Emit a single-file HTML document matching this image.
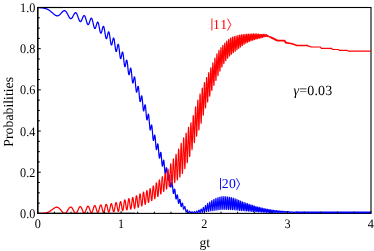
<!DOCTYPE html>
<html><head><meta charset="utf-8"><title>plot</title>
<style>
html,body{margin:0;padding:0;background:#fff;}
body{width:374px;height:251px;overflow:hidden;font-family:"Liberation Serif",serif;}
svg{display:block;will-change:transform;}
text{font-family:"Liberation Serif",serif;font-size:13px;fill:#000;text-rendering:geometricPrecision;}
</style></head><body>
<svg width="374" height="251" viewBox="0 0 374 251">
<rect x="0" y="0" width="374" height="251" fill="#fff"/>
<g stroke="#000" stroke-width="1.1" fill="none">
<rect x="37.75" y="7.5" width="333.25" height="205.90"/>
<line x1="37.75" y1="213.95000000000002" x2="37.75" y2="6.95" stroke-width="1.3"/>
</g>
<g fill="none" stroke-linejoin="round" stroke-linecap="butt">
<polyline stroke="#0000ff" stroke-width="1.22" points="37.8,7.5 37.8,7.5 37.8,7.5 37.9,7.5 37.9,7.5 37.9,7.5 38.0,7.5 38.0,7.5 38.0,7.5 38.1,7.5 38.1,7.5 38.2,7.5 38.2,7.5 38.2,7.5 38.3,7.5 38.3,7.5 38.3,7.5 38.4,7.5 38.4,7.5 38.5,7.6 38.5,7.6 38.5,7.6 38.6,7.6 38.6,7.6 38.6,7.6 38.7,7.6 38.7,7.6 38.7,7.6 38.8,7.6 38.8,7.6 38.9,7.6 38.9,7.6 38.9,7.6 39.0,7.6 39.0,7.6 39.0,7.6 39.1,7.6 39.1,7.6 39.2,7.6 39.2,7.6 39.2,7.6 39.3,7.6 39.3,7.6 39.3,7.6 39.4,7.6 39.4,7.6 39.5,7.6 39.5,7.6 39.5,7.6 39.6,7.6 39.6,7.6 39.6,7.6 39.7,7.6 39.7,7.6 39.7,7.7 39.8,7.7 39.8,7.7 39.9,7.7 39.9,7.7 39.9,7.7 40.0,7.7 40.0,7.7 40.0,7.7 40.1,7.7 40.1,7.7 40.2,7.7 40.2,7.7 40.2,7.7 40.3,7.7 40.3,7.7 40.3,7.7 40.4,7.7 40.4,7.7 40.5,7.7 40.5,7.7 40.5,7.7 40.6,7.7 40.6,7.7 40.6,7.7 40.7,7.7 40.7,7.7 40.7,7.7 40.8,7.7 40.8,7.7 40.9,7.8 40.9,7.8 40.9,7.8 41.0,7.8 41.0,7.8 41.0,7.8 41.1,7.8 41.1,7.8 41.2,7.8 41.2,7.8 41.2,7.8 41.3,7.8 41.3,7.8 41.3,7.8 41.4,7.8 41.4,7.8 41.5,7.8 41.5,7.8 41.5,7.8 41.6,7.8 41.6,7.8 41.6,7.8 41.7,7.8 41.7,7.8 41.7,7.8 41.8,7.8 41.8,7.9 41.9,7.9 41.9,7.9 41.9,7.9 42.0,7.9 42.0,7.9 42.0,7.9 42.1,7.9 42.1,7.9 42.2,7.9 42.2,7.9 42.2,7.9 42.3,7.9 42.3,7.9 42.3,7.9 42.4,7.9 42.4,7.9 42.5,7.9 42.5,7.9 42.5,7.9 42.6,7.9 42.6,8.0 42.6,8.0 42.7,8.0 42.7,8.0 42.7,8.0 42.8,8.0 42.8,8.0 42.9,8.0 42.9,8.0 42.9,8.0 43.0,8.0 43.0,8.0 43.0,8.0 43.1,8.0 43.1,8.0 43.2,8.0 43.2,8.0 43.2,8.0 43.3,8.1 43.3,8.1 43.3,8.1 43.4,8.1 43.4,8.1 43.5,8.1 43.5,8.1 43.5,8.1 43.6,8.1 43.6,8.1 43.6,8.1 43.7,8.1 43.7,8.1 43.7,8.1 43.8,8.1 43.8,8.1 43.9,8.2 43.9,8.2 43.9,8.2 44.0,8.2 44.0,8.2 44.0,8.2 44.1,8.2 44.1,8.2 44.2,8.2 44.2,8.2 44.2,8.2 44.3,8.2 44.3,8.2 44.3,8.3 44.4,8.3 44.4,8.3 44.5,8.3 44.5,8.3 44.5,8.3 44.6,8.3 44.6,8.3 44.6,8.3 44.7,8.3 44.7,8.3 44.7,8.3 44.8,8.4 44.8,8.4 44.9,8.4 44.9,8.4 44.9,8.4 45.0,8.4 45.0,8.4 45.0,8.4 45.1,8.4 45.1,8.4 45.2,8.4 45.2,8.5 45.2,8.5 45.3,8.5 45.3,8.5 45.3,8.5 45.4,8.5 45.4,8.5 45.4,8.5 45.5,8.5 45.5,8.6 45.6,8.6 45.6,8.6 45.6,8.6 45.7,8.6 45.7,8.6 45.7,8.6 45.8,8.6 45.8,8.6 45.9,8.7 45.9,8.7 45.9,8.7 46.0,8.7 46.0,8.7 46.0,8.7 46.1,8.7 46.1,8.7 46.2,8.8 46.2,8.8 46.2,8.8 46.3,8.8 46.3,8.8 46.3,8.8 46.4,8.8 46.4,8.8 46.4,8.9 46.5,8.9 46.5,8.9 46.6,8.9 46.6,8.9 46.6,8.9 46.7,8.9 46.7,9.0 46.7,9.0 46.8,9.0 46.8,9.0 46.9,9.0 46.9,9.0 46.9,9.1 47.0,9.1 47.0,9.1 47.0,9.1 47.1,9.1 47.1,9.1 47.2,9.1 47.2,9.2 47.2,9.2 47.3,9.2 47.3,9.2 47.3,9.2 47.4,9.2 47.4,9.3 47.4,9.3 47.5,9.3 47.5,9.3 47.6,9.3 47.6,9.3 47.6,9.4 47.7,9.4 47.7,9.4 47.7,9.4 47.8,9.4 47.8,9.5 47.9,9.5 47.9,9.5 47.9,9.5 48.0,9.5 48.0,9.6 48.0,9.6 48.1,9.6 48.1,9.6 48.2,9.6 48.2,9.7 48.2,9.7 48.3,9.7 48.3,9.7 48.3,9.7 48.4,9.8 48.4,9.8 48.4,9.8 48.5,9.8 48.5,9.8 48.6,9.9 48.6,9.9 48.6,9.9 48.7,9.9 48.7,10.0 48.7,10.0 48.8,10.0 48.8,10.0 48.9,10.0 48.9,10.1 48.9,10.1 49.0,10.1 49.0,10.1 49.0,10.2 49.1,10.2 49.1,10.2 49.2,10.2 49.2,10.3 49.2,10.3 49.3,10.3 49.3,10.3 49.3,10.4 49.4,10.4 49.4,10.4 49.4,10.4 49.5,10.5 49.5,10.5 49.6,10.5 49.6,10.5 49.6,10.6 49.7,10.6 49.7,10.6 49.7,10.6 49.8,10.7 49.8,10.7 49.9,10.7 49.9,10.7 49.9,10.8 50.0,10.8 50.0,10.8 50.0,10.9 50.1,10.9 50.1,10.9 50.2,10.9 50.2,11.0 50.2,11.0 50.3,11.0 50.3,11.0 50.3,11.1 50.4,11.1 50.4,11.1 50.4,11.2 50.5,11.2 50.5,11.2 50.6,11.2 50.6,11.3 50.6,11.3 50.7,11.3 50.7,11.4 50.7,11.4 50.8,11.4 50.8,11.5 50.9,11.5 50.9,11.5 50.9,11.5 51.0,11.6 51.0,11.6 51.0,11.6 51.1,11.7 51.1,11.7 51.2,11.7 51.2,11.8 51.2,11.8 51.3,11.8 51.3,11.9 51.3,11.9 51.4,11.9 51.4,12.0 51.4,12.0 51.5,12.0 51.5,12.0 51.6,12.1 51.6,12.1 51.6,12.1 51.7,12.2 51.7,12.2 51.7,12.2 51.8,12.3 51.8,12.3 51.9,12.3 51.9,12.4 51.9,12.4 52.0,12.4 52.0,12.5 52.0,12.5 52.1,12.5 52.1,12.6 52.1,12.6 52.2,12.6 52.2,12.7 52.3,12.7 52.3,12.7 52.3,12.8 52.4,12.8 52.4,12.8 52.4,12.9 52.5,12.9 52.5,12.9 52.6,13.0 52.6,13.0 52.6,13.0 52.7,13.1 52.7,13.1 52.7,13.1 52.8,13.2 52.8,13.2 52.9,13.2 52.9,13.3 52.9,13.3 53.0,13.3 53.0,13.4 53.0,13.4 53.1,13.4 53.1,13.5 53.1,13.5 53.2,13.5 53.2,13.6 53.3,13.6 53.3,13.6 53.3,13.7 53.4,13.7 53.4,13.7 53.4,13.7 53.5,13.8 53.5,13.8 53.6,13.8 53.6,13.9 53.6,13.9 53.7,13.9 53.7,14.0 53.7,14.0 53.8,14.0 53.8,14.1 53.9,14.1 53.9,14.1 53.9,14.2 54.0,14.2 54.0,14.2 54.0,14.3 54.1,14.3 54.1,14.3 54.1,14.3 54.2,14.4 54.2,14.4 54.3,14.4 54.3,14.5 54.3,14.5 54.4,14.5 54.4,14.5 54.4,14.6 54.5,14.6 54.5,14.6 54.6,14.7 54.6,14.7 54.6,14.7 54.7,14.7 54.7,14.8 54.7,14.8 54.8,14.8 54.8,14.8 54.9,14.9 54.9,14.9 54.9,14.9 55.0,14.9 55.0,15.0 55.0,15.0 55.1,15.0 55.1,15.0 55.1,15.1 55.2,15.1 55.2,15.1 55.3,15.1 55.3,15.2 55.3,15.2 55.4,15.2 55.4,15.2 55.4,15.3 55.5,15.3 55.5,15.3 55.6,15.3 55.6,15.3 55.6,15.4 55.7,15.4 55.7,15.4 55.7,15.4 55.8,15.4 55.8,15.4 55.9,15.5 55.9,15.5 55.9,15.5 56.0,15.5 56.0,15.5 56.0,15.5 56.1,15.6 56.1,15.6 56.1,15.6 56.2,15.6 56.2,15.6 56.3,15.6 56.3,15.6 56.3,15.7 56.4,15.7 56.4,15.7 56.4,15.7 56.5,15.7 56.5,15.7 56.6,15.7 56.6,15.7 56.6,15.7 56.7,15.7 56.7,15.8 56.7,15.8 56.8,15.8 56.8,15.8 56.9,15.8 56.9,15.8 56.9,15.8 57.0,15.8 57.0,15.8 57.0,15.8 57.1,15.8 57.1,15.8 57.1,15.8 57.2,15.8 57.2,15.8 57.3,15.8 57.3,15.8 57.3,15.8 57.4,15.8 57.4,15.8 57.4,15.8 57.5,15.8 57.5,15.8 57.6,15.8 57.6,15.8 57.6,15.8 57.7,15.8 57.7,15.8 57.7,15.8 57.8,15.8 57.8,15.8 57.9,15.8 57.9,15.8 57.9,15.7 58.0,15.7 58.0,15.7 58.0,15.7 58.1,15.7 58.1,15.7 58.1,15.7 58.2,15.7 58.2,15.7 58.3,15.6 58.3,15.6 58.3,15.6 58.4,15.6 58.4,15.6 58.4,15.6 58.5,15.6 58.5,15.5 58.6,15.5 58.6,15.5 58.6,15.5 58.7,15.5 58.7,15.4 58.7,15.4 58.8,15.4 58.8,15.4 58.8,15.4 58.9,15.3 58.9,15.3 59.0,15.3 59.0,15.3 59.0,15.2 59.1,15.2 59.1,15.2 59.1,15.2 59.2,15.1 59.2,15.1 59.3,15.1 59.3,15.1 59.3,15.0 59.4,15.0 59.4,15.0 59.4,14.9 59.5,14.9 59.5,14.9 59.6,14.9 59.6,14.8 59.6,14.8 59.7,14.8 59.7,14.7 59.7,14.7 59.8,14.7 59.8,14.6 59.8,14.6 59.9,14.6 59.9,14.5 60.0,14.5 60.0,14.5 60.0,14.4 60.1,14.4 60.1,14.3 60.1,14.3 60.2,14.3 60.2,14.2 60.3,14.2 60.3,14.2 60.3,14.1 60.4,14.1 60.4,14.0 60.4,14.0 60.5,14.0 60.5,13.9 60.6,13.9 60.6,13.8 60.6,13.8 60.7,13.8 60.7,13.7 60.7,13.7 60.8,13.6 60.8,13.6 60.8,13.6 60.9,13.5 60.9,13.5 61.0,13.4 61.0,13.4 61.0,13.3 61.1,13.3 61.1,13.3 61.1,13.2 61.2,13.2 61.2,13.1 61.3,13.1 61.3,13.0 61.3,13.0 61.4,13.0 61.4,12.9 61.4,12.9 61.5,12.8 61.5,12.8 61.6,12.7 61.6,12.7 61.6,12.7 61.7,12.6 61.7,12.6 61.7,12.5 61.8,12.5 61.8,12.5 61.8,12.4 61.9,12.4 61.9,12.3 62.0,12.3 62.0,12.2 62.0,12.2 62.1,12.2 62.1,12.1 62.1,12.1 62.2,12.0 62.2,12.0 62.3,12.0 62.3,11.9 62.3,11.9 62.4,11.8 62.4,11.8 62.4,11.8 62.5,11.7 62.5,11.7 62.6,11.7 62.6,11.6 62.6,11.6 62.7,11.6 62.7,11.5 62.7,11.5 62.8,11.4 62.8,11.4 62.8,11.4 62.9,11.4 62.9,11.3 63.0,11.3 63.0,11.3 63.0,11.2 63.1,11.2 63.1,11.2 63.1,11.1 63.2,11.1 63.2,11.1 63.3,11.1 63.3,11.0 63.3,11.0 63.4,11.0 63.4,11.0 63.4,10.9 63.5,10.9 63.5,10.9 63.6,10.9 63.6,10.9 63.6,10.8 63.7,10.8 63.7,10.8 63.7,10.8 63.8,10.8 63.8,10.8 63.8,10.7 63.9,10.7 63.9,10.7 64.0,10.7 64.0,10.7 64.0,10.7 64.1,10.7 64.1,10.7 64.1,10.7 64.2,10.6 64.2,10.6 64.3,10.6 64.3,10.6 64.3,10.6 64.4,10.6 64.4,10.6 64.4,10.6 64.5,10.6 64.5,10.6 64.6,10.6 64.6,10.6 64.6,10.6 64.7,10.7 64.7,10.7 64.7,10.7 64.8,10.7 64.8,10.7 64.8,10.7 64.9,10.7 64.9,10.7 65.0,10.7 65.0,10.8 65.0,10.8 65.1,10.8 65.1,10.8 65.1,10.8 65.2,10.8 65.2,10.9 65.3,10.9 65.3,10.9 65.3,10.9 65.4,11.0 65.4,11.0 65.4,11.0 65.5,11.1 65.5,11.1 65.5,11.1 65.6,11.1 65.6,11.2 65.7,11.2 65.7,11.2 65.7,11.3 65.8,11.3 65.8,11.4 65.8,11.4 65.9,11.4 65.9,11.5 66.0,11.5 66.0,11.6 66.0,11.6 66.1,11.7 66.1,11.7 66.1,11.7 66.2,11.8 66.2,11.8 66.3,11.9 66.3,11.9 66.3,12.0 66.4,12.0 66.4,12.1 66.4,12.2 66.5,12.2 66.5,12.3 66.5,12.3 66.6,12.4 66.6,12.4 66.7,12.5 66.7,12.6 66.7,12.6 66.8,12.7 66.8,12.7 66.8,12.8 66.9,12.9 66.9,12.9 67.0,13.0 67.0,13.1 67.0,13.1 67.1,13.2 67.1,13.3 67.1,13.3 67.2,13.4 67.2,13.5 67.3,13.5 67.3,13.6 67.3,13.7 67.4,13.7 67.4,13.8 67.4,13.9 67.5,14.0 67.5,14.0 67.5,14.1 67.6,14.2 67.6,14.2 67.7,14.3 67.7,14.4 67.7,14.5 67.8,14.5 67.8,14.6 67.8,14.7 67.9,14.8 67.9,14.8 68.0,14.9 68.0,15.0 68.0,15.0 68.1,15.1 68.1,15.2 68.1,15.3 68.2,15.3 68.2,15.4 68.3,15.5 68.3,15.6 68.3,15.6 68.4,15.7 68.4,15.8 68.4,15.8 68.5,15.9 68.5,16.0 68.5,16.1 68.6,16.1 68.6,16.2 68.7,16.3 68.7,16.3 68.7,16.4 68.8,16.5 68.8,16.5 68.8,16.6 68.9,16.7 68.9,16.7 69.0,16.8 69.0,16.9 69.0,16.9 69.1,17.0 69.1,17.0 69.1,17.1 69.2,17.2 69.2,17.2 69.3,17.3 69.3,17.3 69.3,17.4 69.4,17.5 69.4,17.5 69.4,17.6 69.5,17.6 69.5,17.7 69.5,17.7 69.6,17.8 69.6,17.8 69.7,17.9 69.7,17.9 69.7,17.9 69.8,18.0 69.8,18.0 69.8,18.1 69.9,18.1 69.9,18.1 70.0,18.2 70.0,18.2 70.0,18.3 70.1,18.3 70.1,18.3 70.1,18.3 70.2,18.4 70.2,18.4 70.3,18.4 70.3,18.5 70.3,18.5 70.4,18.5 70.4,18.5 70.4,18.5 70.5,18.6 70.5,18.6 70.5,18.6 70.6,18.6 70.6,18.6 70.7,18.6 70.7,18.6 70.7,18.6 70.8,18.6 70.8,18.6 70.8,18.6 70.9,18.6 70.9,18.6 71.0,18.6 71.0,18.6 71.0,18.6 71.1,18.6 71.1,18.6 71.1,18.6 71.2,18.6 71.2,18.6 71.3,18.5 71.3,18.5 71.3,18.5 71.4,18.5 71.4,18.5 71.4,18.4 71.5,18.4 71.5,18.4 71.5,18.4 71.6,18.3 71.6,18.3 71.7,18.3 71.7,18.2 71.7,18.2 71.8,18.2 71.8,18.1 71.8,18.1 71.9,18.0 71.9,18.0 72.0,17.9 72.0,17.9 72.0,17.9 72.1,17.8 72.1,17.8 72.1,17.7 72.2,17.7 72.2,17.6 72.2,17.5 72.3,17.5 72.3,17.4 72.4,17.4 72.4,17.3 72.4,17.3 72.5,17.2 72.5,17.1 72.5,17.1 72.6,17.0 72.6,16.9 72.7,16.9 72.7,16.8 72.7,16.7 72.8,16.7 72.8,16.6 72.8,16.5 72.9,16.5 72.9,16.4 73.0,16.3 73.0,16.3 73.0,16.2 73.1,16.1 73.1,16.1 73.1,16.0 73.2,15.9 73.2,15.8 73.2,15.8 73.3,15.7 73.3,15.6 73.4,15.5 73.4,15.5 73.4,15.4 73.5,15.3 73.5,15.3 73.5,15.2 73.6,15.1 73.6,15.0 73.7,15.0 73.7,14.9 73.7,14.8 73.8,14.8 73.8,14.7 73.8,14.6 73.9,14.5 73.9,14.5 74.0,14.4 74.0,14.3 74.0,14.3 74.1,14.2 74.1,14.1 74.1,14.1 74.2,14.0 74.2,14.0 74.2,13.9 74.3,13.8 74.3,13.8 74.4,13.7 74.4,13.7 74.4,13.6 74.5,13.5 74.5,13.5 74.5,13.4 74.6,13.4 74.6,13.3 74.7,13.3 74.7,13.2 74.7,13.2 74.8,13.2 74.8,13.1 74.8,13.1 74.9,13.0 74.9,13.0 75.0,13.0 75.0,12.9 75.0,12.9 75.1,12.9 75.1,12.9 75.1,12.8 75.2,12.8 75.2,12.8 75.2,12.8 75.3,12.7 75.3,12.7 75.4,12.7 75.4,12.7 75.4,12.7 75.5,12.7 75.5,12.7 75.5,12.7 75.6,12.7 75.6,12.7 75.7,12.7 75.7,12.7 75.7,12.7 75.8,12.7 75.8,12.7 75.8,12.7 75.9,12.7 75.9,12.8 76.0,12.8 76.0,12.8 76.0,12.8 76.1,12.9 76.1,12.9 76.1,12.9 76.2,13.0 76.2,13.0 76.2,13.0 76.3,13.1 76.3,13.1 76.4,13.2 76.4,13.2 76.4,13.3 76.5,13.3 76.5,13.4 76.5,13.4 76.6,13.5 76.6,13.5 76.7,13.6 76.7,13.7 76.7,13.7 76.8,13.8 76.8,13.9 76.8,13.9 76.9,14.0 76.9,14.1 77.0,14.2 77.0,14.2 77.0,14.3 77.1,14.4 77.1,14.5 77.1,14.6 77.2,14.7 77.2,14.7 77.2,14.8 77.3,14.9 77.3,15.0 77.4,15.1 77.4,15.2 77.4,15.3 77.5,15.4 77.5,15.5 77.5,15.6 77.6,15.7 77.6,15.8 77.7,15.9 77.7,16.0 77.7,16.1 77.8,16.2 77.8,16.3 77.8,16.4 77.9,16.5 77.9,16.6 78.0,16.8 78.0,16.9 78.0,17.0 78.1,17.1 78.1,17.2 78.1,17.3 78.2,17.4 78.2,17.5 78.2,17.6 78.3,17.7 78.3,17.8 78.4,17.9 78.4,18.0 78.4,18.2 78.5,18.3 78.5,18.4 78.5,18.5 78.6,18.6 78.6,18.7 78.7,18.8 78.7,18.9 78.7,19.0 78.8,19.1 78.8,19.2 78.8,19.3 78.9,19.4 78.9,19.5 78.9,19.6 79.0,19.7 79.0,19.7 79.1,19.8 79.1,19.9 79.1,20.0 79.2,20.1 79.2,20.2 79.2,20.2 79.3,20.3 79.3,20.4 79.4,20.5 79.4,20.5 79.4,20.6 79.5,20.7 79.5,20.8 79.5,20.8 79.6,20.9 79.6,20.9 79.7,21.0 79.7,21.0 79.7,21.1 79.8,21.2 79.8,21.2 79.8,21.2 79.9,21.3 79.9,21.3 79.9,21.4 80.0,21.4 80.0,21.4 80.1,21.5 80.1,21.5 80.1,21.5 80.2,21.5 80.2,21.5 80.2,21.6 80.3,21.6 80.3,21.6 80.4,21.6 80.4,21.6 80.4,21.6 80.5,21.6 80.5,21.6 80.5,21.6 80.6,21.6 80.6,21.6 80.7,21.5 80.7,21.5 80.7,21.5 80.8,21.5 80.8,21.4 80.8,21.4 80.9,21.4 80.9,21.4 80.9,21.3 81.0,21.3 81.0,21.2 81.1,21.2 81.1,21.1 81.1,21.1 81.2,21.0 81.2,21.0 81.2,20.9 81.3,20.9 81.3,20.8 81.4,20.7 81.4,20.7 81.4,20.6 81.5,20.5 81.5,20.5 81.5,20.4 81.6,20.3 81.6,20.3 81.7,20.2 81.7,20.1 81.7,20.0 81.8,19.9 81.8,19.9 81.8,19.8 81.9,19.7 81.9,19.6 81.9,19.5 82.0,19.4 82.0,19.3 82.1,19.2 82.1,19.1 82.1,19.1 82.2,19.0 82.2,18.9 82.2,18.8 82.3,18.7 82.3,18.6 82.4,18.5 82.4,18.4 82.4,18.3 82.5,18.2 82.5,18.1 82.5,18.0 82.6,17.9 82.6,17.8 82.7,17.8 82.7,17.7 82.7,17.6 82.8,17.5 82.8,17.4 82.8,17.3 82.9,17.2 82.9,17.1 82.9,17.1 83.0,17.0 83.0,16.9 83.1,16.8 83.1,16.7 83.1,16.7 83.2,16.6 83.2,16.5 83.2,16.4 83.3,16.4 83.3,16.3 83.4,16.2 83.4,16.2 83.4,16.1 83.5,16.1 83.5,16.0 83.5,16.0 83.6,15.9 83.6,15.9 83.7,15.8 83.7,15.8 83.7,15.8 83.8,15.7 83.8,15.7 83.8,15.7 83.9,15.6 83.9,15.6 83.9,15.6 84.0,15.6 84.0,15.6 84.1,15.6 84.1,15.5 84.1,15.5 84.2,15.5 84.2,15.6 84.2,15.6 84.3,15.6 84.3,15.6 84.4,15.6 84.4,15.6 84.4,15.6 84.5,15.7 84.5,15.7 84.5,15.7 84.6,15.8 84.6,15.8 84.7,15.9 84.7,15.9 84.7,16.0 84.8,16.0 84.8,16.1 84.8,16.1 84.9,16.2 84.9,16.3 84.9,16.3 85.0,16.4 85.0,16.5 85.1,16.6 85.1,16.7 85.1,16.7 85.2,16.8 85.2,16.9 85.2,17.0 85.3,17.1 85.3,17.2 85.4,17.3 85.4,17.4 85.4,17.5 85.5,17.6 85.5,17.8 85.5,17.9 85.6,18.0 85.6,18.1 85.6,18.2 85.7,18.3 85.7,18.5 85.8,18.6 85.8,18.7 85.8,18.8 85.9,19.0 85.9,19.1 85.9,19.2 86.0,19.4 86.0,19.5 86.1,19.6 86.1,19.8 86.1,19.9 86.2,20.0 86.2,20.2 86.2,20.3 86.3,20.4 86.3,20.6 86.4,20.7 86.4,20.8 86.4,21.0 86.5,21.1 86.5,21.2 86.5,21.3 86.6,21.5 86.6,21.6 86.6,21.7 86.7,21.9 86.7,22.0 86.8,22.1 86.8,22.2 86.8,22.3 86.9,22.5 86.9,22.6 86.9,22.7 87.0,22.8 87.0,22.9 87.1,23.0 87.1,23.1 87.1,23.2 87.2,23.3 87.2,23.4 87.2,23.5 87.3,23.6 87.3,23.7 87.4,23.8 87.4,23.8 87.4,23.9 87.5,24.0 87.5,24.1 87.5,24.1 87.6,24.2 87.6,24.3 87.6,24.3 87.7,24.4 87.7,24.4 87.8,24.5 87.8,24.5 87.8,24.5 87.9,24.6 87.9,24.6 87.9,24.6 88.0,24.6 88.0,24.6 88.1,24.7 88.1,24.7 88.1,24.7 88.2,24.7 88.2,24.7 88.2,24.7 88.3,24.6 88.3,24.6 88.4,24.6 88.4,24.6 88.4,24.5 88.5,24.5 88.5,24.5 88.5,24.4 88.6,24.4 88.6,24.3 88.6,24.3 88.7,24.2 88.7,24.2 88.8,24.1 88.8,24.1 88.8,24.0 88.9,23.9 88.9,23.8 88.9,23.8 89.0,23.7 89.0,23.6 89.1,23.5 89.1,23.4 89.1,23.3 89.2,23.2 89.2,23.1 89.2,23.0 89.3,22.9 89.3,22.8 89.4,22.7 89.4,22.6 89.4,22.5 89.5,22.4 89.5,22.3 89.5,22.2 89.6,22.0 89.6,21.9 89.6,21.8 89.7,21.7 89.7,21.6 89.8,21.5 89.8,21.4 89.8,21.2 89.9,21.1 89.9,21.0 89.9,20.9 90.0,20.8 90.0,20.7 90.1,20.5 90.1,20.4 90.1,20.3 90.2,20.2 90.2,20.1 90.2,20.0 90.3,19.9 90.3,19.8 90.4,19.7 90.4,19.6 90.4,19.5 90.5,19.4 90.5,19.3 90.5,19.2 90.6,19.1 90.6,19.0 90.6,18.9 90.7,18.9 90.7,18.8 90.8,18.7 90.8,18.7 90.8,18.6 90.9,18.5 90.9,18.5 90.9,18.4 91.0,18.4 91.0,18.3 91.1,18.3 91.1,18.3 91.1,18.2 91.2,18.2 91.2,18.2 91.2,18.2 91.3,18.2 91.3,18.2 91.4,18.2 91.4,18.2 91.4,18.2 91.5,18.2 91.5,18.2 91.5,18.2 91.6,18.3 91.6,18.3 91.6,18.3 91.7,18.4 91.7,18.4 91.8,18.5 91.8,18.5 91.8,18.6 91.9,18.7 91.9,18.7 91.9,18.8 92.0,18.9 92.0,19.0 92.1,19.1 92.1,19.2 92.1,19.3 92.2,19.4 92.2,19.5 92.2,19.6 92.3,19.7 92.3,19.8 92.3,20.0 92.4,20.1 92.4,20.2 92.5,20.4 92.5,20.5 92.5,20.6 92.6,20.8 92.6,20.9 92.6,21.1 92.7,21.2 92.7,21.4 92.8,21.5 92.8,21.7 92.8,21.9 92.9,22.0 92.9,22.2 92.9,22.4 93.0,22.5 93.0,22.7 93.1,22.9 93.1,23.0 93.1,23.2 93.2,23.4 93.2,23.5 93.2,23.7 93.3,23.9 93.3,24.0 93.3,24.2 93.4,24.4 93.4,24.6 93.5,24.7 93.5,24.9 93.5,25.0 93.6,25.2 93.6,25.4 93.6,25.5 93.7,25.7 93.7,25.8 93.8,26.0 93.8,26.1 93.8,26.3 93.9,26.4 93.9,26.5 93.9,26.7 94.0,26.8 94.0,26.9 94.1,27.1 94.1,27.2 94.1,27.3 94.2,27.4 94.2,27.5 94.2,27.6 94.3,27.7 94.3,27.8 94.3,27.9 94.4,28.0 94.4,28.0 94.5,28.1 94.5,28.2 94.5,28.2 94.6,28.3 94.6,28.3 94.6,28.4 94.7,28.4 94.7,28.5 94.8,28.5 94.8,28.5 94.8,28.5 94.9,28.5 94.9,28.5 94.9,28.5 95.0,28.5 95.0,28.5 95.1,28.5 95.1,28.5 95.1,28.4 95.2,28.4 95.2,28.4 95.2,28.3 95.3,28.3 95.3,28.2 95.3,28.2 95.4,28.1 95.4,28.0 95.5,28.0 95.5,27.9 95.5,27.8 95.6,27.7 95.6,27.6 95.6,27.5 95.7,27.4 95.7,27.3 95.8,27.2 95.8,27.1 95.8,27.0 95.9,26.9 95.9,26.8 95.9,26.6 96.0,26.5 96.0,26.4 96.1,26.3 96.1,26.1 96.1,26.0 96.2,25.9 96.2,25.8 96.2,25.6 96.3,25.5 96.3,25.4 96.3,25.2 96.4,25.1 96.4,25.0 96.5,24.8 96.5,24.7 96.5,24.6 96.6,24.4 96.6,24.3 96.6,24.2 96.7,24.0 96.7,23.9 96.8,23.8 96.8,23.7 96.8,23.6 96.9,23.5 96.9,23.4 96.9,23.2 97.0,23.1 97.0,23.1 97.1,23.0 97.1,22.9 97.1,22.8 97.2,22.7 97.2,22.6 97.2,22.6 97.3,22.5 97.3,22.4 97.3,22.4 97.4,22.3 97.4,22.3 97.5,22.2 97.5,22.2 97.5,22.2 97.6,22.2 97.6,22.1 97.6,22.1 97.7,22.1 97.7,22.1 97.8,22.2 97.8,22.2 97.8,22.2 97.9,22.2 97.9,22.3 97.9,22.3 98.0,22.4 98.0,22.4 98.1,22.5 98.1,22.5 98.1,22.6 98.2,22.7 98.2,22.8 98.2,22.9 98.3,23.0 98.3,23.1 98.3,23.2 98.4,23.3 98.4,23.4 98.5,23.6 98.5,23.7 98.5,23.8 98.6,24.0 98.6,24.1 98.6,24.3 98.7,24.5 98.7,24.6 98.8,24.8 98.8,25.0 98.8,25.1 98.9,25.3 98.9,25.5 98.9,25.7 99.0,25.9 99.0,26.1 99.0,26.2 99.1,26.4 99.1,26.6 99.2,26.8 99.2,27.0 99.2,27.2 99.3,27.4 99.3,27.6 99.3,27.8 99.4,28.0 99.4,28.2 99.5,28.5 99.5,28.7 99.5,28.9 99.6,29.0 99.6,29.2 99.6,29.4 99.7,29.6 99.7,29.8 99.8,30.0 99.8,30.2 99.8,30.4 99.9,30.5 99.9,30.7 99.9,30.9 100.0,31.1 100.0,31.2 100.0,31.4 100.1,31.5 100.1,31.7 100.2,31.8 100.2,31.9 100.2,32.1 100.3,32.2 100.3,32.3 100.3,32.4 100.4,32.5 100.4,32.6 100.5,32.7 100.5,32.8 100.5,32.9 100.6,32.9 100.6,33.0 100.6,33.0 100.7,33.1 100.7,33.1 100.8,33.2 100.8,33.2 100.8,33.2 100.9,33.2 100.9,33.2 100.9,33.2 101.0,33.2 101.0,33.2 101.0,33.2 101.1,33.1 101.1,33.1 101.2,33.1 101.2,33.0 101.2,33.0 101.3,32.9 101.3,32.8 101.3,32.7 101.4,32.6 101.4,32.6 101.5,32.5 101.5,32.4 101.5,32.3 101.6,32.1 101.6,32.0 101.6,31.9 101.7,31.8 101.7,31.6 101.8,31.5 101.8,31.4 101.8,31.2 101.9,31.1 101.9,30.9 101.9,30.8 102.0,30.6 102.0,30.5 102.0,30.3 102.1,30.2 102.1,30.0 102.2,29.9 102.2,29.7 102.2,29.6 102.3,29.4 102.3,29.2 102.3,29.1 102.4,28.9 102.4,28.8 102.5,28.6 102.5,28.5 102.5,28.3 102.6,28.2 102.6,28.1 102.6,27.9 102.7,27.8 102.7,27.7 102.8,27.5 102.8,27.4 102.8,27.3 102.9,27.2 102.9,27.1 102.9,27.0 103.0,26.9 103.0,26.8 103.0,26.8 103.1,26.7 103.1,26.6 103.2,26.6 103.2,26.5 103.2,26.5 103.3,26.4 103.3,26.4 103.3,26.4 103.4,26.4 103.4,26.4 103.5,26.4 103.5,26.4 103.5,26.4 103.6,26.5 103.6,26.5 103.6,26.5 103.7,26.6 103.7,26.7 103.8,26.7 103.8,26.8 103.8,26.9 103.9,27.0 103.9,27.1 103.9,27.2 104.0,27.4 104.0,27.5 104.0,27.6 104.1,27.8 104.1,27.9 104.2,28.1 104.2,28.2 104.2,28.4 104.3,28.6 104.3,28.8 104.3,29.0 104.4,29.2 104.4,29.4 104.5,29.6 104.5,29.8 104.5,30.0 104.6,30.2 104.6,30.4 104.6,30.7 104.7,30.9 104.7,31.1 104.8,31.4 104.8,31.6 104.8,31.8 104.9,32.1 104.9,32.3 104.9,32.6 105.0,32.8 105.0,33.0 105.0,33.3 105.1,33.5 105.1,33.8 105.2,34.0 105.2,34.2 105.2,34.5 105.3,34.7 105.3,34.9 105.3,35.1 105.4,35.4 105.4,35.6 105.5,35.8 105.5,36.0 105.5,36.2 105.6,36.4 105.6,36.5 105.6,36.7 105.7,36.9 105.7,37.1 105.7,37.2 105.8,37.4 105.8,37.5 105.9,37.7 105.9,37.8 105.9,37.9 106.0,38.0 106.0,38.1 106.0,38.2 106.1,38.3 106.1,38.4 106.2,38.4 106.2,38.5 106.2,38.5 106.3,38.6 106.3,38.6 106.3,38.6 106.4,38.7 106.4,38.7 106.5,38.6 106.5,38.6 106.5,38.6 106.6,38.6 106.6,38.5 106.6,38.5 106.7,38.4 106.7,38.4 106.7,38.3 106.8,38.2 106.8,38.1 106.9,38.0 106.9,37.9 106.9,37.8 107.0,37.7 107.0,37.6 107.0,37.4 107.1,37.3 107.1,37.2 107.2,37.0 107.2,36.9 107.2,36.7 107.3,36.5 107.3,36.4 107.3,36.2 107.4,36.1 107.4,35.9 107.5,35.7 107.5,35.5 107.5,35.4 107.6,35.2 107.6,35.0 107.6,34.9 107.7,34.7 107.7,34.5 107.7,34.3 107.8,34.2 107.8,34.0 107.9,33.9 107.9,33.7 107.9,33.5 108.0,33.4 108.0,33.3 108.0,33.1 108.1,33.0 108.1,32.9 108.2,32.7 108.2,32.6 108.2,32.5 108.3,32.4 108.3,32.3 108.3,32.2 108.4,32.2 108.4,32.1 108.5,32.0 108.5,32.0 108.5,31.9 108.6,31.9 108.6,31.9 108.6,31.9 108.7,31.9 108.7,31.9 108.7,31.9 108.8,31.9 108.8,32.0 108.9,32.0 108.9,32.1 108.9,32.1 109.0,32.2 109.0,32.3 109.0,32.4 109.1,32.5 109.1,32.6 109.2,32.7 109.2,32.9 109.2,33.0 109.3,33.2 109.3,33.4 109.3,33.5 109.4,33.7 109.4,33.9 109.5,34.1 109.5,34.3 109.5,34.5 109.6,34.7 109.6,35.0 109.6,35.2 109.7,35.4 109.7,35.7 109.7,35.9 109.8,36.2 109.8,36.4 109.9,36.7 109.9,37.0 109.9,37.2 110.0,37.5 110.0,37.8 110.0,38.1 110.1,38.3 110.1,38.6 110.2,38.9 110.2,39.2 110.2,39.4 110.3,39.7 110.3,40.0 110.3,40.2 110.4,40.5 110.4,40.8 110.5,41.0 110.5,41.3 110.5,41.5 110.6,41.8 110.6,42.0 110.6,42.2 110.7,42.4 110.7,42.7 110.7,42.9 110.8,43.1 110.8,43.3 110.9,43.4 110.9,43.6 110.9,43.8 111.0,43.9 111.0,44.1 111.0,44.2 111.1,44.3 111.1,44.4 111.2,44.5 111.2,44.6 111.2,44.7 111.3,44.8 111.3,44.8 111.3,44.9 111.4,44.9 111.4,45.0 111.5,45.0 111.5,45.0 111.5,45.0 111.6,45.0 111.6,44.9 111.6,44.9 111.7,44.8 111.7,44.8 111.7,44.7 111.8,44.6 111.8,44.5 111.9,44.4 111.9,44.3 111.9,44.2 112.0,44.1 112.0,44.0 112.0,43.8 112.1,43.7 112.1,43.5 112.2,43.4 112.2,43.2 112.2,43.0 112.3,42.9 112.3,42.7 112.3,42.5 112.4,42.3 112.4,42.1 112.4,41.9 112.5,41.8 112.5,41.6 112.6,41.4 112.6,41.2 112.6,41.0 112.7,40.8 112.7,40.6 112.7,40.4 112.8,40.3 112.8,40.1 112.9,39.9 112.9,39.7 112.9,39.6 113.0,39.4 113.0,39.3 113.0,39.1 113.1,39.0 113.1,38.8 113.2,38.7 113.2,38.6 113.2,38.5 113.3,38.4 113.3,38.3 113.3,38.2 113.4,38.2 113.4,38.1 113.4,38.1 113.5,38.0 113.5,38.0 113.6,38.0 113.6,38.0 113.6,38.0 113.7,38.0 113.7,38.1 113.7,38.1 113.8,38.2 113.8,38.3 113.9,38.3 113.9,38.4 113.9,38.5 114.0,38.7 114.0,38.8 114.0,38.9 114.1,39.1 114.1,39.3 114.2,39.4 114.2,39.6 114.2,39.8 114.3,40.0 114.3,40.2 114.3,40.5 114.4,40.7 114.4,40.9 114.4,41.2 114.5,41.4 114.5,41.7 114.6,42.0 114.6,42.2 114.6,42.5 114.7,42.8 114.7,43.1 114.7,43.4 114.8,43.7 114.8,44.0 114.9,44.3 114.9,44.6 114.9,44.9 115.0,45.2 115.0,45.5 115.0,45.8 115.1,46.1 115.1,46.4 115.2,46.7 115.2,47.0 115.2,47.2 115.3,47.5 115.3,47.8 115.3,48.1 115.4,48.3 115.4,48.6 115.4,48.8 115.5,49.1 115.5,49.3 115.6,49.5 115.6,49.7 115.6,49.9 115.7,50.1 115.7,50.3 115.7,50.4 115.8,50.6 115.8,50.7 115.9,50.9 115.9,51.0 115.9,51.1 116.0,51.2 116.0,51.3 116.0,51.3 116.1,51.4 116.1,51.4 116.2,51.5 116.2,51.5 116.2,51.5 116.3,51.5 116.3,51.5 116.3,51.4 116.4,51.4 116.4,51.3 116.4,51.2 116.5,51.2 116.5,51.1 116.6,51.0 116.6,50.9 116.6,50.7 116.7,50.6 116.7,50.5 116.7,50.3 116.8,50.1 116.8,50.0 116.9,49.8 116.9,49.6 116.9,49.4 117.0,49.2 117.0,49.1 117.0,48.9 117.1,48.7 117.1,48.4 117.2,48.2 117.2,48.0 117.2,47.8 117.3,47.6 117.3,47.4 117.3,47.2 117.4,47.0 117.4,46.8 117.4,46.6 117.5,46.4 117.5,46.2 117.6,46.0 117.6,45.9 117.6,45.7 117.7,45.5 117.7,45.4 117.7,45.2 117.8,45.1 117.8,45.0 117.9,44.9 117.9,44.8 117.9,44.7 118.0,44.6 118.0,44.5 118.0,44.4 118.1,44.4 118.1,44.4 118.2,44.3 118.2,44.3 118.2,44.3 118.3,44.4 118.3,44.4 118.3,44.5 118.4,44.5 118.4,44.6 118.4,44.7 118.5,44.8 118.5,44.9 118.6,45.0 118.6,45.2 118.6,45.3 118.7,45.5 118.7,45.7 118.7,45.9 118.8,46.1 118.8,46.3 118.9,46.6 118.9,46.8 118.9,47.1 119.0,47.3 119.0,47.6 119.0,47.9 119.1,48.2 119.1,48.5 119.1,48.8 119.2,49.1 119.2,49.4 119.3,49.7 119.3,50.0 119.3,50.4 119.4,50.7 119.4,51.0 119.4,51.4 119.5,51.7 119.5,52.0 119.6,52.4 119.6,52.7 119.6,53.0 119.7,53.3 119.7,53.7 119.7,54.0 119.8,54.3 119.8,54.6 119.9,54.9 119.9,55.2 119.9,55.5 120.0,55.7 120.0,56.0 120.0,56.3 120.1,56.5 120.1,56.7 120.1,57.0 120.2,57.2 120.2,57.4 120.3,57.5 120.3,57.7 120.3,57.9 120.4,58.0 120.4,58.1 120.4,58.2 120.5,58.3 120.5,58.4 120.6,58.5 120.6,58.6 120.6,58.6 120.7,58.6 120.7,58.6 120.7,58.6 120.8,58.6 120.8,58.6 120.9,58.6 120.9,58.5 120.9,58.4 121.0,58.3 121.0,58.2 121.0,58.1 121.1,58.0 121.1,57.9 121.1,57.8 121.2,57.6 121.2,57.5 121.3,57.3 121.3,57.1 121.3,56.9 121.4,56.7 121.4,56.6 121.4,56.4 121.5,56.2 121.5,56.0 121.6,55.7 121.6,55.5 121.6,55.3 121.7,55.1 121.7,54.9 121.7,54.7 121.8,54.5 121.8,54.3 121.9,54.1 121.9,53.9 121.9,53.7 122.0,53.5 122.0,53.4 122.0,53.2 122.1,53.0 122.1,52.9 122.1,52.7 122.2,52.6 122.2,52.5 122.3,52.4 122.3,52.3 122.3,52.2 122.4,52.2 122.4,52.1 122.4,52.1 122.5,52.0 122.5,52.0 122.6,52.0 122.6,52.0 122.6,52.1 122.7,52.1 122.7,52.2 122.7,52.3 122.8,52.4 122.8,52.5 122.9,52.6 122.9,52.7 122.9,52.9 123.0,53.1 123.0,53.2 123.0,53.4 123.1,53.7 123.1,53.9 123.1,54.1 123.2,54.4 123.2,54.6 123.3,54.9 123.3,55.2 123.3,55.5 123.4,55.8 123.4,56.1 123.4,56.4 123.5,56.8 123.5,57.1 123.6,57.4 123.6,57.8 123.6,58.1 123.7,58.5 123.7,58.8 123.7,59.2 123.8,59.6 123.8,59.9 123.9,60.3 123.9,60.6 123.9,61.0 124.0,61.3 124.0,61.7 124.0,62.0 124.1,62.3 124.1,62.7 124.1,63.0 124.2,63.3 124.2,63.6 124.3,63.9 124.3,64.1 124.3,64.4 124.4,64.6 124.4,64.9 124.4,65.1 124.5,65.3 124.5,65.5 124.6,65.7 124.6,65.9 124.6,66.0 124.7,66.2 124.7,66.3 124.7,66.4 124.8,66.5 124.8,66.5 124.9,66.6 124.9,66.6 124.9,66.7 125.0,66.7 125.0,66.7 125.0,66.6 125.1,66.6 125.1,66.6 125.1,66.5 125.2,66.4 125.2,66.3 125.3,66.2 125.3,66.1 125.3,66.0 125.4,65.8 125.4,65.7 125.4,65.5 125.5,65.3 125.5,65.1 125.6,64.9 125.6,64.8 125.6,64.5 125.7,64.3 125.7,64.1 125.7,63.9 125.8,63.7 125.8,63.5 125.8,63.3 125.9,63.0 125.9,62.8 126.0,62.6 126.0,62.4 126.0,62.2 126.1,62.0 126.1,61.8 126.1,61.6 126.2,61.4 126.2,61.3 126.3,61.1 126.3,60.9 126.3,60.8 126.4,60.7 126.4,60.6 126.4,60.5 126.5,60.4 126.5,60.3 126.6,60.2 126.6,60.2 126.6,60.1 126.7,60.1 126.7,60.1 126.7,60.1 126.8,60.2 126.8,60.2 126.8,60.3 126.9,60.4 126.9,60.5 127.0,60.6 127.0,60.7 127.0,60.9 127.1,61.1 127.1,61.2 127.1,61.4 127.2,61.7 127.2,61.9 127.3,62.1 127.3,62.4 127.3,62.7 127.4,62.9 127.4,63.2 127.4,63.5 127.5,63.9 127.5,64.2 127.6,64.5 127.6,64.9 127.6,65.2 127.7,65.6 127.7,65.9 127.7,66.3 127.8,66.7 127.8,67.0 127.8,67.4 127.9,67.8 127.9,68.1 128.0,68.5 128.0,68.9 128.0,69.2 128.1,69.6 128.1,69.9 128.1,70.3 128.2,70.6 128.2,71.0 128.3,71.3 128.3,71.6 128.3,71.9 128.4,72.2 128.4,72.4 128.4,72.7 128.5,72.9 128.5,73.2 128.6,73.4 128.6,73.6 128.6,73.8 128.7,73.9 128.7,74.1 128.7,74.2 128.8,74.4 128.8,74.5 128.8,74.5 128.9,74.6 128.9,74.6 129.0,74.7 129.0,74.7 129.0,74.7 129.1,74.7 129.1,74.6 129.1,74.6 129.2,74.5 129.2,74.4 129.3,74.3 129.3,74.2 129.3,74.1 129.4,73.9 129.4,73.8 129.4,73.6 129.5,73.4 129.5,73.2 129.6,73.0 129.6,72.8 129.6,72.6 129.7,72.4 129.7,72.2 129.7,72.0 129.8,71.7 129.8,71.5 129.8,71.3 129.9,71.1 129.9,70.8 130.0,70.6 130.0,70.4 130.0,70.2 130.1,70.0 130.1,69.8 130.1,69.6 130.2,69.4 130.2,69.2 130.3,69.0 130.3,68.9 130.3,68.7 130.4,68.6 130.4,68.5 130.4,68.4 130.5,68.3 130.5,68.3 130.6,68.2 130.6,68.2 130.6,68.1 130.7,68.1 130.7,68.2 130.7,68.2 130.8,68.3 130.8,68.3 130.8,68.4 130.9,68.5 130.9,68.7 131.0,68.8 131.0,69.0 131.0,69.2 131.1,69.4 131.1,69.6 131.1,69.8 131.2,70.1 131.2,70.3 131.3,70.6 131.3,70.9 131.3,71.2 131.4,71.5 131.4,71.8 131.4,72.2 131.5,72.5 131.5,72.9 131.6,73.3 131.6,73.6 131.6,74.0 131.7,74.4 131.7,74.8 131.7,75.2 131.8,75.6 131.8,76.0 131.8,76.4 131.9,76.8 131.9,77.1 132.0,77.5 132.0,77.9 132.0,78.3 132.1,78.6 132.1,79.0 132.1,79.3 132.2,79.7 132.2,80.0 132.3,80.3 132.3,80.6 132.3,80.9 132.4,81.1 132.4,81.4 132.4,81.6 132.5,81.8 132.5,82.0 132.5,82.2 132.6,82.4 132.6,82.5 132.7,82.7 132.7,82.8 132.7,82.9 132.8,82.9 132.8,83.0 132.8,83.0 132.9,83.0 132.9,83.0 133.0,83.0 133.0,83.0 133.0,82.9 133.1,82.8 133.1,82.7 133.1,82.6 133.2,82.5 133.2,82.4 133.3,82.2 133.3,82.1 133.3,81.9 133.4,81.7 133.4,81.5 133.4,81.3 133.5,81.1 133.5,80.9 133.5,80.7 133.6,80.5 133.6,80.2 133.7,80.0 133.7,79.8 133.7,79.5 133.8,79.3 133.8,79.1 133.8,78.9 133.9,78.7 133.9,78.5 134.0,78.3 134.0,78.1 134.0,77.9 134.1,77.7 134.1,77.6 134.1,77.4 134.2,77.3 134.2,77.2 134.3,77.1 134.3,77.0 134.3,77.0 134.4,76.9 134.4,76.9 134.4,76.9 134.5,76.9 134.5,76.9 134.5,77.0 134.6,77.0 134.6,77.1 134.7,77.2 134.7,77.4 134.7,77.5 134.8,77.7 134.8,77.9 134.8,78.1 134.9,78.3 134.9,78.5 135.0,78.8 135.0,79.1 135.0,79.4 135.1,79.7 135.1,80.0 135.1,80.4 135.2,80.7 135.2,81.1 135.3,81.4 135.3,81.8 135.3,82.2 135.4,82.6 135.4,83.0 135.4,83.4 135.5,83.8 135.5,84.2 135.5,84.7 135.6,85.1 135.6,85.5 135.7,85.9 135.7,86.3 135.7,86.7 135.8,87.1 135.8,87.5 135.8,87.9 135.9,88.2 135.9,88.6 136.0,88.9 136.0,89.2 136.0,89.6 136.1,89.9 136.1,90.1 136.1,90.4 136.2,90.7 136.2,90.9 136.3,91.1 136.3,91.3 136.3,91.5 136.4,91.6 136.4,91.8 136.4,91.9 136.5,92.0 136.5,92.0 136.5,92.1 136.6,92.1 136.6,92.1 136.7,92.1 136.7,92.1 136.7,92.1 136.8,92.0 136.8,91.9 136.8,91.8 136.9,91.7 136.9,91.6 137.0,91.4 137.0,91.3 137.0,91.1 137.1,90.9 137.1,90.7 137.1,90.5 137.2,90.3 137.2,90.1 137.3,89.9 137.3,89.6 137.3,89.4 137.4,89.2 137.4,89.0 137.4,88.7 137.5,88.5 137.5,88.3 137.5,88.1 137.6,87.9 137.6,87.7 137.7,87.5 137.7,87.3 137.7,87.1 137.8,87.0 137.8,86.8 137.8,86.7 137.9,86.6 137.9,86.5 138.0,86.4 138.0,86.3 138.0,86.3 138.1,86.3 138.1,86.3 138.1,86.3 138.2,86.3 138.2,86.4 138.3,86.5 138.3,86.6 138.3,86.7 138.4,86.8 138.4,87.0 138.4,87.2 138.5,87.4 138.5,87.6 138.5,87.9 138.6,88.1 138.6,88.4 138.7,88.7 138.7,89.0 138.7,89.4 138.8,89.7 138.8,90.1 138.8,90.5 138.9,90.8 138.9,91.2 139.0,91.6 139.0,92.1 139.0,92.5 139.1,92.9 139.1,93.3 139.1,93.8 139.2,94.2 139.2,94.6 139.2,95.0 139.3,95.5 139.3,95.9 139.4,96.3 139.4,96.7 139.4,97.1 139.5,97.5 139.5,97.9 139.5,98.2 139.6,98.6 139.6,98.9 139.7,99.2 139.7,99.5 139.7,99.8 139.8,100.1 139.8,100.3 139.8,100.6 139.9,100.8 139.9,100.9 140.0,101.1 140.0,101.2 140.0,101.4 140.1,101.5 140.1,101.5 140.1,101.6 140.2,101.6 140.2,101.6 140.2,101.6 140.3,101.6 140.3,101.5 140.4,101.5 140.4,101.4 140.4,101.3 140.5,101.1 140.5,101.0 140.5,100.8 140.6,100.7 140.6,100.5 140.7,100.3 140.7,100.1 140.7,99.9 140.8,99.7 140.8,99.4 140.8,99.2 140.9,99.0 140.9,98.7 141.0,98.5 141.0,98.3 141.0,98.0 141.1,97.8 141.1,97.6 141.1,97.4 141.2,97.2 141.2,97.0 141.2,96.8 141.3,96.6 141.3,96.5 141.4,96.3 141.4,96.2 141.4,96.1 141.5,96.0 141.5,95.9 141.5,95.8 141.6,95.8 141.6,95.8 141.7,95.8 141.7,95.8 141.7,95.9 141.8,96.0 141.8,96.1 141.8,96.2 141.9,96.3 141.9,96.5 142.0,96.7 142.0,96.9 142.0,97.1 142.1,97.4 142.1,97.6 142.1,97.9 142.2,98.2 142.2,98.6 142.2,98.9 142.3,99.3 142.3,99.6 142.4,100.0 142.4,100.4 142.4,100.8 142.5,101.2 142.5,101.7 142.5,102.1 142.6,102.5 142.6,102.9 142.7,103.4 142.7,103.8 142.7,104.3 142.8,104.7 142.8,105.1 142.8,105.5 142.9,106.0 142.9,106.4 143.0,106.8 143.0,107.1 143.0,107.5 143.1,107.9 143.1,108.2 143.1,108.5 143.2,108.8 143.2,109.1 143.2,109.4 143.3,109.6 143.3,109.8 143.4,110.0 143.4,110.2 143.4,110.4 143.5,110.5 143.5,110.6 143.5,110.7 143.6,110.8 143.6,110.8 143.7,110.8 143.7,110.8 143.7,110.8 143.8,110.7 143.8,110.6 143.8,110.6 143.9,110.4 143.9,110.3 144.0,110.2 144.0,110.0 144.0,109.8 144.1,109.6 144.1,109.4 144.1,109.2 144.2,109.0 144.2,108.8 144.2,108.5 144.3,108.3 144.3,108.0 144.4,107.8 144.4,107.5 144.4,107.3 144.5,107.1 144.5,106.8 144.5,106.6 144.6,106.4 144.6,106.1 144.7,105.9 144.7,105.8 144.7,105.6 144.8,105.4 144.8,105.3 144.8,105.1 144.9,105.0 144.9,104.9 145.0,104.9 145.0,104.8 145.0,104.8 145.1,104.8 145.1,104.8 145.1,104.9 145.2,104.9 145.2,105.0 145.2,105.2 145.3,105.3 145.3,105.5 145.4,105.7 145.4,105.9 145.4,106.1 145.5,106.4 145.5,106.6 145.5,106.9 145.6,107.3 145.6,107.6 145.7,108.0 145.7,108.3 145.7,108.7 145.8,109.1 145.8,109.5 145.8,109.9 145.9,110.4 145.9,110.8 145.9,111.3 146.0,111.7 146.0,112.2 146.1,112.6 146.1,113.1 146.1,113.5 146.2,114.0 146.2,114.4 146.2,114.8 146.3,115.2 146.3,115.7 146.4,116.0 146.4,116.4 146.4,116.8 146.5,117.2 146.5,117.5 146.5,117.8 146.6,118.1 146.6,118.4 146.7,118.6 146.7,118.9 146.7,119.1 146.8,119.3 146.8,119.4 146.8,119.5 146.9,119.7 146.9,119.7 146.9,119.8 147.0,119.8 147.0,119.9 147.1,119.9 147.1,119.8 147.1,119.8 147.2,119.7 147.2,119.6 147.2,119.5 147.3,119.3 147.3,119.2 147.4,119.0 147.4,118.8 147.4,118.6 147.5,118.4 147.5,118.2 147.5,118.0 147.6,117.7 147.6,117.5 147.7,117.3 147.7,117.0 147.7,116.8 147.8,116.5 147.8,116.3 147.8,116.1 147.9,115.8 147.9,115.6 147.9,115.4 148.0,115.2 148.0,115.0 148.1,114.9 148.1,114.7 148.1,114.6 148.2,114.5 148.2,114.4 148.2,114.3 148.3,114.2 148.3,114.2 148.4,114.2 148.4,114.2 148.4,114.3 148.5,114.4 148.5,114.5 148.5,114.6 148.6,114.7 148.6,114.9 148.7,115.1 148.7,115.3 148.7,115.6 148.8,115.8 148.8,116.1 148.8,116.5 148.9,116.8 148.9,117.1 148.9,117.5 149.0,117.9 149.0,118.3 149.1,118.7 149.1,119.2 149.1,119.6 149.2,120.1 149.2,120.6 149.2,121.0 149.3,121.5 149.3,122.0 149.4,122.5 149.4,122.9 149.4,123.4 149.5,123.9 149.5,124.3 149.5,124.8 149.6,125.2 149.6,125.7 149.7,126.1 149.7,126.5 149.7,126.9 149.8,127.2 149.8,127.6 149.8,127.9 149.9,128.2 149.9,128.5 149.9,128.8 150.0,129.0 150.0,129.2 150.1,129.4 150.1,129.6 150.1,129.7 150.2,129.8 150.2,129.9 150.2,129.9 150.3,130.0 150.3,130.0 150.4,130.0 150.4,129.9 150.4,129.9 150.5,129.8 150.5,129.7 150.5,129.6 150.6,129.4 150.6,129.3 150.7,129.1 150.7,128.9 150.7,128.7 150.8,128.5 150.8,128.3 150.8,128.1 150.9,127.8 150.9,127.6 150.9,127.4 151.0,127.1 151.0,126.9 151.1,126.7 151.1,126.5 151.1,126.2 151.2,126.0 151.2,125.9 151.2,125.7 151.3,125.5 151.3,125.4 151.4,125.3 151.4,125.2 151.4,125.1 151.5,125.0 151.5,125.0 151.5,125.0 151.6,125.0 151.6,125.0 151.7,125.1 151.7,125.1 151.7,125.3 151.8,125.4 151.8,125.6 151.8,125.8 151.9,126.0 151.9,126.2 151.9,126.5 152.0,126.8 152.0,127.1 152.1,127.4 152.1,127.8 152.1,128.2 152.2,128.6 152.2,129.0 152.2,129.4 152.3,129.8 152.3,130.3 152.4,130.8 152.4,131.2 152.4,131.7 152.5,132.2 152.5,132.7 152.5,133.2 152.6,133.6 152.6,134.1 152.6,134.6 152.7,135.1 152.7,135.5 152.8,136.0 152.8,136.4 152.8,136.8 152.9,137.2 152.9,137.6 152.9,138.0 153.0,138.3 153.0,138.6 153.1,138.9 153.1,139.2 153.1,139.4 153.2,139.7 153.2,139.9 153.2,140.0 153.3,140.2 153.3,140.3 153.4,140.4 153.4,140.4 153.4,140.5 153.5,140.5 153.5,140.5 153.5,140.4 153.6,140.3 153.6,140.2 153.6,140.1 153.7,140.0 153.7,139.8 153.8,139.7 153.8,139.5 153.8,139.3 153.9,139.1 153.9,138.8 153.9,138.6 154.0,138.4 154.0,138.1 154.1,137.9 154.1,137.6 154.1,137.4 154.2,137.1 154.2,136.9 154.2,136.6 154.3,136.4 154.3,136.2 154.4,136.0 154.4,135.8 154.4,135.7 154.5,135.5 154.5,135.4 154.5,135.3 154.6,135.2 154.6,135.1 154.6,135.1 154.7,135.1 154.7,135.1 154.8,135.1 154.8,135.2 154.8,135.3 154.9,135.4 154.9,135.5 154.9,135.7 155.0,135.9 155.0,136.1 155.1,136.4 155.1,136.7 155.1,137.0 155.2,137.3 155.2,137.6 155.2,138.0 155.3,138.4 155.3,138.8 155.4,139.2 155.4,139.7 155.4,140.1 155.5,140.6 155.5,141.0 155.5,141.5 155.6,142.0 155.6,142.5 155.6,142.9 155.7,143.4 155.7,143.9 155.8,144.3 155.8,144.8 155.8,145.2 155.9,145.7 155.9,146.1 155.9,146.5 156.0,146.9 156.0,147.2 156.1,147.6 156.1,147.9 156.1,148.2 156.2,148.5 156.2,148.7 156.2,148.9 156.3,149.1 156.3,149.3 156.4,149.4 156.4,149.5 156.4,149.6 156.5,149.7 156.5,149.7 156.5,149.7 156.6,149.6 156.6,149.6 156.6,149.5 156.7,149.4 156.7,149.3 156.8,149.1 156.8,148.9 156.8,148.7 156.9,148.5 156.9,148.3 156.9,148.1 157.0,147.8 157.0,147.6 157.1,147.3 157.1,147.0 157.1,146.8 157.2,146.5 157.2,146.2 157.2,146.0 157.3,145.7 157.3,145.5 157.4,145.2 157.4,145.0 157.4,144.8 157.5,144.6 157.5,144.4 157.5,144.3 157.6,144.1 157.6,144.0 157.6,144.0 157.7,143.9 157.7,143.9 157.8,143.9 157.8,143.9 157.8,143.9 157.9,144.0 157.9,144.1 157.9,144.2 158.0,144.4 158.0,144.6 158.1,144.8 158.1,145.1 158.1,145.4 158.2,145.7 158.2,146.0 158.2,146.3 158.3,146.7 158.3,147.1 158.4,147.5 158.4,147.9 158.4,148.4 158.5,148.8 158.5,149.3 158.5,149.7 158.6,150.2 158.6,150.7 158.6,151.2 158.7,151.7 158.7,152.1 158.8,152.6 158.8,153.1 158.8,153.5 158.9,154.0 158.9,154.4 158.9,154.8 159.0,155.2 159.0,155.6 159.1,155.9 159.1,156.2 159.1,156.5 159.2,156.8 159.2,157.1 159.2,157.3 159.3,157.5 159.3,157.7 159.3,157.8 159.4,157.9 159.4,158.0 159.5,158.1 159.5,158.1 159.5,158.1 159.6,158.0 159.6,158.0 159.6,157.9 159.7,157.8 159.7,157.6 159.8,157.5 159.8,157.3 159.8,157.1 159.9,156.9 159.9,156.7 159.9,156.4 160.0,156.2 160.0,155.9 160.1,155.6 160.1,155.4 160.1,155.1 160.2,154.8 160.2,154.5 160.2,154.3 160.3,154.0 160.3,153.8 160.3,153.5 160.4,153.3 160.4,153.1 160.5,152.9 160.5,152.8 160.5,152.6 160.6,152.5 160.6,152.4 160.6,152.3 160.7,152.3 160.7,152.3 160.8,152.3 160.8,152.3 160.8,152.4 160.9,152.5 160.9,152.6 160.9,152.8 161.0,153.0 161.0,153.2 161.1,153.4 161.1,153.7 161.1,154.0 161.2,154.3 161.2,154.7 161.2,155.1 161.3,155.4 161.3,155.9 161.3,156.3 161.4,156.7 161.4,157.2 161.5,157.6 161.5,158.1 161.5,158.6 161.6,159.1 161.6,159.6 161.6,160.0 161.7,160.5 161.7,161.0 161.8,161.4 161.8,161.9 161.8,162.3 161.9,162.7 161.9,163.1 161.9,163.5 162.0,163.9 162.0,164.2 162.1,164.5 162.1,164.8 162.1,165.1 162.2,165.3 162.2,165.5 162.2,165.7 162.3,165.8 162.3,165.9 162.3,166.0 162.4,166.1 162.4,166.1 162.5,166.1 162.5,166.0 162.5,166.0 162.6,165.9 162.6,165.8 162.6,165.6 162.7,165.5 162.7,165.3 162.8,165.1 162.8,164.8 162.8,164.6 162.9,164.4 162.9,164.1 162.9,163.8 163.0,163.5 163.0,163.3 163.1,163.0 163.1,162.7 163.1,162.4 163.2,162.2 163.2,161.9 163.2,161.6 163.3,161.4 163.3,161.2 163.3,161.0 163.4,160.8 163.4,160.6 163.5,160.5 163.5,160.4 163.5,160.3 163.6,160.2 163.6,160.2 163.6,160.2 163.7,160.2 163.7,160.3 163.8,160.4 163.8,160.5 163.8,160.7 163.9,160.8 163.9,161.1 163.9,161.3 164.0,161.6 164.0,161.9 164.1,162.2 164.1,162.5 164.1,162.9 164.2,163.3 164.2,163.7 164.2,164.1 164.3,164.6 164.3,165.0 164.3,165.5 164.4,166.0 164.4,166.4 164.5,166.9 164.5,167.4 164.5,167.9 164.6,168.3 164.6,168.8 164.6,169.3 164.7,169.7 164.7,170.1 164.8,170.5 164.8,170.9 164.8,171.3 164.9,171.6 164.9,172.0 164.9,172.3 165.0,172.5 165.0,172.8 165.1,173.0 165.1,173.2 165.1,173.3 165.2,173.4 165.2,173.5 165.2,173.6 165.3,173.6 165.3,173.6 165.3,173.5 165.4,173.5 165.4,173.4 165.5,173.3 165.5,173.1 165.5,173.0 165.6,172.8 165.6,172.6 165.6,172.3 165.7,172.1 165.7,171.8 165.8,171.6 165.8,171.3 165.8,171.0 165.9,170.7 165.9,170.5 165.9,170.2 166.0,169.9 166.0,169.6 166.0,169.4 166.1,169.1 166.1,168.9 166.2,168.7 166.2,168.5 166.2,168.3 166.3,168.1 166.3,168.0 166.3,167.9 166.4,167.8 166.4,167.8 166.5,167.8 166.5,167.8 166.5,167.8 166.6,167.9 166.6,168.0 166.6,168.1 166.7,168.3 166.7,168.5 166.8,168.7 166.8,169.0 166.8,169.2 166.9,169.6 166.9,169.9 166.9,170.2 167.0,170.6 167.0,171.0 167.0,171.4 167.1,171.8 167.1,172.3 167.2,172.7 167.2,173.2 167.2,173.7 167.3,174.1 167.3,174.6 167.3,175.0 167.4,175.5 167.4,176.0 167.5,176.4 167.5,176.8 167.5,177.2 167.6,177.6 167.6,178.0 167.6,178.3 167.7,178.7 167.7,179.0 167.8,179.3 167.8,179.5 167.8,179.7 167.9,179.9 167.9,180.1 167.9,180.2 168.0,180.3 168.0,180.4 168.0,180.4 168.1,180.5 168.1,180.4 168.2,180.4 168.2,180.3 168.2,180.2 168.3,180.1 168.3,179.9 168.3,179.8 168.4,179.6 168.4,179.3 168.5,179.1 168.5,178.9 168.5,178.6 168.6,178.4 168.6,178.1 168.6,177.8 168.7,177.6 168.7,177.3 168.8,177.0 168.8,176.8 168.8,176.5 168.9,176.3 168.9,176.1 168.9,175.9 169.0,175.7 169.0,175.5 169.0,175.4 169.1,175.2 169.1,175.1 169.2,175.1 169.2,175.0 169.2,175.0 169.3,175.0 169.3,175.1 169.3,175.2 169.4,175.3 169.4,175.4 169.5,175.6 169.5,175.8 169.5,176.0 169.6,176.3 169.6,176.6 169.6,176.9 169.7,177.2 169.7,177.5 169.8,177.9 169.8,178.3 169.8,178.7 169.9,179.1 169.9,179.6 169.9,180.0 170.0,180.4 170.0,180.9 170.0,181.3 170.1,181.8 170.1,182.2 170.2,182.7 170.2,183.1 170.2,183.5 170.3,183.9 170.3,184.3 170.3,184.7 170.4,185.0 170.4,185.3 170.5,185.6 170.5,185.9 170.5,186.2 170.6,186.4 170.6,186.6 170.6,186.8 170.7,186.9 170.7,187.0 170.8,187.1 170.8,187.1 170.8,187.1 170.9,187.1 170.9,187.1 170.9,187.0 171.0,186.9 171.0,186.8 171.0,186.7 171.1,186.5 171.1,186.3 171.2,186.1 171.2,185.9 171.2,185.7 171.3,185.5 171.3,185.2 171.3,185.0 171.4,184.7 171.4,184.5 171.5,184.2 171.5,184.0 171.5,183.7 171.6,183.5 171.6,183.3 171.6,183.1 171.7,182.9 171.7,182.8 171.8,182.6 171.8,182.5 171.8,182.4 171.9,182.4 171.9,182.3 171.9,182.3 172.0,182.3 172.0,182.3 172.0,182.4 172.1,182.5 172.1,182.6 172.2,182.8 172.2,183.0 172.2,183.2 172.3,183.4 172.3,183.7 172.3,184.0 172.4,184.3 172.4,184.6 172.5,185.0 172.5,185.3 172.5,185.7 172.6,186.1 172.6,186.5 172.6,186.9 172.7,187.4 172.7,187.8 172.7,188.2 172.8,188.6 172.8,189.0 172.9,189.4 172.9,189.8 172.9,190.2 173.0,190.6 173.0,191.0 173.0,191.3 173.1,191.6 173.1,191.9 173.2,192.2 173.2,192.4 173.2,192.7 173.3,192.9 173.3,193.0 173.3,193.2 173.4,193.3 173.4,193.4 173.5,193.4 173.5,193.5 173.5,193.5 173.6,193.5 173.6,193.4 173.6,193.3 173.7,193.2 173.7,193.1 173.7,193.0 173.8,192.8 173.8,192.6 173.9,192.4 173.9,192.2 173.9,192.0 174.0,191.8 174.0,191.6 174.0,191.3 174.1,191.1 174.1,190.9 174.2,190.7 174.2,190.4 174.2,190.2 174.3,190.0 174.3,189.8 174.3,189.7 174.4,189.5 174.4,189.4 174.5,189.3 174.5,189.2 174.5,189.1 174.6,189.1 174.6,189.1 174.6,189.1 174.7,189.1 174.7,189.2 174.7,189.3 174.8,189.4 174.8,189.5 174.9,189.7 174.9,189.9 174.9,190.1 175.0,190.4 175.0,190.7 175.0,191.0 175.1,191.3 175.1,191.6 175.2,191.9 175.2,192.3 175.2,192.6 175.3,193.0 175.3,193.4 175.3,193.8 175.4,194.2 175.4,194.5 175.5,194.9 175.5,195.3 175.5,195.7 175.6,196.0 175.6,196.4 175.6,196.7 175.7,197.0 175.7,197.3 175.7,197.6 175.8,197.8 175.8,198.1 175.9,198.3 175.9,198.5 175.9,198.6 176.0,198.7 176.0,198.8 176.0,198.9 176.1,199.0 176.1,199.0 176.2,199.0 176.2,199.0 176.2,198.9 176.3,198.8 176.3,198.7 176.3,198.6 176.4,198.5 176.4,198.3 176.5,198.2 176.5,198.0 176.5,197.8 176.6,197.6 176.6,197.4 176.6,197.2 176.7,196.9 176.7,196.7 176.7,196.5 176.8,196.3 176.8,196.1 176.9,195.9 176.9,195.7 176.9,195.5 177.0,195.4 177.0,195.2 177.0,195.1 177.1,195.0 177.1,194.9 177.2,194.9 177.2,194.8 177.2,194.8 177.3,194.8 177.3,194.9 177.3,195.0 177.4,195.0 177.4,195.2 177.5,195.3 177.5,195.5 177.5,195.6 177.6,195.8 177.6,196.1 177.6,196.3 177.7,196.6 177.7,196.9 177.7,197.2 177.8,197.5 177.8,197.8 177.9,198.1 177.9,198.5 177.9,198.8 178.0,199.1 178.0,199.5 178.0,199.8 178.1,200.1 178.1,200.5 178.2,200.8 178.2,201.1 178.2,201.4 178.3,201.6 178.3,201.9 178.3,202.1 178.4,202.4 178.4,202.6 178.5,202.7 178.5,202.9 178.5,203.0 178.6,203.1 178.6,203.2 178.6,203.3 178.7,203.3 178.7,203.3 178.7,203.3 178.8,203.2 178.8,203.2 178.9,203.1 178.9,203.0 178.9,202.9 179.0,202.7 179.0,202.6 179.0,202.4 179.1,202.2 179.1,202.0 179.2,201.8 179.2,201.6 179.2,201.4 179.3,201.2 179.3,201.0 179.3,200.8 179.4,200.6 179.4,200.4 179.4,200.2 179.5,200.1 179.5,199.9 179.6,199.8 179.6,199.6 179.6,199.5 179.7,199.4 179.7,199.4 179.7,199.3 179.8,199.3 179.8,199.3 179.9,199.3 179.9,199.4 179.9,199.4 180.0,199.5 180.0,199.7 180.0,199.8 180.1,200.0 180.1,200.1 180.2,200.3 180.2,200.5 180.2,200.8 180.3,201.0 180.3,201.3 180.3,201.6 180.4,201.9 180.4,202.1 180.4,202.4 180.5,202.7 180.5,203.0 180.6,203.3 180.6,203.6 180.6,203.9 180.7,204.2 180.7,204.5 180.7,204.8 180.8,205.0 180.8,205.3 180.9,205.5 180.9,205.7 180.9,205.9 181.0,206.0 181.0,206.2 181.0,206.3 181.1,206.4 181.1,206.5 181.2,206.6 181.2,206.6 181.2,206.6 181.3,206.6 181.3,206.6 181.3,206.5 181.4,206.4 181.4,206.4 181.4,206.2 181.5,206.1 181.5,206.0 181.6,205.8 181.6,205.7 181.6,205.5 181.7,205.3 181.7,205.1 181.7,204.9 181.8,204.8 181.8,204.6 181.9,204.4 181.9,204.2 181.9,204.0 182.0,203.9 182.0,203.7 182.0,203.6 182.1,203.4 182.1,203.3 182.2,203.2 182.2,203.1 182.2,203.1 182.3,203.0 182.3,203.0 182.3,203.0 182.4,203.0 182.4,203.1 182.4,203.1 182.5,203.2 182.5,203.3 182.6,203.4 182.6,203.6 182.6,203.7 182.7,203.9 182.7,204.1 182.7,204.3 182.8,204.6 182.8,204.8 182.9,205.0 182.9,205.3 182.9,205.5 183.0,205.8 183.0,206.1 183.0,206.3 183.1,206.6 183.1,206.9 183.2,207.1 183.2,207.4 183.2,207.6 183.3,207.9 183.3,208.1 183.3,208.3 183.4,208.5 183.4,208.6 183.4,208.8 183.5,208.9"/>
<polyline stroke="#0000ff" stroke-width="1.05" points="183.5,209.1 183.6,209.2 183.6,209.2 183.6,209.3 183.7,209.3 183.7,209.4 183.7,209.4 183.8,209.3 183.8,209.3 183.9,209.2 183.9,209.2 183.9,209.1 184.0,209.0 184.0,208.9 184.0,208.7 184.1,208.6 184.1,208.5 184.2,208.3 184.2,208.1 184.2,208.0 184.3,207.8 184.3,207.7 184.3,207.5 184.4,207.4 184.4,207.2 184.4,207.1 184.5,206.9 184.5,206.8 184.6,206.7 184.6,206.6 184.6,206.5 184.7,206.5 184.7,206.4 184.7,206.4 184.8,206.4 184.8,206.4 184.9,206.4 184.9,206.5 184.9,206.5 185.0,206.6 185.0,206.7 185.0,206.9 185.1,207.0 185.1,207.1 185.2,207.3 185.2,207.5 185.2,207.7 185.3,207.9 185.3,208.1 185.3,208.3 185.4,208.6 185.4,208.8 185.4,209.0 185.5,209.3 185.5,209.5 185.6,209.8 185.6,210.0 185.6,210.2 185.7,210.5 185.7,210.7 185.7,210.9 185.8,211.1 185.8,211.2 185.9,211.4 185.9,211.6 185.9,211.7 186.0,211.8 186.0,211.9 186.0,212.0 186.1,212.1 186.1,212.1 186.1,212.2 186.2,212.2 186.2,212.2 186.3,212.1 186.3,212.1 186.3,212.1 186.4,212.0 186.4,211.9 186.4,211.8 186.5,211.7 186.5,211.6 186.6,211.5 186.6,211.4 186.6,211.3 186.7,211.1 186.7,211.0 186.7,210.9 186.8,210.7 186.8,210.6 186.9,210.5 186.9,210.4 186.9,210.3 187.0,210.2 187.0,210.1 187.0,210.0 187.1,209.9 187.1,209.9 187.1,209.9 187.2,209.8 187.2,209.8 187.3,209.8 187.3,209.8 187.3,209.9 187.4,209.9 187.4,210.0 187.4,210.1 187.5,210.1 187.5,210.2 187.6,210.4 187.6,210.5 187.6,210.6 187.7,210.8 187.7,210.9 187.7,211.1 187.8,211.2 187.8,211.4 187.9,211.6 187.9,211.7 187.9,211.9 188.0,212.1 188.0,212.2 188.0,212.4 188.1,212.4 188.1,212.4 188.1,212.4 188.2,212.4 188.2,212.4 188.3,212.4 188.3,212.4 188.3,212.4 188.4,212.4 188.4,212.4 188.4,212.4 188.5,212.4 188.5,212.4 188.6,212.4 188.6,212.4 188.6,212.4 188.7,212.4 188.7,212.4 188.7,212.4 188.8,212.4 188.8,212.4 188.9,212.4 188.9,212.4 188.9,212.4 189.0,212.4 189.0,212.4 189.0,212.4 189.1,212.3 189.1,212.2 189.1,212.1 189.2,212.0 189.2,211.9 189.3,211.7 189.3,211.6 189.3,211.5 189.4,211.5 189.4,211.4 189.4,211.3 189.5,211.2 189.5,211.2 189.6,211.1 189.6,211.1 189.6,211.1 189.7,211.1 189.7,211.1 189.7,211.1 189.8,211.2 189.8,211.2 189.9,211.2 189.9,211.3 189.9,211.4 190.0,211.5 190.0,211.5 190.0,211.6 190.1,211.7 190.1,211.8 190.1,212.0 190.2,212.1 190.2,212.2 190.3,212.3 190.3,212.4 190.3,212.4 190.4,212.4 190.4,212.4 190.4,212.4 190.5,212.4 190.5,212.4 190.6,212.4 190.6,212.4 190.6,212.4 190.7,212.4 190.7,212.4 190.7,212.4 190.8,212.4 190.8,212.4 190.9,212.4 190.9,212.4 190.9,212.4 191.0,212.4 191.0,212.4 191.0,212.4 191.1,212.4 191.1,212.4 191.1,212.4 191.2,212.4 191.2,212.4 191.3,212.4 191.3,212.4 191.3,212.4 191.4,212.4 191.4,212.4 191.4,212.4 191.5,212.4 191.5,212.4 191.6,212.4 191.6,212.3 191.6,212.2 191.7,212.1 191.7,212.1 191.7,212.0 191.8,211.9 191.8,211.9 191.9,211.8 191.9,211.8 191.9,211.8 192.0,211.7 192.0,211.7 192.0,211.7 192.1,211.7 192.1,211.7 192.1,211.8 192.2,211.8 192.2,211.8 192.3,211.8 192.3,211.9 192.3,211.9 192.4,212.0 192.4,212.1 192.4,212.1 192.5,212.2 192.5,212.3 192.6,212.4 192.6,212.4 192.6,212.4 192.7,212.4 192.7,212.4 192.7,212.4 192.8,212.4 192.8,212.4 192.8,212.4 192.9,212.4 192.9,212.4 193.0,212.4 193.0,212.4 193.0,212.4 193.1,212.4 193.1,212.4 193.1,212.4 193.2,212.4 193.2,212.4 193.3,212.4 193.3,212.4 193.3,212.4 193.4,212.4 193.4,212.4 193.4,212.4 193.5,212.4 193.5,212.4 193.6,212.4 193.6,212.4 193.6,212.4 193.7,212.4 193.7,212.4 193.7,212.4 193.8,212.4 193.8,212.4 193.8,212.4 193.9,212.3 193.9,212.3 194.0,212.2 194.0,212.1 194.0,212.0 194.1,211.9 194.1,211.9 194.1,211.8 194.2,211.7 194.2,211.7 194.3,211.7 194.3,211.6 194.3,211.6 194.4,211.6 194.4,211.6 194.4,211.6 194.5,211.6 194.5,211.6 194.6,211.6 194.6,211.7 194.6,211.7 194.7,211.8 194.7,211.8 194.7,211.9 194.8,212.0 194.8,212.0 194.8,212.1 194.9,212.2 194.9,212.3 195.0,212.4 195.0,212.4 195.0,212.4 195.1,212.4 195.1,212.4 195.1,212.4 195.2,212.4 195.2,212.4 195.3,212.4 195.3,212.4 195.3,212.4 195.4,212.4 195.4,212.4 195.4,212.4 195.5,212.4 195.5,212.4 195.6,212.4 195.6,212.4 195.6,212.4 195.7,212.4 195.7,212.4 195.7,212.4 195.8,212.4 195.8,212.4 195.8,212.4 195.9,212.4 195.9,212.4 196.0,212.4 196.0,212.4 196.0,212.4 196.1,212.3 196.1,212.1 196.1,212.0 196.2,211.9 196.2,211.8 196.3,211.7 196.3,211.6 196.3,211.5 196.4,211.4 196.4,211.3 196.4,211.2 196.5,211.1 196.5,211.1 196.6,211.0 196.6,211.0 196.6,210.9 196.7,210.9 196.7,210.9 196.7,210.9 196.8,210.9 196.8,210.9 196.8,211.0 196.9,211.0 196.9,211.1 197.0,211.2 197.0,211.2 197.0,211.3 197.1,211.4 197.1,211.5 197.1,211.6 197.2,211.7 197.2,211.8 197.3,211.9 197.3,212.0 197.3,212.2 197.4,212.3 197.4,212.4 197.4,212.4 197.5,212.4 197.5,212.4 197.6,212.4 197.6,212.4 197.6,212.4 197.7,212.4 197.7,212.4 197.7,212.4 197.8,212.4 197.8,212.4 197.8,212.4 197.9,212.4 197.9,212.4 198.0,212.4 198.0,212.4 198.0,212.4 198.1,212.4 198.1,212.4 198.1,212.4 198.2,212.3 198.2,212.1 198.3,212.0 198.3,211.9 198.3,211.7 198.4,211.6 198.4,211.4 198.4,211.3 198.5,211.1 198.5,211.0 198.6,210.8 198.6,210.7 198.6,210.6 198.7,210.5 198.7,210.3 198.7,210.3 198.8,210.2 198.8,210.1 198.8,210.0 198.9,210.0 198.9,210.0 199.0,210.0 199.0,210.0 199.0,210.0 199.1,210.0 199.1,210.1 199.1,210.1 199.2,210.2 199.2,210.3 199.3,210.4 199.3,210.5 199.3,210.6 199.4,210.8 199.4,210.9 199.4,211.0 199.5,211.2 199.5,211.3 199.5,211.5 199.6,211.6 199.6,211.8 199.7,211.9 199.7,212.0 199.7,212.2 199.8,212.3 199.8,212.4 199.8,212.4 199.9,212.4 199.9,212.4 200.0,212.4 200.0,212.4 200.0,212.4 200.1,212.4 200.1,212.4 200.1,212.4 200.2,212.4 200.2,212.4 200.3,212.4 200.3,212.3 200.3,212.1 200.4,212.0 200.4,211.8 200.4,211.7 200.5,211.5 200.5,211.3 200.5,211.1 200.6,211.0 200.6,210.8 200.7,210.6 200.7,210.4 200.7,210.2 200.8,210.0 200.8,209.8 200.8,209.7 200.9,209.5 200.9,209.4 201.0,209.3 201.0,209.2 201.0,209.1 201.1,209.0 201.1,209.0 201.1,208.9 201.2,208.9 201.2,208.9 201.3,208.9 201.3,209.0 201.3,209.0 201.4,209.1 201.4,209.2 201.4,209.3 201.5,209.5 201.5,209.6 201.5,209.8 201.6,210.0 201.6,210.1 201.7,210.3 201.7,210.5 201.7,210.7 201.8,210.9 201.8,211.1 201.8,211.3 201.9,211.4 201.9,211.6 202.0,211.8 202.0,211.9 202.0,212.0 202.1,212.1 202.1,212.2 202.1,212.3 202.2,212.3 202.2,212.4 202.3,212.4 202.3,212.4 202.3,212.3 202.4,212.3 202.4,212.2 202.4,212.1 202.5,211.9 202.5,211.8 202.5,211.6 202.6,211.4 202.6,211.2 202.7,211.0 202.7,210.7 202.7,210.5 202.8,210.2 202.8,210.0 202.8,209.7 202.9,209.5 202.9,209.2 203.0,209.0 203.0,208.7 203.0,208.5 203.1,208.3 203.1,208.1 203.1,207.9 203.2,207.8 203.2,207.6 203.3,207.5 203.3,207.4 203.3,207.4 203.4,207.3 203.4,207.3 203.4,207.4 203.5,207.4 203.5,207.5 203.5,207.6 203.6,207.7 203.6,207.9 203.7,208.1 203.7,208.3 203.7,208.5 203.8,208.7 203.8,209.0 203.8,209.2 203.9,209.5 203.9,209.7 204.0,210.0 204.0,210.3 204.0,210.5 204.1,210.8 204.1,211.0 204.1,211.2 204.2,211.4 204.2,211.6 204.3,211.7 204.3,211.8 204.3,211.9 204.4,212.0 204.4,212.1 204.4,212.1 204.5,212.0 204.5,212.0 204.5,211.9 204.6,211.7 204.6,211.6 204.7,211.4 204.7,211.2 204.7,210.9 204.8,210.7 204.8,210.4 204.8,210.1 204.9,209.8 204.9,209.4 205.0,209.1 205.0,208.7 205.0,208.4 205.1,208.0 205.1,207.7 205.1,207.4 205.2,207.0 205.2,206.7 205.3,206.5 205.3,206.2 205.3,206.0 205.4,205.8 205.4,205.6 205.4,205.5 205.5,205.4 205.5,205.4 205.5,205.4 205.6,205.4 205.6,205.4 205.7,205.5 205.7,205.7 205.7,205.9 205.8,206.1 205.8,206.3 205.8,206.6 205.9,206.8 205.9,207.2 206.0,207.5 206.0,207.8 206.0,208.2 206.1,208.5 206.1,208.9 206.1,209.2 206.2,209.6 206.2,209.9 206.2,210.2 206.3,210.5 206.3,210.8 206.4,211.0 206.4,211.2 206.4,211.4 206.5,211.6 206.5,211.6 206.5,211.7 206.6,211.7 206.6,211.7 206.7,211.6 206.7,211.5 206.7,211.3 206.8,211.1 206.8,210.9 206.8,210.6 206.9,210.3 206.9,210.0 207.0,209.6 207.0,209.2 207.0,208.8 207.1,208.3 207.1,207.9 207.1,207.5 207.2,207.0 207.2,206.6 207.2,206.2 207.3,205.8 207.3,205.4 207.4,205.0 207.4,204.7 207.4,204.4 207.5,204.1 207.5,203.9 207.5,203.7 207.6,203.6 207.6,203.5 207.7,203.4 207.7,203.4 207.7,203.5 207.8,203.6 207.8,203.8 207.8,204.0 207.9,204.2 207.9,204.5 208.0,204.8 208.0,205.1 208.0,205.5 208.1,205.9 208.1,206.3 208.1,206.8 208.2,207.2 208.2,207.7 208.2,208.1 208.3,208.6 208.3,209.0 208.4,209.4 208.4,209.8 208.4,210.1 208.5,210.4 208.5,210.7 208.5,210.9 208.6,211.1 208.6,211.2 208.7,211.3 208.7,211.4 208.7,211.4 208.8,211.3 208.8,211.2 208.8,211.0 208.9,210.8 208.9,210.5 209.0,210.2 209.0,209.8 209.0,209.4 209.1,209.0 209.1,208.5 209.1,208.1 209.2,207.6 209.2,207.0 209.2,206.5 209.3,206.0 209.3,205.5 209.4,205.0 209.4,204.5 209.4,204.1 209.5,203.7 209.5,203.3 209.5,202.9 209.6,202.6 209.6,202.4 209.7,202.2 209.7,202.0 209.7,201.9 209.8,201.9 209.8,201.9 209.8,202.0 209.9,202.1 209.9,202.3 210.0,202.6 210.0,202.9 210.0,203.2 210.1,203.6 210.1,204.0 210.1,204.4 210.2,204.9 210.2,205.4 210.2,205.9 210.3,206.4 210.3,206.9 210.4,207.4 210.4,207.9 210.4,208.4 210.5,208.9 210.5,209.3 210.5,209.7 210.6,210.0 210.6,210.3 210.7,210.6 210.7,210.8 210.7,210.9 210.8,211.0 210.8,211.0 210.8,211.0 210.9,210.9 210.9,210.7 211.0,210.5 211.0,210.2 211.0,209.9 211.1,209.5 211.1,209.1 211.1,208.6 211.2,208.1 211.2,207.6 211.2,207.1 211.3,206.5 211.3,205.9 211.4,205.3 211.4,204.8 211.4,204.2 211.5,203.7 211.5,203.1 211.5,202.7 211.6,202.2 211.6,201.8 211.7,201.5 211.7,201.1 211.7,200.9 211.8,200.7 211.8,200.6 211.8,200.5 211.9,200.5 211.9,200.6 212.0,200.7 212.0,200.9 212.0,201.2 212.1,201.5 212.1,201.9 212.1,202.3 212.2,202.8 212.2,203.3 212.2,203.8 212.3,204.3 212.3,204.9 212.4,205.5 212.4,206.1 212.4,206.6 212.5,207.2 212.5,207.7 212.5,208.3 212.6,208.7 212.6,209.2 212.7,209.6 212.7,209.9 212.7,210.2 212.8,210.4 212.8,210.6 212.8,210.7 212.9,210.7 212.9,210.6 212.9,210.5 213.0,210.4 213.0,210.1 213.1,209.8 213.1,209.4 213.1,209.0 213.2,208.5 213.2,208.0 213.2,207.5 213.3,206.9 213.3,206.3 213.4,205.6 213.4,205.0 213.4,204.4 213.5,203.7 213.5,203.1 213.5,202.5 213.6,202.0 213.6,201.4 213.7,201.0 213.7,200.5 213.7,200.2 213.8,199.9 213.8,199.6 213.8,199.4 213.9,199.3 213.9,199.3 213.9,199.3 214.0,199.4 214.0,199.6 214.1,199.9 214.1,200.2 214.1,200.6 214.2,201.0 214.2,201.5 214.2,202.0 214.3,202.6 214.3,203.2 214.4,203.8 214.4,204.4 214.4,205.0 214.5,205.7 214.5,206.3 214.5,206.9 214.6,207.5 214.6,208.0 214.7,208.5 214.7,209.0 214.7,209.4 214.8,209.7 214.8,210.0 214.8,210.2 214.9,210.3 214.9,210.4 214.9,210.4 215.0,210.3 215.0,210.1 215.1,209.8 215.1,209.5 215.1,209.1 215.2,208.7 215.2,208.2 215.2,207.7 215.3,207.1 215.3,206.4 215.4,205.8 215.4,205.1 215.4,204.4 215.5,203.7 215.5,203.1 215.5,202.4 215.6,201.8 215.6,201.2 215.7,200.6 215.7,200.1 215.7,199.6 215.8,199.2 215.8,198.9 215.8,198.6 215.9,198.4 215.9,198.3 215.9,198.3 216.0,198.4 216.0,198.5 216.1,198.7 216.1,199.0 216.1,199.3 216.2,199.7 216.2,200.2 216.2,200.7 216.3,201.3 216.3,201.9 216.4,202.5 216.4,203.2 216.4,203.9 216.5,204.6 216.5,205.2 216.5,205.9 216.6,206.6 216.6,207.2 216.7,207.7 216.7,208.3 216.7,208.7 216.8,209.1 216.8,209.5 216.8,209.8 216.9,209.9 216.9,210.1 216.9,210.1 217.0,210.1 217.0,209.9 217.1,209.7 217.1,209.4 217.1,209.1 217.2,208.7 217.2,208.2 217.2,207.6 217.3,207.0 217.3,206.4 217.4,205.7 217.4,205.0 217.4,204.3 217.5,203.6 217.5,202.9 217.5,202.2 217.6,201.5 217.6,200.9 217.7,200.2 217.7,199.7 217.7,199.2 217.8,198.7 217.8,198.4 217.8,198.1 217.9,197.8 217.9,197.7 217.9,197.6 218.0,197.6 218.0,197.7 218.1,197.9 218.1,198.2 218.1,198.5 218.2,198.9 218.2,199.4 218.2,200.0 218.3,200.5 218.3,201.2 218.4,201.8 218.4,202.5 218.4,203.2 218.5,204.0 218.5,204.7 218.5,205.4 218.6,206.1 218.6,206.7 218.7,207.3 218.7,207.9 218.7,208.4 218.8,208.8 218.8,209.2 218.8,209.5 218.9,209.7 218.9,209.8 218.9,209.8 219.0,209.8 219.0,209.7 219.1,209.5 219.1,209.2 219.1,208.8 219.2,208.4 219.2,207.9 219.2,207.3 219.3,206.7 219.3,206.0 219.4,205.3 219.4,204.6 219.4,203.8 219.5,203.1 219.5,202.4 219.5,201.6 219.6,200.9 219.6,200.3 219.6,199.6 219.7,199.1 219.7,198.5 219.8,198.1 219.8,197.7 219.8,197.4 219.9,197.2 219.9,197.1 219.9,197.0 220.0,197.1 220.0,197.2 220.1,197.4 220.1,197.7 220.1,198.1 220.2,198.5 220.2,199.0 220.2,199.6 220.3,200.2 220.3,200.9 220.4,201.6 220.4,202.3 220.4,203.1 220.5,203.8 220.5,204.6 220.5,205.3 220.6,206.0 220.6,206.6 220.6,207.2 220.7,207.8 220.7,208.3 220.8,208.7 220.8,209.1 220.8,209.3 220.9,209.5 220.9,209.6 220.9,209.6 221.0,209.5 221.0,209.3 221.1,209.1 221.1,208.7 221.1,208.3 221.2,207.8 221.2,207.3 221.2,206.7 221.3,206.0 221.3,205.3 221.4,204.5 221.4,203.8 221.4,203.0 221.5,202.3 221.5,201.5 221.5,200.8 221.6,200.1 221.6,199.4 221.6,198.8 221.7,198.3 221.7,197.8 221.8,197.4 221.8,197.1 221.8,196.8 221.9,196.7 221.9,196.6 221.9,196.6 222.0,196.8 222.0,197.0 222.1,197.3 222.1,197.7 222.1,198.1 222.2,198.6 222.2,199.2 222.2,199.9 222.3,200.5 222.3,201.3 222.4,202.0 222.4,202.8 222.4,203.6 222.5,204.3 222.5,205.1 222.5,205.8 222.6,206.4 222.6,207.1 222.6,207.6 222.7,208.1 222.7,208.6 222.8,208.9 222.8,209.2 222.8,209.4 222.9,209.5 222.9,209.5 222.9,209.4 223.0,209.2 223.0,208.9 223.1,208.6 223.1,208.1 223.1,207.6 223.2,207.1 223.2,206.4 223.2,205.7 223.3,205.0 223.3,204.3 223.4,203.5 223.4,202.7 223.4,202.0 223.5,201.2 223.5,200.5 223.5,199.8 223.6,199.1 223.6,198.5 223.6,198.0 223.7,197.5 223.7,197.2 223.8,196.9 223.8,196.7 223.8,196.5 223.9,196.5 223.9,196.6 223.9,196.8 224.0,197.0 224.0,197.3 224.1,197.8 224.1,198.3 224.1,198.8 224.2,199.5 224.2,200.1 224.2,200.8 224.3,201.6 224.3,202.4 224.4,203.1 224.4,203.9 224.4,204.7 224.5,205.4 224.5,206.1 224.5,206.8 224.6,207.4 224.6,207.9 224.6,208.4 224.7,208.8 224.7,209.1 224.8,209.3 224.8,209.5 224.8,209.5 224.9,209.4 224.9,209.3 224.9,209.0 225.0,208.7 225.0,208.3 225.1,207.8 225.1,207.3 225.1,206.6 225.2,206.0 225.2,205.3 225.2,204.5 225.3,203.7 225.3,203.0 225.4,202.2 225.4,201.4 225.4,200.7 225.5,200.0 225.5,199.3 225.5,198.7 225.6,198.2 225.6,197.7 225.6,197.3 225.7,197.0 225.7,196.8 225.8,196.7 225.8,196.6 225.8,196.7 225.9,196.9 225.9,197.1 225.9,197.5 226.0,197.9 226.0,198.4 226.1,198.9 226.1,199.6 226.1,200.2 226.2,201.0 226.2,201.7 226.2,202.5 226.3,203.3 226.3,204.0 226.3,204.8 226.4,205.5 226.4,206.2 226.5,206.9 226.5,207.5 226.5,208.0 226.6,208.5 226.6,208.9 226.6,209.2 226.7,209.4 226.7,209.5 226.8,209.5 226.8,209.4 226.8,209.3 226.9,209.0 226.9,208.7 226.9,208.2 227.0,207.7 227.0,207.2 227.1,206.5 227.1,205.9 227.1,205.1 227.2,204.4 227.2,203.6 227.2,202.9 227.3,202.1 227.3,201.3 227.3,200.6 227.4,199.9 227.4,199.3 227.5,198.7 227.5,198.2 227.5,197.8 227.6,197.4 227.6,197.2 227.6,197.0 227.7,196.9 227.7,196.9 227.8,197.0 227.8,197.2 227.8,197.5 227.9,197.9 227.9,198.3 227.9,198.9 228.0,199.5 228.0,200.1 228.1,200.8 228.1,201.5 228.1,202.3 228.2,203.1 228.2,203.8 228.2,204.6 228.3,205.3 228.3,206.1 228.3,206.7 228.4,207.3 228.4,207.9 228.5,208.4 228.5,208.8 228.5,209.1 228.6,209.4 228.6,209.5 228.6,209.6 228.7,209.5 228.7,209.4 228.8,209.1 228.8,208.8 228.8,208.4 228.9,208.0 228.9,207.4 228.9,206.8 229.0,206.1 229.0,205.4 229.1,204.7 229.1,203.9 229.1,203.2 229.2,202.4 229.2,201.7 229.2,201.0 229.3,200.3 229.3,199.7 229.3,199.1 229.4,198.6 229.4,198.1 229.5,197.8 229.5,197.5 229.5,197.3 229.6,197.2 229.6,197.2 229.6,197.3 229.7,197.5 229.7,197.8 229.8,198.2 229.8,198.6 229.8,199.2 229.9,199.8 229.9,200.4 229.9,201.1 230.0,201.8 230.0,202.6 230.1,203.3 230.1,204.1 230.1,204.8 230.2,205.6 230.2,206.3 230.2,206.9 230.3,207.5 230.3,208.1 230.3,208.5 230.4,208.9 230.4,209.2 230.5,209.4 230.5,209.6 230.5,209.6 230.6,209.5 230.6,209.4 230.6,209.1 230.7,208.8 230.7,208.4 230.8,207.9 230.8,207.4 230.8,206.8 230.9,206.1 230.9,205.4 230.9,204.7 231.0,203.9 231.0,203.2 231.1,202.4 231.1,201.7 231.1,201.0 231.2,200.4 231.2,199.8 231.2,199.2 231.3,198.7 231.3,198.3 231.3,198.0 231.4,197.8 231.4,197.7 231.5,197.6 231.5,197.7 231.5,197.8 231.6,198.0 231.6,198.4 231.6,198.8 231.7,199.2 231.7,199.8 231.8,200.4 231.8,201.1 231.8,201.8 231.9,202.5 231.9,203.2 231.9,204.0 232.0,204.7 232.0,205.4 232.1,206.1 232.1,206.8 232.1,207.4 232.2,208.0 232.2,208.5 232.2,208.9 232.3,209.2 232.3,209.5 232.3,209.6 232.4,209.7 232.4,209.6 232.5,209.5 232.5,209.3 232.5,209.0 232.6,208.6 232.6,208.2 232.6,207.6 232.7,207.0 232.7,206.4 232.8,205.7 232.8,205.0 232.8,204.3 232.9,203.6 232.9,202.8 232.9,202.1 233.0,201.4 233.0,200.8 233.0,200.2 233.1,199.6 233.1,199.2 233.2,198.8 233.2,198.5 233.2,198.2 233.3,198.1 233.3,198.0 233.3,198.1 233.4,198.2 233.4,198.4 233.5,198.8 233.5,199.1 233.5,199.6 233.6,200.2 233.6,200.7 233.6,201.4 233.7,202.1 233.7,202.8 233.8,203.5 233.8,204.3 233.8,205.0 233.9,205.7 233.9,206.4 233.9,207.0 234.0,207.6 234.0,208.2 234.0,208.6 234.1,209.0 234.1,209.4 234.2,209.6 234.2,209.7 234.2,209.8 234.3,209.7 234.3,209.6 234.3,209.4 234.4,209.1 234.4,208.7 234.5,208.2 234.5,207.7 234.5,207.1 234.6,206.5 234.6,205.8 234.6,205.1 234.7,204.4 234.7,203.7 234.8,203.0 234.8,202.3 234.8,201.7 234.9,201.1 234.9,200.5 234.9,200.0 235.0,199.6 235.0,199.2 235.0,198.9 235.1,198.8 235.1,198.7 235.2,198.7 235.2,198.7 235.2,198.9 235.3,199.2 235.3,199.5 235.3,199.9 235.4,200.4 235.4,201.0 235.5,201.6 235.5,202.2 235.5,202.9 235.6,203.6 235.6,204.3 235.6,205.0 235.7,205.7 235.7,206.4 235.8,207.0 235.8,207.6 235.8,208.2 235.9,208.7 235.9,209.1 235.9,209.4 236.0,209.7 236.0,209.9 236.0,209.9 236.1,209.9 236.1,209.8 236.2,209.7 236.2,209.4 236.2,209.0 236.3,208.6 236.3,208.1 236.3,207.6 236.4,207.0 236.4,206.4 236.5,205.7 236.5,205.1 236.5,204.4 236.6,203.7 236.6,203.0 236.6,202.4 236.7,201.8 236.7,201.3 236.8,200.8 236.8,200.4 236.8,200.0 236.9,199.8 236.9,199.6 236.9,199.5 237.0,199.4 237.0,199.5 237.0,199.7 237.1,199.9 237.1,200.2 237.2,200.6 237.2,201.1 237.2,201.6 237.3,202.2 237.3,202.8 237.3,203.5 237.4,204.1 237.4,204.8 237.5,205.5 237.5,206.2 237.5,206.8 237.6,207.4 237.6,208.0 237.6,208.5 237.7,209.0 237.7,209.4 237.8,209.7 237.8,209.9 237.8,210.1 237.9,210.2 237.9,210.1 237.9,210.0 238.0,209.9 238.0,209.6 238.0,209.3 238.1,208.9 238.1,208.4 238.2,207.9 238.2,207.3 238.2,206.7 238.3,206.1 238.3,205.5 238.3,204.8 238.4,204.2 238.4,203.6 238.5,203.0 238.5,202.4 238.5,201.9 238.6,201.5 238.6,201.1 238.6,200.8 238.7,200.5 238.7,200.4 238.8,200.3 238.8,200.3 238.8,200.4 238.9,200.6 238.9,200.8 238.9,201.2 239.0,201.6 239.0,202.0 239.0,202.5 239.1,203.1 239.1,203.7 239.2,204.3 239.2,205.0 239.2,205.6 239.3,206.2 239.3,206.9 239.3,207.5 239.4,208.0 239.4,208.6 239.5,209.0 239.5,209.4 239.5,209.8 239.6,210.1 239.6,210.2 239.6,210.4 239.7,210.4 239.7,210.3 239.7,210.2 239.8,210.0 239.8,209.7 239.9,209.3 239.9,208.9 239.9,208.5 240.0,207.9 240.0,207.4 240.0,206.8 240.1,206.2 240.1,205.6 240.2,205.0 240.2,204.4 240.2,203.8 240.3,203.3 240.3,202.8 240.3,202.3 240.4,201.9 240.4,201.6 240.5,201.4 240.5,201.2 240.5,201.1 240.6,201.1 240.6,201.2 240.6,201.3 240.7,201.5 240.7,201.8 240.7,202.2 240.8,202.6 240.8,203.1 240.9,203.6 240.9,204.2 240.9,204.7 241.0,205.4 241.0,206.0 241.0,206.6 241.1,207.2 241.1,207.8 241.2,208.3 241.2,208.8 241.2,209.3 241.3,209.6 241.3,210.0 241.3,210.2 241.4,210.4 241.4,210.5 241.5,210.6 241.5,210.5 241.5,210.4 241.6,210.2 241.6,209.9 241.6,209.6 241.7,209.2 241.7,208.7 241.7,208.2 241.8,207.7 241.8,207.1 241.9,206.6 241.9,206.0 241.9,205.4 242.0,204.8 242.0,204.3 242.0,203.8 242.1,203.3 242.1,202.9 242.2,202.5 242.2,202.2 242.2,202.0 242.3,201.9 242.3,201.8 242.3,201.8 242.4,201.8 242.4,202.0 242.5,202.2 242.5,202.5 242.5,202.9 242.6,203.3 242.6,203.7 242.6,204.2 242.7,204.8 242.7,205.4 242.7,205.9 242.8,206.5 242.8,207.1 242.9,207.7 242.9,208.2 242.9,208.7 243.0,209.2 243.0,209.6 243.0,210.0 243.1,210.2 243.1,210.5 243.2,210.6 243.2,210.7 243.2,210.7 243.3,210.6 243.3,210.5 243.3,210.3 243.4,210.0 243.4,209.6 243.5,209.2 243.5,208.8 243.5,208.3 243.6,207.8 243.6,207.2 243.6,206.7 243.7,206.1 243.7,205.6 243.7,205.1 243.8,204.6 243.8,204.1 243.9,203.7 243.9,203.3 243.9,203.0 244.0,202.7 244.0,202.6 244.0,202.4 244.1,202.4 244.1,202.4 244.2,202.6 244.2,202.7 244.2,203.0 244.3,203.3 244.3,203.7 244.3,204.1 244.4,204.6 244.4,205.1 244.5,205.6 244.5,206.2 244.5,206.7 244.6,207.3 244.6,207.8 244.6,208.3 244.7,208.8 244.7,209.3 244.7,209.7 244.8,210.1 244.8,210.4 244.9,210.6 244.9,210.8 244.9,210.8 245.0,210.9 245.0,210.8 245.0,210.7 245.1,210.5 245.1,210.2 245.2,209.9 245.2,209.6 245.2,209.1 245.3,208.7 245.3,208.2 245.3,207.7 245.4,207.1 245.4,206.6 245.5,206.1 245.5,205.6 245.5,205.1 245.6,204.7 245.6,204.3 245.6,203.9 245.7,203.6 245.7,203.4 245.7,203.2 245.8,203.1 245.8,203.0 245.9,203.1 245.9,203.2 245.9,203.3 246.0,203.6 246.0,203.9 246.0,204.2 246.1,204.6 246.1,205.1 246.2,205.6 246.2,206.1 246.2,206.6 246.3,207.1 246.3,207.7 246.3,208.2 246.4,208.7 246.4,209.1 246.4,209.6 246.5,210.0 246.5,210.3 246.6,210.6 246.6,210.8 246.6,210.9 246.7,211.0 246.7,211.0 246.7,210.9 246.8,210.8 246.8,210.6 246.9,210.4 246.9,210.1 246.9,209.7 247.0,209.3 247.0,208.8 247.0,208.4 247.1,207.9 247.1,207.4 247.2,206.9 247.2,206.4 247.2,205.9 247.3,205.5 247.3,205.0 247.3,204.7 247.4,204.4 247.4,204.1 247.4,203.9 247.5,203.7 247.5,203.7 247.6,203.6 247.6,203.7 247.6,203.8 247.7,204.0 247.7,204.3 247.7,204.6 247.8,204.9 247.8,205.3 247.9,205.8 247.9,206.2 247.9,206.7 248.0,207.2 248.0,207.7 248.0,208.2 248.1,208.7 248.1,209.2 248.2,209.6 248.2,210.0 248.2,210.3 248.3,210.6 248.3,210.8 248.3,211.0 248.4,211.1 248.4,211.1 248.4,211.1 248.5,211.0 248.5,210.9 248.6,210.6 248.6,210.4 248.6,210.1 248.7,209.7 248.7,209.3 248.7,208.8 248.8,208.4 248.8,207.9 248.9,207.4 248.9,207.0 248.9,206.5 249.0,206.1 249.0,205.7 249.0,205.3 249.1,205.0 249.1,204.7 249.2,204.5 249.2,204.3 249.2,204.2 249.3,204.2 249.3,204.3 249.3,204.4 249.4,204.5 249.4,204.7 249.4,205.0 249.5,205.3 249.5,205.7 249.6,206.1 249.6,206.6 249.6,207.0 249.7,207.5 249.7,208.0 249.7,208.5 249.8,208.9 249.8,209.4 249.9,209.8 249.9,210.1 249.9,210.5 250.0,210.7 250.0,211.0 250.0,211.1 250.1,211.2 250.1,211.3 250.2,211.3 250.2,211.2 250.2,211.0 250.3,210.8 250.3,210.6 250.3,210.3 250.4,209.9 250.4,209.5 250.4,209.1 250.5,208.7 250.5,208.2 250.6,207.8 250.6,207.3 250.6,206.9 250.7,206.5 250.7,206.1 250.7,205.8 250.8,205.5 250.8,205.2 250.9,205.0 250.9,204.9 250.9,204.8 251.0,204.8 251.0,204.8 251.0,204.9 251.1,205.1 251.1,205.3 251.2,205.6 251.2,205.9 251.2,206.2 251.3,206.6 251.3,207.1 251.3,207.5 251.4,208.0 251.4,208.4 251.4,208.8 251.5,209.3 251.5,209.7 251.6,210.1 251.6,210.4 251.6,210.7 251.7,211.0 251.7,211.2 251.7,211.3 251.8,211.4 251.8,211.4 251.9,211.4 251.9,211.3 251.9,211.1 252.0,210.9 252.0,210.7 252.0,210.4 252.1,210.0 252.1,209.6 252.2,209.2 252.2,208.8 252.2,208.4 252.3,208.0 252.3,207.6 252.3,207.2 252.4,206.8 252.4,206.4 252.4,206.1 252.5,205.9 252.5,205.7 252.6,205.5 252.6,205.4 252.6,205.3 252.7,205.3 252.7,205.4 252.7,205.5 252.8,205.7 252.8,205.9 252.9,206.2 252.9,206.5 252.9,206.9 253.0,207.3 253.0,207.7 253.0,208.1 253.1,208.5 253.1,209.0 253.1,209.4 253.2,209.8 253.2,210.1 253.3,210.5 253.3,210.8 253.3,211.0 253.4,211.3 253.4,211.4 253.4,211.5 253.5,211.6 253.5,211.5 253.6,211.5 253.6,211.3 253.6,211.2 253.7,210.9 253.7,210.7 253.7,210.3 253.8,210.0 253.8,209.6 253.9,209.2 253.9,208.8 253.9,208.4 254.0,208.1 254.0,207.7 254.0,207.3 254.1,207.0 254.1,206.7 254.1,206.4 254.2,206.2 254.2,206.0 254.3,205.9 254.3,205.9 254.3,205.9 254.4,205.9 254.4,206.0 254.4,206.2 254.5,206.4 254.5,206.7 254.6,207.0 254.6,207.3 254.6,207.7 254.7,208.0 254.7,208.4 254.7,208.8 254.8,209.2 254.8,209.6 254.9,210.0 254.9,210.4 254.9,210.7 255.0,211.0 255.0,211.2 255.0,211.4 255.1,211.5 255.1,211.6 255.1,211.7 255.2,211.7 255.2,211.6 255.3,211.5 255.3,211.3 255.3,211.1 255.4,210.8 255.4,210.5 255.4,210.2 255.5,209.9 255.5,209.5 255.6,209.1 255.6,208.8 255.6,208.4 255.7,208.0 255.7,207.7 255.7,207.4 255.8,207.1 255.8,206.9 255.9,206.7 255.9,206.5 255.9,206.4 256.0,206.4 256.0,206.4 256.0,206.4 256.1,206.6 256.1,206.7 256.1,206.9 256.2,207.2 256.2,207.5 256.3,207.8 256.3,208.1 256.3,208.5 256.4,208.9 256.4,209.2 256.4,209.6 256.5,210.0 256.5,210.3 256.6,210.7 256.6,211.0 256.6,211.2 256.7,211.4 256.7,211.6 256.7,211.7 256.8,211.8 256.8,211.8 256.9,211.8 256.9,211.7 256.9,211.6 257.0,211.4 257.0,211.2 257.0,210.9 257.1,210.6 257.1,210.3 257.1,210.0 257.2,209.6 257.2,209.3 257.3,208.9 257.3,208.6 257.3,208.3 257.4,208.0 257.4,207.7 257.4,207.4 257.5,207.2 257.5,207.1 257.6,206.9 257.6,206.9 257.6,206.9 257.7,206.9 257.7,207.0 257.7,207.1 257.8,207.3 257.8,207.5 257.9,207.7 257.9,208.0 257.9,208.3 258.0,208.7 258.0,209.0 258.0,209.4 258.1,209.7 258.1,210.1 258.1,210.4 258.2,210.7 258.2,211.0 258.3,211.3 258.3,211.5 258.3,211.7 258.4,211.8 258.4,211.9 258.4,211.9 258.5,211.9 258.5,211.9 258.6,211.7 258.6,211.6 258.6,211.4 258.7,211.2 258.7,210.9 258.7,210.6 258.8,210.3 258.8,210.0 258.9,209.6 258.9,209.3 258.9,209.0 259.0,208.7 259.0,208.4 259.0,208.1 259.1,207.9 259.1,207.7 259.1,207.5 259.2,207.4 259.2,207.3 259.3,207.3 259.3,207.3 259.3,207.4 259.4,207.5 259.4,207.7 259.4,207.9 259.5,208.1 259.5,208.4 259.6,208.7 259.6,209.0 259.6,209.3 259.7,209.6 259.7,210.0 259.7,210.3 259.8,210.6 259.8,210.9 259.9,211.2 259.9,211.4 259.9,211.6 260.0,211.8 260.0,211.9 260.0,212.0 260.1,212.0 260.1,212.0 260.1,212.0 260.2,211.9 260.2,211.7 260.3,211.5 260.3,211.3 260.3,211.1 260.4,210.8 260.4,210.5 260.4,210.2 260.5,209.9 260.5,209.6 260.6,209.3 260.6,209.0 260.6,208.7 260.7,208.4 260.7,208.2 260.7,208.0 260.8,207.9 260.8,207.8 260.8,207.7 260.9,207.7 260.9,207.7 261.0,207.8 261.0,207.9 261.0,208.1 261.1,208.3 261.1,208.5 261.1,208.8 261.2,209.0 261.2,209.3 261.3,209.7 261.3,210.0 261.3,210.3 261.4,210.6 261.4,210.9 261.4,211.1 261.5,211.4 261.5,211.6 261.6,211.8 261.6,211.9 261.6,212.0 261.7,212.1 261.7,212.1 261.7,212.1 261.8,212.0 261.8,211.9 261.8,211.8 261.9,211.6 261.9,211.4 262.0,211.1 262.0,210.9 262.0,210.6 262.1,210.3 262.1,210.0 262.1,209.7 262.2,209.4 262.2,209.2 262.3,208.9 262.3,208.7 262.3,208.5 262.4,208.4 262.4,208.2 262.4,208.2 262.5,208.1 262.5,208.1 262.6,208.2 262.6,208.3 262.6,208.4 262.7,208.5 262.7,208.7 262.7,209.0 262.8,209.2 262.8,209.5 262.8,209.8 262.9,210.1 262.9,210.4 263.0,210.7 263.0,210.9 263.0,211.2 263.1,211.4 263.1,211.7 263.1,211.8 263.2,212.0 263.2,212.1 263.3,212.2 263.3,212.2 263.3,212.2 263.4,212.2 263.4,212.1 263.4,211.9 263.5,211.8 263.5,211.6 263.6,211.4 263.6,211.1 263.6,210.9 263.7,210.6 263.7,210.3 263.7,210.1 263.8,209.8 263.8,209.5 263.8,209.3 263.9,209.1 263.9,208.9 264.0,208.7 264.0,208.6 264.0,208.5 264.1,208.5 264.1,208.5 264.1,208.5 264.2,208.6 264.2,208.7 264.3,208.9 264.3,209.0 264.3,209.2 264.4,209.5 264.4,209.7 264.4,210.0 264.5,210.3 264.5,210.5 264.6,210.8 264.6,211.1 264.6,211.3 264.7,211.6 264.7,211.8 264.7,211.9 264.8,212.1 264.8,212.2 264.8,212.3 264.9,212.3 264.9,212.3 265.0,212.2 265.0,212.2 265.0,212.0 265.1,211.9 265.1,211.7 265.1,211.5 265.2,211.3 265.2,211.0 265.3,210.8 265.3,210.5 265.3,210.3 265.4,210.0 265.4,209.8 265.4,209.6 265.5,209.4 265.5,209.2 265.6,209.1 265.6,208.9 265.6,208.9 265.7,208.8 265.7,208.8 265.7,208.9 265.8,208.9 265.8,209.0 265.8,209.2 265.9,209.4 265.9,209.6 266.0,209.8 266.0,210.0 266.0,210.3 266.1,210.5 266.1,210.8 266.1,211.0 266.2,211.3 266.2,211.5 266.3,211.7 266.3,211.9 266.3,212.1 266.4,212.2 266.4,212.3 266.4,212.3 266.5,212.4 266.5,212.3 266.6,212.3 266.6,212.2 266.6,212.1 266.7,211.9 266.7,211.8 266.7,211.6 266.8,211.4 266.8,211.1 266.8,210.9 266.9,210.6 266.9,210.4 267.0,210.2 267.0,210.0 267.0,209.8 267.1,209.6 267.1,209.4 267.1,209.3 267.2,209.2 267.2,209.2 267.3,209.1 267.3,209.1 267.3,209.2 267.4,209.3 267.4,209.4 267.4,209.5 267.5,209.7 267.5,209.9 267.5,210.1 267.6,210.3 267.6,210.6 267.7,210.8 267.7,211.0 267.7,211.3 267.8,211.5 267.8,211.7 267.8,211.9 267.9,212.0 267.9,212.2 268.0,212.3 268.0,212.4 268.0,212.4 268.1,212.4 268.1,212.4 268.1,212.3 268.2,212.2 268.2,212.1 268.3,211.9 268.3,211.7 268.3,211.6 268.4,211.3 268.4,211.1 268.4,210.9 268.5,210.7 268.5,210.5 268.5,210.3 268.6,210.1 268.6,209.9 268.7,209.7 268.7,209.6 268.7,209.5 268.8,209.5 268.8,209.4 268.8,209.4 268.9,209.5 268.9,209.5 269.0,209.6 269.0,209.8 269.0,209.9 269.1,210.1 269.1,210.3 269.1,210.5 269.2,210.7 269.2,210.9 269.3,211.1 269.3,211.3 269.3,211.6 269.4,211.7 269.4,211.9 269.4,212.1 269.5,212.2 269.5,212.3 269.5,212.4 269.6,212.4 269.6,212.4 269.7,212.4 269.7,212.3 269.7,212.3 269.8,212.1 269.8,212.0 269.8,211.8 269.9,211.7 269.9,211.5 270.0,211.3 270.0,211.1 270.0,210.9 270.1,210.7 270.1,210.5 270.1,210.3 270.2,210.1 270.2,210.0 270.3,209.9 270.3,209.8 270.3,209.7 270.4,209.7 270.4,209.7 270.4,209.7 270.5,209.8 270.5,209.9 270.5,210.0 270.6,210.1 270.6,210.3 270.7,210.5 270.7,210.7 270.7,210.9 270.8,211.1 270.8,211.3 270.8,211.5 270.9,211.7 270.9,211.8 271.0,212.0 271.0,212.1 271.0,212.2 271.1,212.3 271.1,212.4 271.1,212.4 271.2,212.4 271.2,212.4 271.3,212.4 271.3,212.3 271.3,212.2 271.4,212.0 271.4,211.9 271.4,211.7 271.5,211.5 271.5,211.4 271.5,211.2 271.6,211.0 271.6,210.8 271.7,210.6 271.7,210.5 271.7,210.3 271.8,210.2 271.8,210.1 271.8,210.0 271.9,210.0 271.9,210.0 272.0,210.0 272.0,210.0 272.0,210.1 272.1,210.1 272.1,210.3 272.1,210.4 272.2,210.5 272.2,210.7 272.3,210.9 272.3,211.1 272.3,211.3 272.4,211.4 272.4,211.6 272.4,211.8 272.5,211.9 272.5,212.1 272.5,212.2 272.6,212.3 272.6,212.4 272.7,212.4 272.7,212.4 272.7,212.4 272.8,212.4 272.8,212.3 272.8,212.3 272.9,212.2 272.9,212.0 273.0,211.9 273.0,211.7 273.0,211.6 273.1,211.4 273.1,211.2 273.1,211.0 273.2,210.9 273.2,210.7 273.3,210.6 273.3,210.5 273.3,210.4 273.4,210.3 273.4,210.2 273.4,210.2 273.5,210.2 273.5,210.2 273.5,210.3 273.6,210.3 273.6,210.4 273.7,210.5 273.7,210.7 273.7,210.8 273.8,211.0 273.8,211.1 273.8,211.3 273.9,211.5 273.9,211.6 274.0,211.8 274.0,211.9 274.0,212.1 274.1,212.2 274.1,212.3 274.1,212.4 274.2,212.4 274.2,212.4 274.2,212.4 274.3,212.4 274.3,212.4 274.4,212.3 274.4,212.2 274.4,212.1 274.5,212.0 274.5,211.8 274.5,211.7 274.6,211.5 274.6,211.4 274.7,211.2 274.7,211.1 274.7,210.9 274.8,210.8 274.8,210.7 274.8,210.6 274.9,210.5 274.9,210.4 275.0,210.4 275.0,210.4 275.0,210.4 275.1,210.4 275.1,210.5 275.1,210.6 275.2,210.7 275.2,210.8 275.2,210.9 275.3,211.1 275.3,211.2 275.4,211.4 275.4,211.5 275.4,211.7 275.5,211.8 275.5,212.0 275.5,212.1 275.6,212.2 275.6,212.3 275.7,212.4 275.7,212.4 275.7,212.4 275.8,212.4 275.8,212.4 275.8,212.4 275.9,212.3 275.9,212.2 276.0,212.1 276.0,212.0 276.0,211.9 276.1,211.8 276.1,211.6 276.1,211.5 276.2,211.3 276.2,211.2 276.2,211.1 276.3,210.9 276.3,210.8 276.4,210.7 276.4,210.7 276.4,210.6 276.5,210.6 276.5,210.6 276.5,210.6 276.6,210.6 276.6,210.7 276.7,210.7 276.7,210.8 276.7,211.0 276.8,211.1 276.8,211.2 276.8,211.3 276.9,211.5 276.9,211.6 277.0,211.8 277.0,211.9 277.0,212.0 277.1,212.1 277.1,212.2 277.1,212.3 277.2,212.4 277.2,212.4 277.2,212.4 277.3,212.4 277.3,212.4 277.4,212.4 277.4,212.3 277.4,212.2 277.5,212.2 277.5,212.0 277.5,211.9 277.6,211.8 277.6,211.7 277.7,211.5 277.7,211.4 277.7,211.3 277.8,211.1 277.8,211.0 277.8,210.9 277.9,210.9 277.9,210.8 278.0,210.8 278.0,210.7 278.0,210.7 278.1,210.8 278.1,210.8 278.1,210.8 278.2,210.9 278.2,211.0 278.2,211.1 278.3,211.2 278.3,211.4 278.4,211.5 278.4,211.6 278.4,211.8 278.5,211.9 278.5,212.0 278.5,212.1 278.6,212.2 278.6,212.3 278.7,212.4 278.7,212.4 278.7,212.4 278.8,212.4 278.8,212.4 278.8,212.4 278.9,212.4 278.9,212.3 279.0,212.2 279.0,212.1 279.0,212.0 279.1,211.9 279.1,211.8 279.1,211.7 279.2,211.5 279.2,211.4 279.2,211.3 279.3,211.2 279.3,211.1 279.4,211.0 279.4,211.0 279.4,210.9 279.5,210.9 279.5,210.9 279.5,210.9 279.6,210.9 279.6,211.0 279.7,211.0 279.7,211.1 279.7,211.2 279.8,211.3 279.8,211.4 279.8,211.5 279.9,211.6 279.9,211.8 280.0,211.9 280.0,212.0 280.0,212.1 280.1,212.2 280.1,212.3 280.1,212.3 280.2,212.4 280.2,212.4 280.2,212.4 280.3,212.4 280.3,212.4 280.4,212.4 280.4,212.3 280.4,212.3 280.5,212.2 280.5,212.1 280.5,212.0 280.6,211.9 280.6,211.8 280.7,211.7 280.7,211.5 280.7,211.4 280.8,211.3 280.8,211.3 280.8,211.2 280.9,211.1 280.9,211.1 280.9,211.0 281.0,211.0 281.0,211.0 281.1,211.0 281.1,211.1 281.1,211.1 281.2,211.2 281.2,211.3 281.2,211.4 281.3,211.5 281.3,211.6 281.4,211.7 281.4,211.8 281.4,211.9 281.5,212.0 281.5,212.1 281.5,212.2 281.6,212.3 281.6,212.3 281.7,212.4 281.7,212.4 281.7,212.4 281.8,212.4 281.8,212.4 281.8,212.4 281.9,212.3 281.9,212.3 281.9,212.2 282.0,212.1 282.0,212.0 282.1,211.9 282.1,211.8 282.1,211.7 282.2,211.6 282.2,211.5 282.2,211.4 282.3,211.4 282.3,211.3 282.4,211.2 282.4,211.2 282.4,211.2 282.5,211.2 282.5,211.2 282.5,211.2 282.6,211.2 282.6,211.3 282.7,211.3 282.7,211.4 282.7,211.5 282.8,211.6 282.8,211.7 282.8,211.8 282.9,211.9 282.9,212.0 282.9,212.1 283.0,212.2 283.0,212.2 283.1,212.3 283.1,212.4 283.1,212.4 283.2,212.4 283.2,212.4 283.2,212.4 283.3,212.4 283.3,212.4 283.4,212.3 283.4,212.3 283.4,212.2 283.5,212.1 283.5,212.0 283.5,211.9 283.6,211.9 283.6,211.8 283.7,211.7 283.7,211.6 283.7,211.5 283.8,211.4 283.8,211.4 283.8,211.3 283.9,211.3 283.9,211.3 283.9,211.3 284.0,211.3 284.0,211.3 284.1,211.3 284.1,211.4 284.1,211.4 284.2,211.5 284.2,211.6 284.2,211.7 284.3,211.8 284.3,211.9 284.4,211.9 284.4,212.0 284.4,212.1 284.5,212.2 284.5,212.3 284.5,212.3 284.6,212.4 284.6,212.4 284.7,212.4 284.7,212.4 284.7,212.4 284.8,212.4 284.8,212.3 284.8,212.3 284.9,212.2 284.9,212.2 284.9,212.1 285.0,212.0 285.0,211.9 285.1,211.9 285.1,211.8 285.1,211.7 285.2,211.6 285.2,211.6 285.2,211.5 285.3,211.5 285.3,211.4 285.4,211.4 285.4,211.4 285.4,211.4 285.5,211.4 285.5,211.4 285.5,211.5 285.6,211.5 285.6,211.6 285.7,211.6 285.7,211.7 285.7,211.8 285.8,211.9 285.8,211.9 285.8,212.0 285.9,212.1 285.9,212.2 285.9,212.2 286.0,212.3 286.0,212.3 286.1,212.4 286.1,212.4 286.1,212.4 286.2,212.4 286.2,212.4 286.2,212.3 286.3,212.3 286.3,212.3 286.4,212.2 286.4,212.1 286.4,212.1 286.5,212.0 286.5,211.9 286.5,211.8 286.6,211.8 286.6,211.7 286.7,211.7 286.7,211.6 286.7,211.6 286.8,211.5 286.8,211.5 286.8,211.5 286.9,211.5 286.9,211.5 286.9,211.5 287.0,211.5 287.0,211.6 287.1,211.6 287.1,211.7 287.1,211.8 287.2,211.8 287.2,211.9 287.2,212.0 287.3,212.0 287.3,212.1 287.4,212.2 287.4,212.2 287.4,212.3 287.5,212.3 287.5,212.3 287.5,212.4 287.6,212.4 287.6,212.4 287.6,212.4 287.7,212.3 287.7,212.3 287.8,212.3 287.8,212.2 287.8,212.2 287.9,212.1 287.9,212.0 287.9,212.0 288.0,211.9 288.0,211.8 288.1,211.8 288.1,211.7 288.1,211.7 288.2,211.6 288.2,211.6 288.2,211.6 288.3,211.6 288.3,211.6 288.4,211.6 288.4,211.6 288.4,211.6 288.5,211.7 288.5,211.7 288.5,211.8 288.6,211.8 288.6,211.9 288.6,211.9 288.7,212.0 288.7,212.1 288.8,212.1 288.8,212.2 288.8,212.2 288.9,212.3 288.9,212.3 288.9,212.3 289.0,212.3 289.0,212.4 289.1,212.4 289.1,212.3 289.1,212.3 289.2,212.3 289.2,212.3 289.2,212.2 289.3,212.2 289.3,212.1 289.4,212.1 289.4,212.0 289.4,211.9 289.5,211.9 289.5,211.8 289.5,211.8 289.6,211.8 289.6,211.7 289.6,211.7 289.7,211.7 289.7,211.7 289.8,211.7 289.8,211.7 289.8,211.7 289.9,211.7 289.9,211.8 289.9,211.8 290.0,211.9 290.0,211.9 290.1,212.0 290.1,212.0 290.1,212.1 290.2,212.1 290.2,212.2 290.2,212.2 290.3,212.3 290.3,212.3 290.4,212.3 290.4,212.3 290.4,212.4 290.5,212.4 290.5,212.4 290.5,212.3 290.6,212.3 290.6,212.3 290.6,212.3 290.7,212.2 290.7,212.2 290.8,212.1 290.8,212.1 290.8,212.0 290.9,212.0 290.9,211.9 290.9,211.9 291.0,211.9 291.0,211.8 291.1,211.8 291.1,211.8 291.1,211.8 291.2,211.8 291.2,211.8 291.2,211.8 291.3,211.8 291.3,211.8 291.4,211.9 291.4,211.9 291.4,212.0 291.5,212.0 291.5,212.0 291.5,212.1 291.6,212.1 291.6,212.2 291.6,212.2 291.7,212.3 291.7,212.3 291.8,212.3 291.8,212.4 291.8,212.4 291.9,212.4 291.9,212.4 291.9,212.4 292.0,212.4 292.0,212.3 292.1,212.3 292.1,212.3 292.1,212.2 292.2,212.2 292.2,212.2 292.2,212.1 292.3,212.1 292.3,212.0 292.4,212.0 292.4,212.0 292.4,211.9 292.5,211.9 292.5,211.9 292.5,211.9 292.6,211.9 292.6,211.9 292.6,211.9 292.7,211.9 292.7,211.9 292.8,211.9 292.8,212.0 292.8,212.0 292.9,212.1 292.9,212.1 292.9,212.2 293.0,212.2 293.0,212.2 293.1,212.3 293.1,212.3 293.1,212.4 293.2,212.4 293.2,212.4 293.2,212.4 293.3,212.4 293.3,212.4 293.4,212.4 293.4,212.4 293.4,212.4 293.5,212.4 293.5,212.3 293.5,212.3 293.6,212.3 293.6,212.2 293.6,212.2 293.7,212.2 293.7,212.1 293.8,212.1 293.8,212.1 293.8,212.0 293.9,212.0 293.9,212.0 293.9,212.0 294.0,212.0 294.0,212.0 294.1,212.0 294.1,212.0 294.1,212.0 294.2,212.0 294.2,212.1 294.2,212.1 294.3,212.1 294.3,212.2 294.3,212.2 294.4,212.3 294.4,212.3 294.5,212.3 294.5,212.4 294.5,212.4 294.6,212.4 294.6,212.4 294.6,212.4 294.7,212.4 294.7,212.4 294.8,212.4 294.8,212.4 294.8,212.4 294.9,212.4 294.9,212.4 294.9,212.4 295.0,212.3 295.0,212.3 295.1,212.3 295.1,212.2 295.1,212.2 295.2,212.2 295.2,212.1 295.2,212.1 295.3,212.1 295.3,212.1 295.3,212.1 295.4,212.1 295.4,212.1 295.5,212.1 295.5,212.1 295.5,212.1 295.6,212.1 295.6,212.2 295.6,212.2 295.7,212.2 295.7,212.3 295.8,212.3 295.8,212.3 295.8,212.4 295.9,212.4 295.9,212.4 295.9,212.4"/>
<polyline stroke="#0000ff" stroke-width="1.7" points="295.9,212.4 296.0,212.4 296.0,212.4 296.1,212.4 296.1,212.4 296.1,212.4 296.2,212.4 296.2,212.4 296.2,212.4 296.3,212.4 296.3,212.4 296.3,212.4 296.4,212.4 296.4,212.4 296.5,212.3 296.5,212.3 296.5,212.3 296.6,212.3 296.6,212.2 296.6,212.2 296.7,212.2 296.7,212.2 296.8,212.2 296.8,212.2 296.8,212.2 296.9,212.2 296.9,212.2 296.9,212.2 297.0,212.2 297.0,212.3 297.1,212.3 297.1,212.3 297.1,212.4 297.2,212.4 297.2,212.4 297.2,212.4 297.3,212.4 297.3,212.4 297.3,212.4 297.4,212.4 297.4,212.4 297.5,212.4 297.5,212.4 297.5,212.4 297.6,212.4 297.6,212.4 297.6,212.4 297.7,212.4 297.7,212.4 297.8,212.4 297.8,212.4 297.8,212.4 297.9,212.4 297.9,212.4 297.9,212.4 298.0,212.3 298.0,212.3 298.1,212.3 298.1,212.3 298.1,212.3 298.2,212.3 298.2,212.3 298.2,212.3 298.3,212.3 298.3,212.3 298.3,212.3 298.4,212.3 298.4,212.4 298.5,212.4 298.5,212.4 298.5,212.4 298.6,212.4 298.6,212.4 298.6,212.4 298.7,212.4 298.7,212.4 298.8,212.4 298.8,212.4 298.8,212.4 298.9,212.4 298.9,212.4 298.9,212.4 299.0,212.4 299.0,212.4 299.1,212.4 299.1,212.4 299.1,212.4 299.2,212.4 299.2,212.4 299.2,212.4 299.3,212.4 299.3,212.4 299.3,212.4 299.4,212.4 299.4,212.4 299.5,212.4 299.5,212.4 299.5,212.4 299.6,212.4 299.6,212.4 299.6,212.4 299.7,212.4 299.7,212.4 299.8,212.4 299.8,212.4 299.8,212.4 299.9,212.4 299.9,212.4 299.9,212.4 300.0,212.4 300.0,212.4 300.1,212.4 300.1,212.4 300.1,212.4 300.2,212.4 300.2,212.4 300.2,212.4 300.3,212.4 300.3,212.4 300.3,212.4 300.4,212.4 300.4,212.4 300.5,212.4 300.5,212.4 300.5,212.4 300.6,212.4 300.6,212.4 300.6,212.4 300.7,212.4 300.7,212.4 300.8,212.4 300.8,212.4 300.8,212.4 300.9,212.4 300.9,212.4 300.9,212.4 301.0,212.4 301.0,212.4 301.0,212.4 301.1,212.4 301.1,212.4 301.2,212.4 301.2,212.4 301.2,212.4 301.3,212.4 301.3,212.4 301.3,212.4 301.4,212.4 301.4,212.4 301.5,212.4 301.5,212.4 301.5,212.4 301.6,212.4 301.6,212.4 301.6,212.4 301.7,212.4 301.7,212.4 301.8,212.4 301.8,212.4 301.8,212.4 301.9,212.4 301.9,212.4 301.9,212.4 302.0,212.4 302.0,212.4 302.0,212.4 302.1,212.4 302.1,212.4 302.2,212.4 302.2,212.4 302.2,212.4 302.3,212.4 302.3,212.4 302.3,212.4 302.4,212.4 302.4,212.4 302.5,212.4 302.5,212.4 302.5,212.4 302.6,212.4 302.6,212.4 302.6,212.4 302.7,212.4 302.7,212.4 302.8,212.4 302.8,212.4 302.8,212.4 302.9,212.4 302.9,212.4 302.9,212.4 303.0,212.4 303.0,212.4 303.0,212.4 303.1,212.4 303.1,212.4 303.2,212.4 303.2,212.4 303.2,212.4 303.3,212.4 303.3,212.4 303.3,212.4 303.4,212.4 303.4,212.4 303.5,212.4 303.5,212.4 303.5,212.4 303.6,212.4 303.6,212.4 303.6,212.4 303.7,212.4 303.7,212.4 303.8,212.4 303.8,212.4 303.8,212.4 303.9,212.4 303.9,212.4 303.9,212.4 304.0,212.4 304.0,212.4 304.0,212.4 304.1,212.4 304.1,212.4 304.2,212.4 304.2,212.4 304.2,212.4 304.3,212.4 304.3,212.4 304.3,212.4 304.4,212.4 304.4,212.4 304.5,212.4 304.5,212.4 304.5,212.4 304.6,212.4 304.6,212.4 304.6,212.4 304.7,212.4 304.7,212.4 304.8,212.4 304.8,212.4 304.8,212.4 304.9,212.4 304.9,212.4 304.9,212.4 305.0,212.4 305.0,212.4 305.0,212.4 305.1,212.4 305.1,212.4 305.2,212.4 305.2,212.4 305.2,212.4 305.3,212.4 305.3,212.4 305.3,212.4 305.4,212.4 305.4,212.4 305.5,212.4 305.5,212.4 305.5,212.4 305.6,212.4 305.6,212.4 305.6,212.4 305.7,212.4 305.7,212.4 305.8,212.4 305.8,212.4 305.8,212.4 305.9,212.4 305.9,212.4 305.9,212.4 306.0,212.4 306.0,212.4 306.0,212.4 306.1,212.4 306.1,212.4 306.2,212.4 306.2,212.4 306.2,212.4 306.3,212.4 306.3,212.4 306.3,212.4 306.4,212.4 306.4,212.4 306.5,212.4 306.5,212.4 306.5,212.4 306.6,212.4 306.6,212.4 306.6,212.4 306.7,212.4 306.7,212.4 306.8,212.4 306.8,212.4 306.8,212.4 306.9,212.4 306.9,212.4 306.9,212.4 307.0,212.4 307.0,212.4 307.0,212.4 307.1,212.4 307.1,212.4 307.2,212.4 307.2,212.4 307.2,212.4 307.3,212.4 307.3,212.4 307.3,212.4 307.4,212.4 307.4,212.4 307.5,212.4 307.5,212.4 307.5,212.4 307.6,212.4 307.6,212.4 307.6,212.4 307.7,212.4 307.7,212.4 307.7,212.4 307.8,212.4 307.8,212.4 307.9,212.4 307.9,212.4 307.9,212.4 308.0,212.4 308.0,212.4 308.0,212.4 308.1,212.4 308.1,212.4 308.2,212.4 308.2,212.4 308.2,212.4 308.3,212.4 308.3,212.4 308.3,212.4 308.4,212.4 308.4,212.4 308.5,212.4 308.5,212.4 308.5,212.4 308.6,212.4 308.6,212.4 308.6,212.4 308.7,212.4 308.7,212.4 308.7,212.4 308.8,212.4 308.8,212.4 308.9,212.4 308.9,212.4 308.9,212.4 309.0,212.4 309.0,212.4 309.0,212.4 309.1,212.4 309.1,212.4 309.2,212.4 309.2,212.4 309.2,212.4 309.3,212.4 309.3,212.4 309.3,212.4 309.4,212.4 309.4,212.4 309.5,212.4 309.5,212.4 309.5,212.4 309.6,212.4 309.6,212.4 309.6,212.4 309.7,212.4 309.7,212.4 309.7,212.4 309.8,212.4 309.8,212.4 309.9,212.4 309.9,212.4 309.9,212.4 310.0,212.4 310.0,212.4 310.0,212.4 310.1,212.4 310.1,212.4 310.2,212.4 310.2,212.4 310.2,212.4 310.3,212.4 310.3,212.4 310.3,212.4 310.4,212.4 310.4,212.4 310.5,212.4 310.5,212.4 310.5,212.4 310.6,212.4 310.6,212.4 310.6,212.4 310.7,212.4 310.7,212.4 310.7,212.4 310.8,212.4 310.8,212.4 310.9,212.4 310.9,212.4 310.9,212.4 311.0,212.4 311.0,212.4 311.0,212.4 311.1,212.4 311.1,212.4 311.2,212.4 311.2,212.4 311.2,212.4 311.3,212.4 311.3,212.4 311.3,212.4 311.4,212.4 311.4,212.4 311.5,212.4 311.5,212.4 311.5,212.4 311.6,212.4 311.6,212.4 311.6,212.4 311.7,212.4 311.7,212.4 311.7,212.4 311.8,212.4 311.8,212.4 311.9,212.4 311.9,212.4 311.9,212.4 312.0,212.4 312.0,212.4 312.0,212.4 312.1,212.4 312.1,212.4 312.2,212.4 312.2,212.4 312.2,212.4 312.3,212.4 312.3,212.4 312.3,212.4 312.4,212.4 312.4,212.4 312.5,212.4 312.5,212.4 312.5,212.4 312.6,212.4 312.6,212.4 312.6,212.4 312.7,212.4 312.7,212.4 312.7,212.4 312.8,212.4 312.8,212.4 312.9,212.4 312.9,212.4 312.9,212.4 313.0,212.4 313.0,212.4 313.0,212.4 313.1,212.4 313.1,212.4 313.2,212.4 313.2,212.4 313.2,212.4 313.3,212.4 313.3,212.4 313.3,212.4 313.4,212.4 313.4,212.4 313.5,212.4 313.5,212.4 313.5,212.4 313.6,212.4 313.6,212.4 313.6,212.4 313.7,212.4 313.7,212.4 313.7,212.4 313.8,212.4 313.8,212.4 313.9,212.4 313.9,212.4 313.9,212.4 314.0,212.4 314.0,212.4 314.0,212.4 314.1,212.4 314.1,212.4 314.2,212.4 314.2,212.4 314.2,212.4 314.3,212.4 314.3,212.4 314.3,212.4 314.4,212.4 314.4,212.4 314.4,212.4 314.5,212.4 314.5,212.4 314.6,212.4 314.6,212.4 314.6,212.4 314.7,212.4 314.7,212.4 314.7,212.4 314.8,212.4 314.8,212.4 314.9,212.4 314.9,212.4 314.9,212.4 315.0,212.4 315.0,212.4 315.0,212.4 315.1,212.4 315.1,212.4 315.2,212.4 315.2,212.4 315.2,212.4 315.3,212.4 315.3,212.4 315.3,212.4 315.4,212.4 315.4,212.4 315.4,212.4 315.5,212.4 315.5,212.4 315.6,212.4 315.6,212.4 315.6,212.4 315.7,212.4 315.7,212.4 315.7,212.4 315.8,212.4 315.8,212.4 315.9,212.4 315.9,212.4 315.9,212.4 316.0,212.4 316.0,212.4 316.0,212.4 316.1,212.4 316.1,212.4 316.2,212.4 316.2,212.4 316.2,212.4 316.3,212.4 316.3,212.4 316.3,212.4 316.4,212.4 316.4,212.4 316.4,212.4 316.5,212.4 316.5,212.4 316.6,212.4 316.6,212.4 316.6,212.4 316.7,212.4 316.7,212.4 316.7,212.4 316.8,212.4 316.8,212.4 316.9,212.4 316.9,212.4 316.9,212.4 317.0,212.4 317.0,212.4 317.0,212.4 317.1,212.4 317.1,212.4 317.2,212.4 317.2,212.4 317.2,212.4 317.3,212.4 317.3,212.4 317.3,212.4 317.4,212.4 317.4,212.4 317.4,212.4 317.5,212.4 317.5,212.4 317.6,212.4 317.6,212.4 317.6,212.4 317.7,212.4 317.7,212.4 317.7,212.4 317.8,212.4 317.8,212.4 317.9,212.4 317.9,212.4 317.9,212.4 318.0,212.4 318.0,212.4 318.0,212.4 318.1,212.4 318.1,212.4 318.2,212.4 318.2,212.4 318.2,212.4 318.3,212.4 318.3,212.4 318.3,212.4 318.4,212.4 318.4,212.4 318.4,212.4 318.5,212.4 318.5,212.4 318.6,212.4 318.6,212.4 318.6,212.4 318.7,212.4 318.7,212.4 318.7,212.4 318.8,212.4 318.8,212.4 318.9,212.4 318.9,212.4 318.9,212.4 319.0,212.4 319.0,212.4 319.0,212.4 319.1,212.4 319.1,212.4 319.2,212.4 319.2,212.4 319.2,212.4 319.3,212.4 319.3,212.4 319.3,212.4 319.4,212.4 319.4,212.4 319.4,212.4 319.5,212.4 319.5,212.4 319.6,212.4 319.6,212.4 319.6,212.4 319.7,212.4 319.7,212.4 319.7,212.4 319.8,212.4 319.8,212.4 319.9,212.4 319.9,212.4 319.9,212.4 320.0,212.4 320.0,212.4 320.0,212.4 320.1,212.4 320.1,212.4 320.2,212.4 320.2,212.4 320.2,212.4 320.3,212.4 320.3,212.4 320.3,212.4 320.4,212.4 320.4,212.4 320.4,212.4 320.5,212.4 320.5,212.4 320.6,212.4 320.6,212.4 320.6,212.4 320.7,212.4 320.7,212.4 320.7,212.4 320.8,212.4 320.8,212.4 320.9,212.4 320.9,212.4 320.9,212.4 321.0,212.4 321.0,212.4 321.0,212.4 321.1,212.4 321.1,212.4 321.1,212.4 321.2,212.4 321.2,212.4 321.3,212.4 321.3,212.4 321.3,212.4 321.4,212.4 321.4,212.4 321.4,212.4 321.5,212.4 321.5,212.4 321.6,212.4 321.6,212.4 321.6,212.4 321.7,212.4 321.7,212.4 321.7,212.4 321.8,212.4 321.8,212.4 321.9,212.4 321.9,212.4 321.9,212.4 322.0,212.4 322.0,212.4 322.0,212.4 322.1,212.4 322.1,212.4 322.1,212.4 322.2,212.4 322.2,212.4 322.3,212.4 322.3,212.4 322.3,212.4 322.4,212.4 322.4,212.4 322.4,212.4 322.5,212.4 322.5,212.4 322.6,212.4 322.6,212.4 322.6,212.4 322.7,212.4 322.7,212.4 322.7,212.4 322.8,212.4 322.8,212.4 322.9,212.4 322.9,212.4 322.9,212.4 323.0,212.4 323.0,212.4 323.0,212.4 323.1,212.4 323.1,212.4 323.1,212.4 323.2,212.4 323.2,212.4 323.3,212.4 323.3,212.4 323.3,212.4 323.4,212.4 323.4,212.4 323.4,212.4 323.5,212.4 323.5,212.4 323.6,212.4 323.6,212.4 323.6,212.4 323.7,212.4 323.7,212.4 323.7,212.4 323.8,212.4 323.8,212.4 323.9,212.4 323.9,212.4 323.9,212.4 324.0,212.4 324.0,212.4 324.0,212.4 324.1,212.4 324.1,212.4 324.1,212.4 324.2,212.4 324.2,212.4 324.3,212.4 324.3,212.4 324.3,212.4 324.4,212.4 324.4,212.4 324.4,212.4 324.5,212.4 324.5,212.4 324.6,212.4 324.6,212.4 324.6,212.4 324.7,212.4 324.7,212.4 324.7,212.4 324.8,212.4 324.8,212.4 324.9,212.4 324.9,212.4 324.9,212.4 325.0,212.4 325.0,212.4 325.0,212.4 325.1,212.4 325.1,212.4 325.1,212.4 325.2,212.4 325.2,212.4 325.3,212.4 325.3,212.4 325.3,212.4 325.4,212.4 325.4,212.4 325.4,212.4 325.5,212.4 325.5,212.4 325.6,212.4 325.6,212.4 325.6,212.4 325.7,212.4 325.7,212.4 325.7,212.4 325.8,212.4 325.8,212.4 325.9,212.4 325.9,212.4 325.9,212.4 326.0,212.4 326.0,212.4 326.0,212.4 326.1,212.4 326.1,212.4 326.1,212.4 326.2,212.4 326.2,212.4 326.3,212.4 326.3,212.4 326.3,212.4 326.4,212.4 326.4,212.4 326.4,212.4 326.5,212.4 326.5,212.4 326.6,212.4 326.6,212.4 326.6,212.4 326.7,212.4 326.7,212.4 326.7,212.4 326.8,212.4 326.8,212.4 326.9,212.4 326.9,212.4 326.9,212.4 327.0,212.4 327.0,212.4 327.0,212.4 327.1,212.4 327.1,212.4 327.1,212.4 327.2,212.4 327.2,212.4 327.3,212.4 327.3,212.4 327.3,212.4 327.4,212.4 327.4,212.4 327.4,212.4 327.5,212.4 327.5,212.4 327.6,212.4 327.6,212.4 327.6,212.4 327.7,212.4 327.7,212.4 327.7,212.4 327.8,212.4 327.8,212.4 327.8,212.4 327.9,212.4 327.9,212.4 328.0,212.4 328.0,212.4 328.0,212.4 328.1,212.4 328.1,212.4 328.1,212.4 328.2,212.4 328.2,212.4 328.3,212.4 328.3,212.4 328.3,212.4 328.4,212.4 328.4,212.4 328.4,212.4 328.5,212.4 328.5,212.4 328.6,212.4 328.6,212.4 328.6,212.4 328.7,212.4 328.7,212.4 328.7,212.4 328.8,212.4 328.8,212.4 328.8,212.4 328.9,212.4 328.9,212.4 329.0,212.4 329.0,212.4 329.0,212.4 329.1,212.4 329.1,212.4 329.1,212.4 329.2,212.4 329.2,212.4 329.3,212.4 329.3,212.4 329.3,212.4 329.4,212.4 329.4,212.4 329.4,212.4 329.5,212.4 329.5,212.4 329.6,212.4 329.6,212.4 329.6,212.4 329.7,212.4 329.7,212.4 329.7,212.4 329.8,212.4 329.8,212.4 329.8,212.4 329.9,212.4 329.9,212.4 330.0,212.4 330.0,212.4 330.0,212.4 330.1,212.4 330.1,212.4 330.1,212.4 330.2,212.4 330.2,212.4 330.3,212.4 330.3,212.4 330.3,212.4 330.4,212.4 330.4,212.4 330.4,212.4 330.5,212.4 330.5,212.4 330.6,212.4 330.6,212.4 330.6,212.4 330.7,212.4 330.7,212.4 330.7,212.4 330.8,212.4 330.8,212.4 330.8,212.4 330.9,212.4 330.9,212.4 331.0,212.4 331.0,212.4 331.0,212.4 331.1,212.4 331.1,212.4 331.1,212.4 331.2,212.4 331.2,212.4 331.3,212.4 331.3,212.4 331.3,212.4 331.4,212.4 331.4,212.4 331.4,212.4 331.5,212.4 331.5,212.4 331.6,212.4 331.6,212.4 331.6,212.4 331.7,212.4 331.7,212.4 331.7,212.4 331.8,212.4 331.8,212.4 331.8,212.4 331.9,212.4 331.9,212.4 332.0,212.4 332.0,212.4 332.0,212.4 332.1,212.4 332.1,212.4 332.1,212.4 332.2,212.4 332.2,212.4 332.3,212.4 332.3,212.4 332.3,212.4 332.4,212.4 332.4,212.4 332.4,212.4 332.5,212.4 332.5,212.4 332.6,212.4 332.6,212.4 332.6,212.4 332.7,212.4 332.7,212.4 332.7,212.4 332.8,212.4 332.8,212.4 332.8,212.4 332.9,212.4 332.9,212.4 333.0,212.4 333.0,212.4 333.0,212.4 333.1,212.4 333.1,212.4 333.1,212.4 333.2,212.4 333.2,212.4 333.3,212.4 333.3,212.4 333.3,212.4 333.4,212.4 333.4,212.4 333.4,212.4 333.5,212.4 333.5,212.4 333.6,212.4 333.6,212.4 333.6,212.4 333.7,212.4 333.7,212.4 333.7,212.4 333.8,212.4 333.8,212.4 333.8,212.4 333.9,212.4 333.9,212.4 334.0,212.4 334.0,212.4 334.0,212.4 334.1,212.4 334.1,212.4 334.1,212.4 334.2,212.4 334.2,212.4 334.3,212.4 334.3,212.4 334.3,212.4 334.4,212.4 334.4,212.4 334.4,212.4 334.5,212.4 334.5,212.4 334.5,212.4 334.6,212.4 334.6,212.4 334.7,212.4 334.7,212.4 334.7,212.4 334.8,212.4 334.8,212.4 334.8,212.4 334.9,212.4 334.9,212.4 335.0,212.4 335.0,212.4 335.0,212.4 335.1,212.4 335.1,212.4 335.1,212.4 335.2,212.4 335.2,212.4 335.3,212.4 335.3,212.4 335.3,212.4 335.4,212.4 335.4,212.4 335.4,212.4 335.5,212.4 335.5,212.4 335.5,212.4 335.6,212.4 335.6,212.4 335.7,212.4 335.7,212.4 335.7,212.4 335.8,212.4 335.8,212.4 335.8,212.4 335.9,212.4 335.9,212.4 336.0,212.4 336.0,212.4 336.0,212.4 336.1,212.4 336.1,212.4 336.1,212.4 336.2,212.4 336.2,212.4 336.3,212.4 336.3,212.4 336.3,212.4 336.4,212.4 336.4,212.4 336.4,212.4 336.5,212.4 336.5,212.4 336.5,212.4 336.6,212.4 336.6,212.4 336.7,212.4 336.7,212.4 336.7,212.4 336.8,212.4 336.8,212.4 336.8,212.4 336.9,212.4 336.9,212.4 337.0,212.4 337.0,212.4 337.0,212.4 337.1,212.4 337.1,212.4 337.1,212.4 337.2,212.4 337.2,212.4 337.3,212.4 337.3,212.4 337.3,212.4 337.4,212.4 337.4,212.4 337.4,212.4 337.5,212.4 337.5,212.4 337.5,212.4 337.6,212.4 337.6,212.4 337.7,212.4 337.7,212.4 337.7,212.4 337.8,212.4 337.8,212.4 337.8,212.4 337.9,212.4 337.9,212.4 338.0,212.4 338.0,212.4 338.0,212.4 338.1,212.4 338.1,212.4 338.1,212.4 338.2,212.4 338.2,212.4 338.3,212.4 338.3,212.4 338.3,212.4 338.4,212.4 338.4,212.4 338.4,212.4 338.5,212.4 338.5,212.4 338.5,212.4 338.6,212.4 338.6,212.4 338.7,212.4 338.7,212.4 338.7,212.4 338.8,212.4 338.8,212.4 338.8,212.4 338.9,212.4 338.9,212.4 339.0,212.4 339.0,212.4 339.0,212.4 339.1,212.4 339.1,212.4 339.1,212.4 339.2,212.4 339.2,212.4 339.3,212.4 339.3,212.4 339.3,212.4 339.4,212.4 339.4,212.4 339.4,212.4 339.5,212.4 339.5,212.4 339.5,212.4 339.6,212.4 339.6,212.4 339.7,212.4 339.7,212.4 339.7,212.4 339.8,212.4 339.8,212.4 339.8,212.4 339.9,212.4 339.9,212.4 340.0,212.4 340.0,212.4 340.0,212.4 340.1,212.4 340.1,212.4 340.1,212.4 340.2,212.4 340.2,212.4 340.3,212.4 340.3,212.4 340.3,212.4 340.4,212.4 340.4,212.4 340.4,212.4 340.5,212.4 340.5,212.4 340.5,212.4 340.6,212.4 340.6,212.4 340.7,212.4 340.7,212.4 340.7,212.4 340.8,212.4 340.8,212.4 340.8,212.4 340.9,212.4 340.9,212.4 341.0,212.4 341.0,212.4 341.0,212.4 341.1,212.4 341.1,212.4 341.1,212.4 341.2,212.4 341.2,212.4 341.2,212.4 341.3,212.4 341.3,212.4 341.4,212.4 341.4,212.4 341.4,212.4 341.5,212.4 341.5,212.4 341.5,212.4 341.6,212.4 341.6,212.4 341.7,212.4 341.7,212.4 341.7,212.4 341.8,212.4 341.8,212.4 341.8,212.4 341.9,212.4 341.9,212.4 342.0,212.4 342.0,212.4 342.0,212.4 342.1,212.4 342.1,212.4 342.1,212.4 342.2,212.4 342.2,212.4 342.2,212.4 342.3,212.4 342.3,212.4 342.4,212.4 342.4,212.4 342.4,212.4 342.5,212.4 342.5,212.4 342.5,212.4 342.6,212.4 342.6,212.4 342.7,212.4 342.7,212.4 342.7,212.4 342.8,212.4 342.8,212.4 342.8,212.4 342.9,212.4 342.9,212.4 343.0,212.4 343.0,212.4 343.0,212.4 343.1,212.4 343.1,212.4 343.1,212.4 343.2,212.4 343.2,212.4 343.2,212.4 343.3,212.4 343.3,212.4 343.4,212.4 343.4,212.4 343.4,212.4 343.5,212.4 343.5,212.4 343.5,212.4 343.6,212.4 343.6,212.4 343.7,212.4 343.7,212.4 343.7,212.4 343.8,212.4 343.8,212.4 343.8,212.4 343.9,212.4 343.9,212.4 344.0,212.4 344.0,212.4 344.0,212.4 344.1,212.4 344.1,212.4 344.1,212.4 344.2,212.4 344.2,212.4 344.2,212.4 344.3,212.4 344.3,212.4 344.4,212.4 344.4,212.4 344.4,212.4 344.5,212.4 344.5,212.4 344.5,212.4 344.6,212.4 344.6,212.4 344.7,212.4 344.7,212.4 344.7,212.4 344.8,212.4 344.8,212.4 344.8,212.4 344.9,212.4 344.9,212.4 345.0,212.4 345.0,212.4 345.0,212.4 345.1,212.4 345.1,212.4 345.1,212.4 345.2,212.4 345.2,212.4 345.2,212.4 345.3,212.4 345.3,212.4 345.4,212.4 345.4,212.4 345.4,212.4 345.5,212.4 345.5,212.4 345.5,212.4 345.6,212.4 345.6,212.4 345.7,212.4 345.7,212.4 345.7,212.4 345.8,212.4 345.8,212.4 345.8,212.4 345.9,212.4 345.9,212.4 346.0,212.4 346.0,212.4 346.0,212.4 346.1,212.4 346.1,212.4 346.1,212.4 346.2,212.4 346.2,212.4 346.2,212.4 346.3,212.4 346.3,212.4 346.4,212.4 346.4,212.4 346.4,212.4 346.5,212.4 346.5,212.4 346.5,212.4 346.6,212.4 346.6,212.4 346.7,212.4 346.7,212.4 346.7,212.4 346.8,212.4 346.8,212.4 346.8,212.4 346.9,212.4 346.9,212.4 347.0,212.4 347.0,212.4 347.0,212.4 347.1,212.4 347.1,212.4 347.1,212.4 347.2,212.4 347.2,212.4 347.2,212.4 347.3,212.4 347.3,212.4 347.4,212.4 347.4,212.4 347.4,212.4 347.5,212.4 347.5,212.4 347.5,212.4 347.6,212.4 347.6,212.4 347.7,212.4 347.7,212.4 347.7,212.4 347.8,212.4 347.8,212.4 347.8,212.4 347.9,212.4 347.9,212.4 347.9,212.4 348.0,212.4 348.0,212.4 348.1,212.4 348.1,212.4 348.1,212.4 348.2,212.4 348.2,212.4 348.2,212.4 348.3,212.4 348.3,212.4 348.4,212.4 348.4,212.4 348.4,212.4 348.5,212.4 348.5,212.4 348.5,212.4 348.6,212.4 348.6,212.4 348.7,212.4 348.7,212.4 348.7,212.4 348.8,212.4 348.8,212.4 348.8,212.4 348.9,212.4 348.9,212.4 348.9,212.4 349.0,212.4 349.0,212.4 349.1,212.4 349.1,212.4 349.1,212.4 349.2,212.4 349.2,212.4 349.2,212.4 349.3,212.4 349.3,212.4 349.4,212.4 349.4,212.4 349.4,212.4 349.5,212.4 349.5,212.4 349.5,212.4 349.6,212.4 349.6,212.4 349.7,212.4 349.7,212.4 349.7,212.4 349.8,212.4 349.8,212.4 349.8,212.4 349.9,212.4 349.9,212.4 349.9,212.4 350.0,212.4 350.0,212.4 350.1,212.4 350.1,212.4 350.1,212.4 350.2,212.4 350.2,212.4 350.2,212.4 350.3,212.4 350.3,212.4 350.4,212.4 350.4,212.4 350.4,212.4 350.5,212.4 350.5,212.4 350.5,212.4 350.6,212.4 350.6,212.4 350.7,212.4 350.7,212.4 350.7,212.4 350.8,212.4 350.8,212.4 350.8,212.4 350.9,212.4 350.9,212.4 350.9,212.4 351.0,212.4 351.0,212.4 351.1,212.4 351.1,212.4 351.1,212.4 351.2,212.4 351.2,212.4 351.2,212.4 351.3,212.4 351.3,212.4 351.4,212.4 351.4,212.4 351.4,212.4 351.5,212.4 351.5,212.4 351.5,212.4 351.6,212.4 351.6,212.4 351.7,212.4 351.7,212.4 351.7,212.4 351.8,212.4 351.8,212.4 351.8,212.4 351.9,212.4 351.9,212.4 351.9,212.4 352.0,212.4 352.0,212.4 352.1,212.4 352.1,212.4 352.1,212.4 352.2,212.4 352.2,212.4 352.2,212.4 352.3,212.4 352.3,212.4 352.4,212.4 352.4,212.4 352.4,212.4 352.5,212.4 352.5,212.4 352.5,212.4 352.6,212.4 352.6,212.4 352.7,212.4 352.7,212.4 352.7,212.4 352.8,212.4 352.8,212.4 352.8,212.4 352.9,212.4 352.9,212.4 352.9,212.4 353.0,212.4 353.0,212.4 353.1,212.4 353.1,212.4 353.1,212.4 353.2,212.4 353.2,212.4 353.2,212.4 353.3,212.4 353.3,212.4 353.4,212.4 353.4,212.4 353.4,212.4 353.5,212.4 353.5,212.4 353.5,212.4 353.6,212.4 353.6,212.4 353.7,212.4 353.7,212.4 353.7,212.4 353.8,212.4 353.8,212.4 353.8,212.4 353.9,212.4 353.9,212.4 353.9,212.4 354.0,212.4 354.0,212.4 354.1,212.4 354.1,212.4 354.1,212.4 354.2,212.4 354.2,212.4 354.2,212.4 354.3,212.4 354.3,212.4 354.4,212.4 354.4,212.4 354.4,212.4 354.5,212.4 354.5,212.4 354.5,212.4 354.6,212.4 354.6,212.4 354.6,212.4 354.7,212.4 354.7,212.4 354.8,212.4 354.8,212.4 354.8,212.4 354.9,212.4 354.9,212.4 354.9,212.4 355.0,212.4 355.0,212.4 355.1,212.4 355.1,212.4 355.1,212.4 355.2,212.4 355.2,212.4 355.2,212.4 355.3,212.4 355.3,212.4 355.4,212.4 355.4,212.4 355.4,212.4 355.5,212.4 355.5,212.4 355.5,212.4 355.6,212.4 355.6,212.4 355.6,212.4 355.7,212.4 355.7,212.4 355.8,212.4 355.8,212.4 355.8,212.4 355.9,212.4 355.9,212.4 355.9,212.4 356.0,212.4 356.0,212.4 356.1,212.4 356.1,212.4 356.1,212.4 356.2,212.4 356.2,212.4 356.2,212.4 356.3,212.4 356.3,212.4 356.4,212.4 356.4,212.4 356.4,212.4 356.5,212.4 356.5,212.4 356.5,212.4 356.6,212.4 356.6,212.4 356.6,212.4 356.7,212.4 356.7,212.4 356.8,212.4 356.8,212.4 356.8,212.4 356.9,212.4 356.9,212.4 356.9,212.4 357.0,212.4 357.0,212.4 357.1,212.4 357.1,212.4 357.1,212.4 357.2,212.4 357.2,212.4 357.2,212.4 357.3,212.4 357.3,212.4 357.4,212.4 357.4,212.4 357.4,212.4 357.5,212.4 357.5,212.4 357.5,212.4 357.6,212.4 357.6,212.4 357.6,212.4 357.7,212.4 357.7,212.4 357.8,212.4 357.8,212.4 357.8,212.4 357.9,212.4 357.9,212.4 357.9,212.4 358.0,212.4 358.0,212.4 358.1,212.4 358.1,212.4 358.1,212.4 358.2,212.4 358.2,212.4 358.2,212.4 358.3,212.4 358.3,212.4 358.4,212.4 358.4,212.4 358.4,212.4 358.5,212.4 358.5,212.4 358.5,212.4 358.6,212.4 358.6,212.4 358.6,212.4 358.7,212.4 358.7,212.4 358.8,212.4 358.8,212.4 358.8,212.4 358.9,212.4 358.9,212.4 358.9,212.4 359.0,212.4 359.0,212.4 359.1,212.4 359.1,212.4 359.1,212.4 359.2,212.4 359.2,212.4 359.2,212.4 359.3,212.4 359.3,212.4 359.4,212.4 359.4,212.4 359.4,212.4 359.5,212.4 359.5,212.4 359.5,212.4 359.6,212.4 359.6,212.4 359.6,212.4 359.7,212.4 359.7,212.4 359.8,212.4 359.8,212.4 359.8,212.4 359.9,212.4 359.9,212.4 359.9,212.4 360.0,212.4 360.0,212.4 360.1,212.4 360.1,212.4 360.1,212.4 360.2,212.4 360.2,212.4 360.2,212.4 360.3,212.4 360.3,212.4 360.4,212.4 360.4,212.4 360.4,212.4 360.5,212.4 360.5,212.4 360.5,212.4 360.6,212.4 360.6,212.4 360.6,212.4 360.7,212.4 360.7,212.4 360.8,212.4 360.8,212.4 360.8,212.4 360.9,212.4 360.9,212.4 360.9,212.4 361.0,212.4 361.0,212.4 361.1,212.4 361.1,212.4 361.1,212.4 361.2,212.4 361.2,212.4 361.2,212.4 361.3,212.4 361.3,212.4 361.3,212.4 361.4,212.4 361.4,212.4 361.5,212.4 361.5,212.4 361.5,212.4 361.6,212.4 361.6,212.4 361.6,212.4 361.7,212.4 361.7,212.4 361.8,212.4 361.8,212.4 361.8,212.4 361.9,212.4 361.9,212.4 361.9,212.4 362.0,212.4 362.0,212.4 362.1,212.4 362.1,212.4 362.1,212.4 362.2,212.4 362.2,212.4 362.2,212.4 362.3,212.4 362.3,212.4 362.3,212.4 362.4,212.4 362.4,212.4 362.5,212.4 362.5,212.4 362.5,212.4 362.6,212.4 362.6,212.4 362.6,212.4 362.7,212.4 362.7,212.4 362.8,212.4 362.8,212.4 362.8,212.4 362.9,212.4 362.9,212.4 362.9,212.4 363.0,212.4 363.0,212.4 363.1,212.4 363.1,212.4 363.1,212.4 363.2,212.4 363.2,212.4 363.2,212.4 363.3,212.4 363.3,212.4 363.3,212.4 363.4,212.4 363.4,212.4 363.5,212.4 363.5,212.4 363.5,212.4 363.6,212.4 363.6,212.4 363.6,212.4 363.7,212.4 363.7,212.4 363.8,212.4 363.8,212.4 363.8,212.4 363.9,212.4 363.9,212.4 363.9,212.4 364.0,212.4 364.0,212.4 364.1,212.4 364.1,212.4 364.1,212.4 364.2,212.4 364.2,212.4 364.2,212.4 364.3,212.4 364.3,212.4 364.3,212.4 364.4,212.4 364.4,212.4 364.5,212.4 364.5,212.4 364.5,212.4 364.6,212.4 364.6,212.4 364.6,212.4 364.7,212.4 364.7,212.4 364.8,212.4 364.8,212.4 364.8,212.4 364.9,212.4 364.9,212.4 364.9,212.4 365.0,212.4 365.0,212.4 365.1,212.4 365.1,212.4 365.1,212.4 365.2,212.4 365.2,212.4 365.2,212.4 365.3,212.4 365.3,212.4 365.3,212.4 365.4,212.4 365.4,212.4 365.5,212.4 365.5,212.4 365.5,212.4 365.6,212.4 365.6,212.4 365.6,212.4 365.7,212.4 365.7,212.4 365.8,212.4 365.8,212.4 365.8,212.4 365.9,212.4 365.9,212.4 365.9,212.4 366.0,212.4 366.0,212.4 366.1,212.4 366.1,212.4 366.1,212.4 366.2,212.4 366.2,212.4 366.2,212.4 366.3,212.4 366.3,212.4 366.3,212.4 366.4,212.4 366.4,212.4 366.5,212.4 366.5,212.4 366.5,212.4 366.6,212.4 366.6,212.4 366.6,212.4 366.7,212.4 366.7,212.4 366.8,212.4 366.8,212.4 366.8,212.4 366.9,212.4 366.9,212.4 366.9,212.4 367.0,212.4 367.0,212.4 367.1,212.4 367.1,212.4 367.1,212.4 367.2,212.4 367.2,212.4 367.2,212.4 367.3,212.4 367.3,212.4 367.3,212.4 367.4,212.4 367.4,212.4 367.5,212.4 367.5,212.4 367.5,212.4 367.6,212.4 367.6,212.4 367.6,212.4 367.7,212.4 367.7,212.4 367.8,212.4 367.8,212.4 367.8,212.4 367.9,212.4 367.9,212.4 367.9,212.4 368.0,212.4 368.0,212.4 368.0,212.4 368.1,212.4 368.1,212.4 368.2,212.4 368.2,212.4 368.2,212.4 368.3,212.4 368.3,212.4 368.3,212.4 368.4,212.4 368.4,212.4 368.5,212.4 368.5,212.4 368.5,212.4 368.6,212.4 368.6,212.4 368.6,212.4 368.7,212.4 368.7,212.4 368.8,212.4 368.8,212.4 368.8,212.4 368.9,212.4 368.9,212.4 368.9,212.4 369.0,212.4 369.0,212.4 369.0,212.4 369.1,212.4 369.1,212.4 369.2,212.4 369.2,212.4 369.2,212.4 369.3,212.4 369.3,212.4 369.3,212.4 369.4,212.4 369.4,212.4 369.5,212.4 369.5,212.4 369.5,212.4 369.6,212.4 369.6,212.4 369.6,212.4 369.7,212.4 369.7,212.4 369.8,212.4 369.8,212.4 369.8,212.4 369.9,212.4 369.9,212.4 369.9,212.4 370.0,212.4 370.0,212.4 370.0,212.4 370.1,212.4 370.1,212.4 370.2,212.4 370.2,212.4 370.2,212.4 370.3,212.4 370.3,212.4 370.3,212.4 370.4,212.4 370.4,212.4 370.5,212.4 370.5,212.4 370.5,212.4 370.6,212.4 370.6,212.4 370.6,212.4 370.7,212.4 370.7,212.4 370.8,212.4 370.8,212.4 370.8,212.4 370.9,212.4 370.9,212.4"/>
<polyline stroke="#ff0000" stroke-width="1.22" points="37.8,213.4 37.8,213.4 37.8,213.4 37.9,213.4 37.9,213.4 37.9,213.4 38.0,213.4 38.0,213.4 38.0,213.4 38.1,213.4 38.1,213.4 38.2,213.4 38.2,213.4 38.2,213.4 38.3,213.4 38.3,213.4 38.3,213.4 38.4,213.4 38.4,213.4 38.5,213.4 38.5,213.4 38.5,213.4 38.6,213.4 38.6,213.4 38.6,213.4 38.7,213.4 38.7,213.4 38.7,213.4 38.8,213.4 38.8,213.4 38.9,213.4 38.9,213.4 38.9,213.4 39.0,213.4 39.0,213.4 39.0,213.4 39.1,213.4 39.1,213.4 39.2,213.4 39.2,213.4 39.2,213.4 39.3,213.4 39.3,213.4 39.3,213.4 39.4,213.4 39.4,213.4 39.5,213.4 39.5,213.4 39.5,213.4 39.6,213.4 39.6,213.4 39.6,213.4 39.7,213.4 39.7,213.4 39.7,213.4 39.8,213.4 39.8,213.4 39.9,213.4 39.9,213.4 39.9,213.4 40.0,213.4 40.0,213.4 40.0,213.4 40.1,213.4 40.1,213.4 40.2,213.4 40.2,213.4 40.2,213.4 40.3,213.4 40.3,213.4 40.3,213.4 40.4,213.4 40.4,213.4 40.5,213.4 40.5,213.4 40.5,213.4 40.6,213.4 40.6,213.4 40.6,213.4 40.7,213.4 40.7,213.4 40.7,213.4 40.8,213.4 40.8,213.4 40.9,213.4 40.9,213.4 40.9,213.4 41.0,213.4 41.0,213.4 41.0,213.4 41.1,213.4 41.1,213.4 41.2,213.4 41.2,213.4 41.2,213.4 41.3,213.4 41.3,213.4 41.3,213.4 41.4,213.4 41.4,213.4 41.5,213.4 41.5,213.4 41.5,213.4 41.6,213.4 41.6,213.4 41.6,213.4 41.7,213.4 41.7,213.4 41.7,213.4 41.8,213.4 41.8,213.4 41.9,213.4 41.9,213.4 41.9,213.4 42.0,213.4 42.0,213.4 42.0,213.4 42.1,213.4 42.1,213.4 42.2,213.4 42.2,213.4 42.2,213.4 42.3,213.4 42.3,213.3 42.3,213.3 42.4,213.3 42.4,213.3 42.5,213.3 42.5,213.3 42.5,213.3 42.6,213.3 42.6,213.3 42.6,213.3 42.7,213.3 42.7,213.3 42.7,213.3 42.8,213.3 42.8,213.3 42.9,213.3 42.9,213.3 42.9,213.3 43.0,213.3 43.0,213.3 43.0,213.3 43.1,213.3 43.1,213.3 43.2,213.3 43.2,213.3 43.2,213.3 43.3,213.3 43.3,213.3 43.3,213.3 43.4,213.3 43.4,213.3 43.5,213.3 43.5,213.3 43.5,213.3 43.6,213.3 43.6,213.3 43.6,213.3 43.7,213.3 43.7,213.3 43.7,213.2 43.8,213.2 43.8,213.2 43.9,213.2 43.9,213.2 43.9,213.2 44.0,213.2 44.0,213.2 44.0,213.2 44.1,213.2 44.1,213.2 44.2,213.2 44.2,213.2 44.2,213.2 44.3,213.2 44.3,213.2 44.3,213.2 44.4,213.2 44.4,213.2 44.5,213.2 44.5,213.2 44.5,213.2 44.6,213.2 44.6,213.1 44.6,213.1 44.7,213.1 44.7,213.1 44.7,213.1 44.8,213.1 44.8,213.1 44.9,213.1 44.9,213.1 44.9,213.1 45.0,213.1 45.0,213.1 45.0,213.1 45.1,213.1 45.1,213.1 45.2,213.1 45.2,213.0 45.2,213.0 45.3,213.0 45.3,213.0 45.3,213.0 45.4,213.0 45.4,213.0 45.4,213.0 45.5,213.0 45.5,213.0 45.6,213.0 45.6,213.0 45.6,213.0 45.7,213.0 45.7,212.9 45.7,212.9 45.8,212.9 45.8,212.9 45.9,212.9 45.9,212.9 45.9,212.9 46.0,212.9 46.0,212.9 46.0,212.9 46.1,212.9 46.1,212.8 46.2,212.8 46.2,212.8 46.2,212.8 46.3,212.8 46.3,212.8 46.3,212.8 46.4,212.8 46.4,212.8 46.4,212.8 46.5,212.7 46.5,212.7 46.6,212.7 46.6,212.7 46.6,212.7 46.7,212.7 46.7,212.7 46.7,212.7 46.8,212.7 46.8,212.6 46.9,212.6 46.9,212.6 46.9,212.6 47.0,212.6 47.0,212.6 47.0,212.6 47.1,212.6 47.1,212.5 47.2,212.5 47.2,212.5 47.2,212.5 47.3,212.5 47.3,212.5 47.3,212.5 47.4,212.5 47.4,212.4 47.4,212.4 47.5,212.4 47.5,212.4 47.6,212.4 47.6,212.4 47.6,212.4 47.7,212.3 47.7,212.3 47.7,212.3 47.8,212.3 47.8,212.3 47.9,212.3 47.9,212.3 47.9,212.2 48.0,212.2 48.0,212.2 48.0,212.2 48.1,212.2 48.1,212.2 48.2,212.1 48.2,212.1 48.2,212.1 48.3,212.1 48.3,212.1 48.3,212.1 48.4,212.0 48.4,212.0 48.4,212.0 48.5,212.0 48.5,212.0 48.6,211.9 48.6,211.9 48.6,211.9 48.7,211.9 48.7,211.9 48.7,211.9 48.8,211.8 48.8,211.8 48.9,211.8 48.9,211.8 48.9,211.8 49.0,211.7 49.0,211.7 49.0,211.7 49.1,211.7 49.1,211.7 49.2,211.6 49.2,211.6 49.2,211.6 49.3,211.6 49.3,211.6 49.3,211.5 49.4,211.5 49.4,211.5 49.4,211.5 49.5,211.4 49.5,211.4 49.6,211.4 49.6,211.4 49.6,211.4 49.7,211.3 49.7,211.3 49.7,211.3 49.8,211.3 49.8,211.2 49.9,211.2 49.9,211.2 49.9,211.2 50.0,211.2 50.0,211.1 50.0,211.1 50.1,211.1 50.1,211.1 50.2,211.0 50.2,211.0 50.2,211.0 50.3,211.0 50.3,210.9 50.3,210.9 50.4,210.9 50.4,210.9 50.4,210.8 50.5,210.8 50.5,210.8 50.6,210.8 50.6,210.7 50.6,210.7 50.7,210.7 50.7,210.7 50.7,210.6 50.8,210.6 50.8,210.6 50.9,210.6 50.9,210.5 50.9,210.5 51.0,210.5 51.0,210.5 51.0,210.4 51.1,210.4 51.1,210.4 51.2,210.4 51.2,210.3 51.2,210.3 51.3,210.3 51.3,210.2 51.3,210.2 51.4,210.2 51.4,210.2 51.4,210.1 51.5,210.1 51.5,210.1 51.6,210.1 51.6,210.0 51.6,210.0 51.7,210.0 51.7,209.9 51.7,209.9 51.8,209.9 51.8,209.9 51.9,209.8 51.9,209.8 51.9,209.8 52.0,209.8 52.0,209.7 52.0,209.7 52.1,209.7 52.1,209.6 52.1,209.6 52.2,209.6 52.2,209.6 52.3,209.5 52.3,209.5 52.3,209.5 52.4,209.4 52.4,209.4 52.4,209.4 52.5,209.4 52.5,209.3 52.6,209.3 52.6,209.3 52.6,209.3 52.7,209.2 52.7,209.2 52.7,209.2 52.8,209.1 52.8,209.1 52.9,209.1 52.9,209.1 52.9,209.0 53.0,209.0 53.0,209.0 53.0,208.9 53.1,208.9 53.1,208.9 53.1,208.9 53.2,208.8 53.2,208.8 53.3,208.8 53.3,208.8 53.3,208.7 53.4,208.7 53.4,208.7 53.4,208.7 53.5,208.6 53.5,208.6 53.6,208.6 53.6,208.5 53.6,208.5 53.7,208.5 53.7,208.5 53.7,208.4 53.8,208.4 53.8,208.4 53.9,208.4 53.9,208.3 53.9,208.3 54.0,208.3 54.0,208.3 54.0,208.2 54.1,208.2 54.1,208.2 54.1,208.2 54.2,208.2 54.2,208.1 54.3,208.1 54.3,208.1 54.3,208.1 54.4,208.0 54.4,208.0 54.4,208.0 54.5,208.0 54.5,207.9 54.6,207.9 54.6,207.9 54.6,207.9 54.7,207.9 54.7,207.8 54.7,207.8 54.8,207.8 54.8,207.8 54.9,207.8 54.9,207.7 54.9,207.7 55.0,207.7 55.0,207.7 55.0,207.7 55.1,207.7 55.1,207.6 55.1,207.6 55.2,207.6 55.2,207.6 55.3,207.6 55.3,207.6 55.3,207.5 55.4,207.5 55.4,207.5 55.4,207.5 55.5,207.5 55.5,207.5 55.6,207.4 55.6,207.4 55.6,207.4 55.7,207.4 55.7,207.4 55.7,207.4 55.8,207.4 55.8,207.4 55.9,207.4 55.9,207.3 55.9,207.3 56.0,207.3 56.0,207.3 56.0,207.3 56.1,207.3 56.1,207.3 56.1,207.3 56.2,207.3 56.2,207.3 56.3,207.3 56.3,207.3 56.3,207.2 56.4,207.2 56.4,207.2 56.4,207.2 56.5,207.2 56.5,207.2 56.6,207.2 56.6,207.2 56.6,207.2 56.7,207.2 56.7,207.2 56.7,207.2 56.8,207.2 56.8,207.2 56.9,207.2 56.9,207.2 56.9,207.2 57.0,207.2 57.0,207.2 57.0,207.2 57.1,207.2 57.1,207.2 57.1,207.2 57.2,207.2 57.2,207.2 57.3,207.3 57.3,207.3 57.3,207.3 57.4,207.3 57.4,207.3 57.4,207.3 57.5,207.3 57.5,207.3 57.6,207.3 57.6,207.3 57.6,207.3 57.7,207.4 57.7,207.4 57.7,207.4 57.8,207.4 57.8,207.4 57.9,207.4 57.9,207.4 57.9,207.4 58.0,207.5 58.0,207.5 58.0,207.5 58.1,207.5 58.1,207.5 58.1,207.5 58.2,207.6 58.2,207.6 58.3,207.6 58.3,207.6 58.3,207.6 58.4,207.7 58.4,207.7 58.4,207.7 58.5,207.7 58.5,207.8 58.6,207.8 58.6,207.8 58.6,207.8 58.7,207.9 58.7,207.9 58.7,207.9 58.8,207.9 58.8,208.0 58.8,208.0 58.9,208.0 58.9,208.0 59.0,208.1 59.0,208.1 59.0,208.1 59.1,208.2 59.1,208.2 59.1,208.2 59.2,208.3 59.2,208.3 59.3,208.3 59.3,208.3 59.3,208.4 59.4,208.4 59.4,208.4 59.4,208.5 59.5,208.5 59.5,208.6 59.6,208.6 59.6,208.6 59.6,208.7 59.7,208.7 59.7,208.7 59.7,208.8 59.8,208.8 59.8,208.9 59.8,208.9 59.9,208.9 59.9,209.0 60.0,209.0 60.0,209.0 60.0,209.1 60.1,209.1 60.1,209.2 60.1,209.2 60.2,209.3 60.2,209.3 60.3,209.3 60.3,209.4 60.3,209.4 60.4,209.5 60.4,209.5 60.4,209.6 60.5,209.6 60.5,209.6 60.6,209.7 60.6,209.7 60.6,209.8 60.7,209.8 60.7,209.9 60.7,209.9 60.8,210.0 60.8,210.0 60.8,210.0 60.9,210.1 60.9,210.1 61.0,210.2 61.0,210.2 61.0,210.3 61.1,210.3 61.1,210.4 61.1,210.4 61.2,210.5 61.2,210.5 61.3,210.5 61.3,210.6 61.3,210.6 61.4,210.7 61.4,210.7 61.4,210.8 61.5,210.8 61.5,210.9 61.6,210.9 61.6,211.0 61.6,211.0 61.7,211.1 61.7,211.1 61.7,211.1 61.8,211.2 61.8,211.2 61.8,211.3 61.9,211.3 61.9,211.4 62.0,211.4 62.0,211.5 62.0,211.5 62.1,211.5 62.1,211.6 62.1,211.6 62.2,211.7 62.2,211.7 62.3,211.8 62.3,211.8 62.3,211.8 62.4,211.9 62.4,211.9 62.4,212.0 62.5,212.0 62.5,212.0 62.6,212.1 62.6,212.1 62.6,212.2 62.7,212.2 62.7,212.2 62.7,212.3 62.8,212.3 62.8,212.4 62.8,212.4 62.9,212.4 62.9,212.5 63.0,212.5 63.0,212.5 63.0,212.6 63.1,212.6 63.1,212.6 63.1,212.7 63.2,212.7 63.2,212.7 63.3,212.7 63.3,212.8 63.3,212.8 63.4,212.8 63.4,212.9 63.4,212.9 63.5,212.9 63.5,212.9 63.6,213.0 63.6,213.0 63.6,213.0 63.7,213.0 63.7,213.0 63.7,213.1 63.8,213.1 63.8,213.1 63.8,213.1 63.9,213.1 63.9,213.2 64.0,213.2 64.0,213.2 64.0,213.2 64.1,213.2 64.1,213.2 64.1,213.2 64.2,213.3 64.2,213.3 64.3,213.3 64.3,213.3 64.3,213.3 64.4,213.3 64.4,213.3 64.4,213.3 64.5,213.3 64.5,213.3 64.6,213.3 64.6,213.3 64.6,213.3 64.7,213.3 64.7,213.3 64.7,213.3 64.8,213.3 64.8,213.3 64.8,213.3 64.9,213.3 64.9,213.3 65.0,213.3 65.0,213.3 65.0,213.3 65.1,213.2 65.1,213.2 65.1,213.2 65.2,213.2 65.2,213.2 65.3,213.2 65.3,213.2 65.3,213.1 65.4,213.1 65.4,213.1 65.4,213.1 65.5,213.1 65.5,213.0 65.5,213.0 65.6,213.0 65.6,213.0 65.7,212.9 65.7,212.9 65.7,212.9 65.8,212.8 65.8,212.8 65.8,212.8 65.9,212.7 65.9,212.7 66.0,212.7 66.0,212.6 66.0,212.6 66.1,212.6 66.1,212.5 66.1,212.5 66.2,212.5 66.2,212.4 66.3,212.4 66.3,212.3 66.3,212.3 66.4,212.3 66.4,212.2 66.4,212.2 66.5,212.1 66.5,212.1 66.5,212.0 66.6,212.0 66.6,211.9 66.7,211.9 66.7,211.8 66.7,211.8 66.8,211.7 66.8,211.7 66.8,211.6 66.9,211.6 66.9,211.5 67.0,211.5 67.0,211.4 67.0,211.4 67.1,211.3 67.1,211.3 67.1,211.2 67.2,211.1 67.2,211.1 67.3,211.0 67.3,211.0 67.3,210.9 67.4,210.9 67.4,210.8 67.4,210.7 67.5,210.7 67.5,210.6 67.5,210.6 67.6,210.5 67.6,210.4 67.7,210.4 67.7,210.3 67.7,210.3 67.8,210.2 67.8,210.1 67.8,210.1 67.9,210.0 67.9,210.0 68.0,209.9 68.0,209.8 68.0,209.8 68.1,209.7 68.1,209.6 68.1,209.6 68.2,209.5 68.2,209.5 68.3,209.4 68.3,209.3 68.3,209.3 68.4,209.2 68.4,209.2 68.4,209.1 68.5,209.1 68.5,209.0 68.5,208.9 68.6,208.9 68.6,208.8 68.7,208.8 68.7,208.7 68.7,208.7 68.8,208.6 68.8,208.5 68.8,208.5 68.9,208.4 68.9,208.4 69.0,208.3 69.0,208.3 69.0,208.2 69.1,208.2 69.1,208.1 69.1,208.1 69.2,208.0 69.2,208.0 69.3,207.9 69.3,207.9 69.3,207.9 69.4,207.8 69.4,207.8 69.4,207.7 69.5,207.7 69.5,207.6 69.5,207.6 69.6,207.6 69.6,207.5 69.7,207.5 69.7,207.5 69.7,207.4 69.8,207.4 69.8,207.4 69.8,207.3 69.9,207.3 69.9,207.3 70.0,207.3 70.0,207.2 70.0,207.2 70.1,207.2 70.1,207.2 70.1,207.1 70.2,207.1 70.2,207.1 70.3,207.1 70.3,207.1 70.3,207.1 70.4,207.0 70.4,207.0 70.4,207.0 70.5,207.0 70.5,207.0 70.5,207.0 70.6,207.0 70.6,207.0 70.7,207.0 70.7,207.0 70.7,207.0 70.8,207.0 70.8,207.0 70.8,207.0 70.9,207.0 70.9,207.0 71.0,207.0 71.0,207.0 71.0,207.1 71.1,207.1 71.1,207.1 71.1,207.1 71.2,207.1 71.2,207.1 71.3,207.2 71.3,207.2 71.3,207.2 71.4,207.2 71.4,207.3 71.4,207.3 71.5,207.3 71.5,207.4 71.5,207.4 71.6,207.4 71.6,207.5 71.7,207.5 71.7,207.5 71.7,207.6 71.8,207.6 71.8,207.7 71.8,207.7 71.9,207.7 71.9,207.8 72.0,207.8 72.0,207.9 72.0,207.9 72.1,208.0 72.1,208.0 72.1,208.1 72.2,208.1 72.2,208.2 72.2,208.2 72.3,208.3 72.3,208.4 72.4,208.4 72.4,208.5 72.4,208.5 72.5,208.6 72.5,208.7 72.5,208.7 72.6,208.8 72.6,208.8 72.7,208.9 72.7,209.0 72.7,209.0 72.8,209.1 72.8,209.2 72.8,209.2 72.9,209.3 72.9,209.4 73.0,209.4 73.0,209.5 73.0,209.6 73.1,209.7 73.1,209.7 73.1,209.8 73.2,209.9 73.2,209.9 73.2,210.0 73.3,210.1 73.3,210.2 73.4,210.2 73.4,210.3 73.4,210.4 73.5,210.4 73.5,210.5 73.5,210.6 73.6,210.7 73.6,210.7 73.7,210.8 73.7,210.9 73.7,210.9 73.8,211.0 73.8,211.1 73.8,211.1 73.9,211.2 73.9,211.3 74.0,211.4 74.0,211.4 74.0,211.5 74.1,211.6 74.1,211.6 74.1,211.7 74.2,211.7 74.2,211.8 74.2,211.9 74.3,211.9 74.3,212.0 74.4,212.0 74.4,212.1 74.4,212.2 74.5,212.2 74.5,212.3 74.5,212.3 74.6,212.4 74.6,212.4 74.7,212.5 74.7,212.5 74.7,212.6 74.8,212.6 74.8,212.7 74.8,212.7 74.9,212.7 74.9,212.8 75.0,212.8 75.0,212.9 75.0,212.9 75.1,212.9 75.1,213.0 75.1,213.0 75.2,213.0 75.2,213.0 75.2,213.1 75.3,213.1 75.3,213.1 75.4,213.1 75.4,213.1 75.4,213.2 75.5,213.2 75.5,213.2 75.5,213.2 75.6,213.2 75.6,213.2 75.7,213.2 75.7,213.2 75.7,213.2 75.8,213.2 75.8,213.2 75.8,213.2 75.9,213.2 75.9,213.2 76.0,213.2 76.0,213.2 76.0,213.2 76.1,213.2 76.1,213.1 76.1,213.1 76.2,213.1 76.2,213.1 76.2,213.0 76.3,213.0 76.3,213.0 76.4,213.0 76.4,212.9 76.4,212.9 76.5,212.8 76.5,212.8 76.5,212.8 76.6,212.7 76.6,212.7 76.7,212.6 76.7,212.6 76.7,212.5 76.8,212.5 76.8,212.4 76.8,212.4 76.9,212.3 76.9,212.3 77.0,212.2 77.0,212.1 77.0,212.1 77.1,212.0 77.1,212.0 77.1,211.9 77.2,211.8 77.2,211.8 77.2,211.7 77.3,211.6 77.3,211.5 77.4,211.5 77.4,211.4 77.4,211.3 77.5,211.2 77.5,211.2 77.5,211.1 77.6,211.0 77.6,210.9 77.7,210.8 77.7,210.8 77.7,210.7 77.8,210.6 77.8,210.5 77.8,210.4 77.9,210.4 77.9,210.3 78.0,210.2 78.0,210.1 78.0,210.0 78.1,209.9 78.1,209.8 78.1,209.8 78.2,209.7 78.2,209.6 78.2,209.5 78.3,209.4 78.3,209.3 78.4,209.3 78.4,209.2 78.4,209.1 78.5,209.0 78.5,208.9 78.5,208.8 78.6,208.8 78.6,208.7 78.7,208.6 78.7,208.5 78.7,208.4 78.8,208.4 78.8,208.3 78.8,208.2 78.9,208.1 78.9,208.1 78.9,208.0 79.0,207.9 79.0,207.9 79.1,207.8 79.1,207.7 79.1,207.7 79.2,207.6 79.2,207.5 79.2,207.5 79.3,207.4 79.3,207.4 79.4,207.3 79.4,207.3 79.4,207.2 79.5,207.2 79.5,207.1 79.5,207.1 79.6,207.0 79.6,207.0 79.7,206.9 79.7,206.9 79.7,206.9 79.8,206.8 79.8,206.8 79.8,206.8 79.9,206.8 79.9,206.7 79.9,206.7 80.0,206.7 80.0,206.7 80.1,206.7 80.1,206.6 80.1,206.6 80.2,206.6 80.2,206.6 80.2,206.6 80.3,206.6 80.3,206.6 80.4,206.6 80.4,206.6 80.4,206.7 80.5,206.7 80.5,206.7 80.5,206.7 80.6,206.7 80.6,206.7 80.7,206.8 80.7,206.8 80.7,206.8 80.8,206.9 80.8,206.9 80.8,206.9 80.9,207.0 80.9,207.0 80.9,207.1 81.0,207.1 81.0,207.2 81.1,207.2 81.1,207.3 81.1,207.3 81.2,207.4 81.2,207.4 81.2,207.5 81.3,207.6 81.3,207.6 81.4,207.7 81.4,207.8 81.4,207.8 81.5,207.9 81.5,208.0 81.5,208.0 81.6,208.1 81.6,208.2 81.7,208.3 81.7,208.4 81.7,208.4 81.8,208.5 81.8,208.6 81.8,208.7 81.9,208.8 81.9,208.9 81.9,209.0 82.0,209.1 82.0,209.1 82.1,209.2 82.1,209.3 82.1,209.4 82.2,209.5 82.2,209.6 82.2,209.7 82.3,209.8 82.3,209.9 82.4,210.0 82.4,210.1 82.4,210.2 82.5,210.3 82.5,210.3 82.5,210.4 82.6,210.5 82.6,210.6 82.7,210.7 82.7,210.8 82.7,210.9 82.8,211.0 82.8,211.1 82.8,211.2 82.9,211.2 82.9,211.3 82.9,211.4 83.0,211.5 83.0,211.6 83.1,211.7 83.1,211.7 83.1,211.8 83.2,211.9 83.2,212.0 83.2,212.0 83.3,212.1 83.3,212.2 83.4,212.2 83.4,212.3 83.4,212.4 83.5,212.4 83.5,212.5 83.5,212.5 83.6,212.6 83.6,212.6 83.7,212.7 83.7,212.7 83.7,212.8 83.8,212.8 83.8,212.8 83.8,212.9 83.9,212.9 83.9,212.9 83.9,213.0 84.0,213.0 84.0,213.0 84.1,213.0 84.1,213.0 84.1,213.1 84.2,213.1 84.2,213.1 84.2,213.1 84.3,213.1 84.3,213.1 84.4,213.1 84.4,213.1 84.4,213.0 84.5,213.0 84.5,213.0 84.5,213.0 84.6,213.0 84.6,212.9 84.7,212.9 84.7,212.9 84.7,212.8 84.8,212.8 84.8,212.8 84.8,212.7 84.9,212.7 84.9,212.6 84.9,212.6 85.0,212.5 85.0,212.5 85.1,212.4 85.1,212.3 85.1,212.3 85.2,212.2 85.2,212.1 85.2,212.1 85.3,212.0 85.3,211.9 85.4,211.8 85.4,211.7 85.4,211.7 85.5,211.6 85.5,211.5 85.5,211.4 85.6,211.3 85.6,211.2 85.6,211.1 85.7,211.0 85.7,210.9 85.8,210.8 85.8,210.7 85.8,210.6 85.9,210.5 85.9,210.4 85.9,210.3 86.0,210.2 86.0,210.1 86.1,210.0 86.1,209.9 86.1,209.8 86.2,209.7 86.2,209.6 86.2,209.5 86.3,209.4 86.3,209.2 86.4,209.1 86.4,209.0 86.4,208.9 86.5,208.8 86.5,208.7 86.5,208.6 86.6,208.5 86.6,208.4 86.6,208.3 86.7,208.2 86.7,208.1 86.8,208.0 86.8,207.9 86.8,207.8 86.9,207.7 86.9,207.7 86.9,207.6 87.0,207.5 87.0,207.4 87.1,207.3 87.1,207.2 87.1,207.2 87.2,207.1 87.2,207.0 87.2,206.9 87.3,206.9 87.3,206.8 87.4,206.7 87.4,206.7 87.4,206.6 87.5,206.6 87.5,206.5 87.5,206.5 87.6,206.4 87.6,206.4 87.6,206.4 87.7,206.3 87.7,206.3 87.8,206.3 87.8,206.2 87.8,206.2 87.9,206.2 87.9,206.2 87.9,206.2 88.0,206.2 88.0,206.2 88.1,206.2 88.1,206.2 88.1,206.2 88.2,206.2 88.2,206.2 88.2,206.2 88.3,206.3 88.3,206.3 88.4,206.3 88.4,206.3 88.4,206.4 88.5,206.4 88.5,206.5 88.5,206.5 88.6,206.5 88.6,206.6 88.6,206.7 88.7,206.7 88.7,206.8 88.8,206.8 88.8,206.9 88.8,207.0 88.9,207.1 88.9,207.1 88.9,207.2 89.0,207.3 89.0,207.4 89.1,207.5 89.1,207.5 89.1,207.6 89.2,207.7 89.2,207.8 89.2,207.9 89.3,208.0 89.3,208.1 89.4,208.2 89.4,208.3 89.4,208.4 89.5,208.5 89.5,208.6 89.5,208.7 89.6,208.9 89.6,209.0 89.6,209.1 89.7,209.2 89.7,209.3 89.8,209.4 89.8,209.5 89.8,209.6 89.9,209.7 89.9,209.9 89.9,210.0 90.0,210.1 90.0,210.2 90.1,210.3 90.1,210.4 90.1,210.5 90.2,210.6 90.2,210.7 90.2,210.8 90.3,210.9 90.3,211.0 90.4,211.1 90.4,211.2 90.4,211.3 90.5,211.4 90.5,211.5 90.5,211.6 90.6,211.7 90.6,211.8 90.6,211.8 90.7,211.9 90.7,212.0 90.8,212.1 90.8,212.1 90.8,212.2 90.9,212.3 90.9,212.3 90.9,212.4 91.0,212.4 91.0,212.5 91.1,212.5 91.1,212.6 91.1,212.6 91.2,212.6 91.2,212.7 91.2,212.7 91.3,212.7 91.3,212.7 91.4,212.7 91.4,212.8 91.4,212.8 91.5,212.8 91.5,212.8 91.5,212.8 91.6,212.7 91.6,212.7 91.6,212.7 91.7,212.7 91.7,212.7 91.8,212.6 91.8,212.6 91.8,212.6 91.9,212.5 91.9,212.5 91.9,212.4 92.0,212.4 92.0,212.3 92.1,212.2 92.1,212.2 92.1,212.1 92.2,212.0 92.2,212.0 92.2,211.9 92.3,211.8 92.3,211.7 92.3,211.6 92.4,211.5 92.4,211.4 92.5,211.3 92.5,211.2 92.5,211.1 92.6,211.0 92.6,210.9 92.6,210.8 92.7,210.7 92.7,210.6 92.8,210.5 92.8,210.3 92.8,210.2 92.9,210.1 92.9,210.0 92.9,209.9 93.0,209.7 93.0,209.6 93.1,209.5 93.1,209.3 93.1,209.2 93.2,209.1 93.2,209.0 93.2,208.8 93.3,208.7 93.3,208.6 93.3,208.5 93.4,208.3 93.4,208.2 93.5,208.1 93.5,208.0 93.5,207.9 93.6,207.7 93.6,207.6 93.6,207.5 93.7,207.4 93.7,207.3 93.8,207.2 93.8,207.1 93.8,207.0 93.9,206.9 93.9,206.8 93.9,206.7 94.0,206.6 94.0,206.5 94.1,206.4 94.1,206.3 94.1,206.2 94.2,206.2 94.2,206.1 94.2,206.0 94.3,206.0 94.3,205.9 94.3,205.9 94.4,205.8 94.4,205.8 94.5,205.7 94.5,205.7 94.5,205.7 94.6,205.6 94.6,205.6 94.6,205.6 94.7,205.6 94.7,205.6 94.8,205.6 94.8,205.6 94.8,205.6 94.9,205.6 94.9,205.6 94.9,205.6 95.0,205.6 95.0,205.7 95.1,205.7 95.1,205.8 95.1,205.8 95.2,205.8 95.2,205.9 95.2,206.0 95.3,206.0 95.3,206.1 95.3,206.1 95.4,206.2 95.4,206.3 95.5,206.4 95.5,206.5 95.5,206.6 95.6,206.7 95.6,206.7 95.6,206.8 95.7,207.0 95.7,207.1 95.8,207.2 95.8,207.3 95.8,207.4 95.9,207.5 95.9,207.6 95.9,207.7 96.0,207.9 96.0,208.0 96.1,208.1 96.1,208.3 96.1,208.4 96.2,208.5 96.2,208.6 96.2,208.8 96.3,208.9 96.3,209.0 96.3,209.2 96.4,209.3 96.4,209.4 96.5,209.6 96.5,209.7 96.5,209.8 96.6,210.0 96.6,210.1 96.6,210.2 96.7,210.3 96.7,210.5 96.8,210.6 96.8,210.7 96.8,210.8 96.9,210.9 96.9,211.0 96.9,211.2 97.0,211.3 97.0,211.4 97.1,211.5 97.1,211.6 97.1,211.6 97.2,211.7 97.2,211.8 97.2,211.9 97.3,212.0 97.3,212.0 97.3,212.1 97.4,212.2 97.4,212.2 97.5,212.3 97.5,212.3 97.5,212.4 97.6,212.4 97.6,212.4 97.6,212.5 97.7,212.5 97.7,212.5 97.8,212.5 97.8,212.5 97.8,212.5 97.9,212.5 97.9,212.5 97.9,212.5 98.0,212.5 98.0,212.4 98.1,212.4 98.1,212.4 98.1,212.3 98.2,212.3 98.2,212.2 98.2,212.2 98.3,212.1 98.3,212.0 98.3,212.0 98.4,211.9 98.4,211.8 98.5,211.7 98.5,211.6 98.5,211.5 98.6,211.4 98.6,211.3 98.6,211.2 98.7,211.1 98.7,211.0 98.8,210.8 98.8,210.7 98.8,210.6 98.9,210.5 98.9,210.3 98.9,210.2 99.0,210.1 99.0,209.9 99.0,209.8 99.1,209.6 99.1,209.5 99.2,209.3 99.2,209.2 99.2,209.0 99.3,208.9 99.3,208.7 99.3,208.6 99.4,208.4 99.4,208.3 99.5,208.1 99.5,208.0 99.5,207.9 99.6,207.7 99.6,207.6 99.6,207.4 99.7,207.3 99.7,207.1 99.8,207.0 99.8,206.9 99.8,206.7 99.9,206.6 99.9,206.5 99.9,206.4 100.0,206.3 100.0,206.1 100.0,206.0 100.1,205.9 100.1,205.8 100.2,205.7 100.2,205.6 100.2,205.5 100.3,205.5 100.3,205.4 100.3,205.3 100.4,205.3 100.4,205.2 100.5,205.1 100.5,205.1 100.5,205.0 100.6,205.0 100.6,205.0 100.6,205.0 100.7,204.9 100.7,204.9 100.8,204.9 100.8,204.9 100.8,204.9 100.9,204.9 100.9,205.0 100.9,205.0 101.0,205.0 101.0,205.0 101.0,205.1 101.1,205.1 101.1,205.2 101.2,205.3 101.2,205.3 101.2,205.4 101.3,205.5 101.3,205.6 101.3,205.6 101.4,205.7 101.4,205.8 101.5,205.9 101.5,206.0 101.5,206.2 101.6,206.3 101.6,206.4 101.6,206.5 101.7,206.6 101.7,206.8 101.8,206.9 101.8,207.1 101.8,207.2 101.9,207.3 101.9,207.5 101.9,207.6 102.0,207.8 102.0,207.9 102.0,208.1 102.1,208.2 102.1,208.4 102.2,208.6 102.2,208.7 102.2,208.9 102.3,209.0 102.3,209.2 102.3,209.3 102.4,209.5 102.4,209.6 102.5,209.8 102.5,209.9 102.5,210.1 102.6,210.2 102.6,210.4 102.6,210.5 102.7,210.6 102.7,210.8 102.8,210.9 102.8,211.0 102.8,211.1 102.9,211.3 102.9,211.4 102.9,211.5 103.0,211.6 103.0,211.7 103.0,211.8 103.1,211.8 103.1,211.9 103.2,212.0 103.2,212.1 103.2,212.1 103.3,212.2 103.3,212.2 103.3,212.3 103.4,212.3 103.4,212.3 103.5,212.3 103.5,212.4 103.5,212.4 103.6,212.4 103.6,212.4 103.6,212.3 103.7,212.3 103.7,212.3 103.8,212.3 103.8,212.2 103.8,212.2 103.9,212.1 103.9,212.0 103.9,212.0 104.0,211.9 104.0,211.8 104.0,211.7 104.1,211.6 104.1,211.5 104.2,211.4 104.2,211.3 104.2,211.2 104.3,211.1 104.3,210.9 104.3,210.8 104.4,210.7 104.4,210.5 104.5,210.4 104.5,210.2 104.5,210.1 104.6,209.9 104.6,209.8 104.6,209.6 104.7,209.4 104.7,209.3 104.8,209.1 104.8,208.9 104.8,208.8 104.9,208.6 104.9,208.4 104.9,208.2 105.0,208.1 105.0,207.9 105.0,207.7 105.1,207.6 105.1,207.4 105.2,207.2 105.2,207.1 105.2,206.9 105.3,206.7 105.3,206.6 105.3,206.4 105.4,206.3 105.4,206.1 105.5,206.0 105.5,205.8 105.5,205.7 105.6,205.6 105.6,205.4 105.6,205.3 105.7,205.2 105.7,205.1 105.7,205.0 105.8,204.9 105.8,204.8 105.9,204.7 105.9,204.6 105.9,204.6 106.0,204.5 106.0,204.5 106.0,204.4 106.1,204.4 106.1,204.3 106.2,204.3 106.2,204.3 106.2,204.3 106.3,204.3 106.3,204.3 106.3,204.3 106.4,204.3 106.4,204.4 106.5,204.4 106.5,204.4 106.5,204.5 106.6,204.6 106.6,204.6 106.6,204.7 106.7,204.8 106.7,204.9 106.7,205.0 106.8,205.1 106.8,205.2 106.9,205.3 106.9,205.4 106.9,205.5 107.0,205.7 107.0,205.8 107.0,205.9 107.1,206.1 107.1,206.2 107.2,206.4 107.2,206.6 107.2,206.7 107.3,206.9 107.3,207.1 107.3,207.2 107.4,207.4 107.4,207.6 107.5,207.7 107.5,207.9 107.5,208.1 107.6,208.3 107.6,208.5 107.6,208.6 107.7,208.8 107.7,209.0 107.7,209.2 107.8,209.3 107.8,209.5 107.9,209.7 107.9,209.8 107.9,210.0 108.0,210.2 108.0,210.3 108.0,210.5 108.1,210.6 108.1,210.8 108.2,210.9 108.2,211.0 108.2,211.1 108.3,211.3 108.3,211.4 108.3,211.5 108.4,211.6 108.4,211.7 108.5,211.8 108.5,211.8 108.5,211.9 108.6,212.0 108.6,212.0 108.6,212.1 108.7,212.1 108.7,212.1 108.7,212.1 108.8,212.1 108.8,212.1 108.9,212.1 108.9,212.1 108.9,212.1 109.0,212.1 109.0,212.0 109.0,212.0 109.1,211.9 109.1,211.9 109.2,211.8 109.2,211.7 109.2,211.6 109.3,211.5 109.3,211.4 109.3,211.3 109.4,211.2 109.4,211.1 109.5,210.9 109.5,210.8 109.5,210.6 109.6,210.5 109.6,210.3 109.6,210.2 109.7,210.0 109.7,209.8 109.7,209.6 109.8,209.5 109.8,209.3 109.9,209.1 109.9,208.9 109.9,208.7 110.0,208.5 110.0,208.3 110.0,208.1 110.1,207.9 110.1,207.8 110.2,207.6 110.2,207.4 110.2,207.2 110.3,207.0 110.3,206.8 110.3,206.6 110.4,206.4 110.4,206.2 110.5,206.0 110.5,205.9 110.5,205.7 110.6,205.5 110.6,205.4 110.6,205.2 110.7,205.1 110.7,204.9 110.7,204.8 110.8,204.7 110.8,204.5 110.9,204.4 110.9,204.3 110.9,204.2 111.0,204.1 111.0,204.0 111.0,203.9 111.1,203.9 111.1,203.8 111.2,203.8 111.2,203.7 111.2,203.7 111.3,203.7 111.3,203.7 111.3,203.6 111.4,203.7 111.4,203.7 111.5,203.7 111.5,203.7 111.5,203.8 111.6,203.8 111.6,203.9 111.6,203.9 111.7,204.0 111.7,204.1 111.7,204.2 111.8,204.3 111.8,204.4 111.9,204.5 111.9,204.6 111.9,204.8 112.0,204.9 112.0,205.1 112.0,205.2 112.1,205.4 112.1,205.5 112.2,205.7 112.2,205.9 112.2,206.0 112.3,206.2 112.3,206.4 112.3,206.6 112.4,206.8 112.4,207.0 112.4,207.2 112.5,207.4 112.5,207.6 112.6,207.8 112.6,208.0 112.6,208.2 112.7,208.4 112.7,208.5 112.7,208.7 112.8,208.9 112.8,209.1 112.9,209.3 112.9,209.5 112.9,209.7 113.0,209.8 113.0,210.0 113.0,210.2 113.1,210.3 113.1,210.5 113.2,210.6 113.2,210.7 113.2,210.9 113.3,211.0 113.3,211.1 113.3,211.2 113.4,211.3 113.4,211.4 113.4,211.5 113.5,211.5 113.5,211.6 113.6,211.6 113.6,211.7 113.6,211.7 113.7,211.7 113.7,211.7 113.7,211.7 113.8,211.7 113.8,211.7 113.9,211.6 113.9,211.6 113.9,211.5 114.0,211.5 114.0,211.4 114.0,211.3 114.1,211.2 114.1,211.1 114.2,211.0 114.2,210.9 114.2,210.8 114.3,210.6 114.3,210.5 114.3,210.3 114.4,210.2 114.4,210.0 114.4,209.8 114.5,209.6 114.5,209.5 114.6,209.3 114.6,209.1 114.6,208.9 114.7,208.6 114.7,208.4 114.7,208.2 114.8,208.0 114.8,207.8 114.9,207.6 114.9,207.3 114.9,207.1 115.0,206.9 115.0,206.7 115.0,206.4 115.1,206.2 115.1,206.0 115.2,205.8 115.2,205.6 115.2,205.4 115.3,205.2 115.3,205.0 115.3,204.8 115.4,204.6 115.4,204.4 115.4,204.2 115.5,204.1 115.5,203.9 115.6,203.7 115.6,203.6 115.6,203.5 115.7,203.3 115.7,203.2 115.7,203.1 115.8,203.0 115.8,202.9 115.9,202.8 115.9,202.8 115.9,202.7 116.0,202.7 116.0,202.6 116.0,202.6 116.1,202.6 116.1,202.6 116.2,202.6 116.2,202.7 116.2,202.7 116.3,202.7 116.3,202.8 116.3,202.9 116.4,202.9 116.4,203.0 116.4,203.1 116.5,203.2 116.5,203.4 116.6,203.5 116.6,203.6 116.6,203.8 116.7,203.9 116.7,204.1 116.7,204.3 116.8,204.4 116.8,204.6 116.9,204.8 116.9,205.0 116.9,205.2 117.0,205.4 117.0,205.7 117.0,205.9 117.1,206.1 117.1,206.3 117.2,206.5 117.2,206.8 117.2,207.0 117.3,207.2 117.3,207.4 117.3,207.7 117.4,207.9 117.4,208.1 117.4,208.3 117.5,208.5 117.5,208.8 117.6,209.0 117.6,209.2 117.6,209.3 117.7,209.5 117.7,209.7 117.7,209.9 117.8,210.1 117.8,210.2 117.9,210.4 117.9,210.5 117.9,210.6 118.0,210.7 118.0,210.9 118.0,211.0 118.1,211.0 118.1,211.1 118.2,211.2 118.2,211.2 118.2,211.3 118.3,211.3 118.3,211.3 118.3,211.3 118.4,211.3 118.4,211.3 118.4,211.3 118.5,211.2 118.5,211.1 118.6,211.1 118.6,211.0 118.6,210.9 118.7,210.8 118.7,210.7 118.7,210.5 118.8,210.4 118.8,210.3 118.9,210.1 118.9,209.9 118.9,209.7 119.0,209.6 119.0,209.4 119.0,209.2 119.1,208.9 119.1,208.7 119.1,208.5 119.2,208.3 119.2,208.0 119.3,207.8 119.3,207.6 119.3,207.3 119.4,207.1 119.4,206.8 119.4,206.6 119.5,206.3 119.5,206.1 119.6,205.8 119.6,205.6 119.6,205.3 119.7,205.1 119.7,204.8 119.7,204.6 119.8,204.4 119.8,204.1 119.9,203.9 119.9,203.7 119.9,203.5 120.0,203.3 120.0,203.1 120.0,202.9 120.1,202.8 120.1,202.6 120.1,202.4 120.2,202.3 120.2,202.2 120.3,202.1 120.3,202.0 120.3,201.9 120.4,201.8 120.4,201.7 120.4,201.7 120.5,201.6 120.5,201.6 120.6,201.6 120.6,201.6 120.6,201.6 120.7,201.6 120.7,201.7 120.7,201.7 120.8,201.8 120.8,201.9 120.9,201.9 120.9,202.0 120.9,202.2 121.0,202.3 121.0,202.4 121.0,202.6 121.1,202.7 121.1,202.9 121.1,203.1 121.2,203.3 121.2,203.5 121.3,203.7 121.3,203.9 121.3,204.1 121.4,204.3 121.4,204.6 121.4,204.8 121.5,205.0 121.5,205.3 121.6,205.5 121.6,205.8 121.6,206.0 121.7,206.3 121.7,206.5 121.7,206.8 121.8,207.0 121.8,207.3 121.9,207.5 121.9,207.8 121.9,208.0 122.0,208.2 122.0,208.4 122.0,208.7 122.1,208.9 122.1,209.1 122.1,209.3 122.2,209.4 122.2,209.6 122.3,209.8 122.3,209.9 122.3,210.1 122.4,210.2 122.4,210.3 122.4,210.4 122.5,210.5 122.5,210.6 122.6,210.6 122.6,210.7 122.6,210.7 122.7,210.7 122.7,210.7 122.7,210.7 122.8,210.6 122.8,210.6 122.9,210.5 122.9,210.5 122.9,210.4 123.0,210.3 123.0,210.2 123.0,210.0 123.1,209.9 123.1,209.7 123.1,209.5 123.2,209.4 123.2,209.2 123.3,208.9 123.3,208.7 123.3,208.5 123.4,208.3 123.4,208.0 123.4,207.8 123.5,207.5 123.5,207.2 123.6,206.9 123.6,206.7 123.6,206.4 123.7,206.1 123.7,205.8 123.7,205.5 123.8,205.2 123.8,204.9 123.9,204.6 123.9,204.3 123.9,204.1 124.0,203.8 124.0,203.5 124.0,203.2 124.1,202.9 124.1,202.7 124.1,202.4 124.2,202.2 124.2,201.9 124.3,201.7 124.3,201.5 124.3,201.3 124.4,201.1 124.4,200.9 124.4,200.8 124.5,200.6 124.5,200.5 124.6,200.4 124.6,200.2 124.6,200.2 124.7,200.1 124.7,200.0 124.7,200.0 124.8,199.9 124.8,199.9 124.9,199.9 124.9,200.0 124.9,200.0 125.0,200.0 125.0,200.1 125.0,200.2 125.1,200.3 125.1,200.4 125.1,200.5 125.2,200.7 125.2,200.8 125.3,201.0 125.3,201.2 125.3,201.4 125.4,201.6 125.4,201.8 125.4,202.1 125.5,202.3 125.5,202.5 125.6,202.8 125.6,203.1 125.6,203.3 125.7,203.6 125.7,203.9 125.7,204.2 125.8,204.5 125.8,204.7 125.8,205.0 125.9,205.3 125.9,205.6 126.0,205.9 126.0,206.2 126.0,206.4 126.1,206.7 126.1,207.0 126.1,207.2 126.2,207.5 126.2,207.7 126.3,208.0 126.3,208.2 126.3,208.4 126.4,208.6 126.4,208.8 126.4,209.0 126.5,209.1 126.5,209.3 126.6,209.4 126.6,209.5 126.6,209.6 126.7,209.7 126.7,209.8 126.7,209.8 126.8,209.9 126.8,209.9 126.8,209.9 126.9,209.9 126.9,209.8 127.0,209.8 127.0,209.7 127.0,209.6 127.1,209.5 127.1,209.4 127.1,209.2 127.2,209.1 127.2,208.9 127.3,208.7 127.3,208.5 127.3,208.3 127.4,208.1 127.4,207.9 127.4,207.6 127.5,207.4 127.5,207.1 127.6,206.8 127.6,206.5 127.6,206.2 127.7,205.9 127.7,205.6 127.7,205.3 127.8,205.0 127.8,204.7 127.8,204.4 127.9,204.0 127.9,203.7 128.0,203.4 128.0,203.1 128.0,202.8 128.1,202.5 128.1,202.2 128.1,201.9 128.2,201.6 128.2,201.3 128.3,201.1 128.3,200.8 128.3,200.6 128.4,200.3 128.4,200.1 128.4,199.9 128.5,199.7 128.5,199.6 128.6,199.4 128.6,199.3 128.6,199.1 128.7,199.0 128.7,198.9 128.7,198.8 128.8,198.8 128.8,198.8 128.8,198.7 128.9,198.7 128.9,198.8 129.0,198.8 129.0,198.8 129.0,198.9 129.1,199.0 129.1,199.1 129.1,199.2 129.2,199.4 129.2,199.5 129.3,199.7 129.3,199.9 129.3,200.1 129.4,200.3 129.4,200.5 129.4,200.8 129.5,201.0 129.5,201.3 129.6,201.6 129.6,201.9 129.6,202.2 129.7,202.4 129.7,202.7 129.7,203.1 129.8,203.4 129.8,203.7 129.8,204.0 129.9,204.3 129.9,204.6 130.0,204.9 130.0,205.2 130.0,205.5 130.1,205.8 130.1,206.1 130.1,206.4 130.2,206.6 130.2,206.9 130.3,207.2 130.3,207.4 130.3,207.6 130.4,207.8 130.4,208.0 130.4,208.2 130.5,208.4 130.5,208.5 130.6,208.7 130.6,208.8 130.6,208.9 130.7,208.9 130.7,209.0 130.7,209.0 130.8,209.1 130.8,209.1 130.8,209.0 130.9,209.0 130.9,208.9 131.0,208.9 131.0,208.8 131.0,208.6 131.1,208.5 131.1,208.4 131.1,208.2 131.2,208.0 131.2,207.8 131.3,207.6 131.3,207.3 131.3,207.1 131.4,206.8 131.4,206.5 131.4,206.3 131.5,206.0 131.5,205.7 131.6,205.3 131.6,205.0 131.6,204.7 131.7,204.3 131.7,204.0 131.7,203.7 131.8,203.3 131.8,203.0 131.8,202.6 131.9,202.3 131.9,201.9 132.0,201.6 132.0,201.3 132.0,201.0 132.1,200.7 132.1,200.3 132.1,200.1 132.2,199.8 132.2,199.5 132.3,199.2 132.3,199.0 132.3,198.8 132.4,198.6 132.4,198.4 132.4,198.2 132.5,198.0 132.5,197.9 132.5,197.8 132.6,197.7 132.6,197.6 132.7,197.5 132.7,197.5 132.7,197.5 132.8,197.5 132.8,197.5 132.8,197.5 132.9,197.6 132.9,197.7 133.0,197.8 133.0,197.9 133.0,198.1 133.1,198.2 133.1,198.4 133.1,198.6 133.2,198.8 133.2,199.1 133.3,199.3 133.3,199.6 133.3,199.8 133.4,200.1 133.4,200.4 133.4,200.7 133.5,201.0 133.5,201.4 133.5,201.7 133.6,202.0 133.6,202.4 133.7,202.7 133.7,203.0 133.7,203.4 133.8,203.7 133.8,204.1 133.8,204.4 133.9,204.7 133.9,205.0 134.0,205.3 134.0,205.6 134.0,205.9 134.1,206.2 134.1,206.5 134.1,206.7 134.2,207.0 134.2,207.2 134.3,207.4 134.3,207.6 134.3,207.7 134.4,207.9 134.4,208.0 134.4,208.1 134.5,208.2 134.5,208.2 134.5,208.3 134.6,208.3 134.6,208.3 134.7,208.2 134.7,208.2 134.7,208.1 134.8,208.0 134.8,207.9 134.8,207.7 134.9,207.6 134.9,207.4 135.0,207.2 135.0,207.0 135.0,206.7 135.1,206.5 135.1,206.2 135.1,205.9 135.2,205.6 135.2,205.3 135.3,204.9 135.3,204.6 135.3,204.2 135.4,203.9 135.4,203.5 135.4,203.1 135.5,202.7 135.5,202.4 135.5,202.0 135.6,201.6 135.6,201.2 135.7,200.8 135.7,200.4 135.7,200.1 135.8,199.7 135.8,199.3 135.8,199.0 135.9,198.7 135.9,198.3 136.0,198.0 136.0,197.7 136.0,197.5 136.1,197.2 136.1,197.0 136.1,196.8 136.2,196.6 136.2,196.4 136.3,196.2 136.3,196.1 136.3,196.0 136.4,195.9 136.4,195.8 136.4,195.8 136.5,195.8 136.5,195.8 136.5,195.8 136.6,195.9 136.6,195.9 136.7,196.0 136.7,196.2 136.7,196.3 136.8,196.5 136.8,196.7 136.8,196.9 136.9,197.1 136.9,197.4 137.0,197.7 137.0,197.9 137.0,198.2 137.1,198.6 137.1,198.9 137.1,199.2 137.2,199.6 137.2,199.9 137.3,200.3 137.3,200.7 137.3,201.1 137.4,201.4 137.4,201.8 137.4,202.2 137.5,202.6 137.5,202.9 137.5,203.3 137.6,203.6 137.6,204.0 137.7,204.3 137.7,204.7"/>
<polyline stroke="#ff0000" stroke-width="1.18" points="137.7,204.7 137.7,205.0 137.8,205.3 137.8,205.5 137.8,205.8 137.9,206.1 137.9,206.3 138.0,206.5 138.0,206.7 138.0,206.8 138.1,207.0 138.1,207.1 138.1,207.2 138.2,207.2 138.2,207.3 138.3,207.3 138.3,207.2 138.3,207.2 138.4,207.1 138.4,207.0 138.4,206.9 138.5,206.8 138.5,206.6 138.5,206.4 138.6,206.2 138.6,205.9 138.7,205.7 138.7,205.4 138.7,205.1 138.8,204.7 138.8,204.4 138.8,204.0 138.9,203.7 138.9,203.3 139.0,202.9 139.0,202.5 139.0,202.1 139.1,201.6 139.1,201.2 139.1,200.8 139.2,200.4 139.2,199.9 139.2,199.5 139.3,199.1 139.3,198.6 139.4,198.2 139.4,197.8 139.4,197.4 139.5,197.1 139.5,196.7 139.5,196.3 139.6,196.0 139.6,195.7 139.7,195.4 139.7,195.1 139.7,194.9 139.8,194.7 139.8,194.5 139.8,194.3 139.9,194.1 139.9,194.0 140.0,193.9 140.0,193.8 140.0,193.8 140.1,193.8 140.1,193.8 140.1,193.8 140.2,193.9 140.2,194.0 140.2,194.1 140.3,194.3 140.3,194.4 140.4,194.6 140.4,194.9 140.4,195.1 140.5,195.4 140.5,195.7 140.5,196.0 140.6,196.3 140.6,196.6 140.7,197.0 140.7,197.4 140.7,197.7 140.8,198.1 140.8,198.5 140.8,198.9 140.9,199.4 140.9,199.8 141.0,200.2 141.0,200.6 141.0,201.0 141.1,201.4 141.1,201.8 141.1,202.2 141.2,202.6 141.2,202.9 141.2,203.3 141.3,203.6 141.3,203.9 141.4,204.2 141.4,204.5 141.4,204.7 141.5,205.0 141.5,205.2 141.5,205.4 141.6,205.5 141.6,205.7 141.7,205.8 141.7,205.8 141.7,205.9 141.8,205.9 141.8,205.9 141.8,205.8 141.9,205.8 141.9,205.7 142.0,205.5 142.0,205.4 142.0,205.2 142.1,205.0 142.1,204.8 142.1,204.5 142.2,204.2 142.2,203.9 142.2,203.6 142.3,203.2 142.3,202.8 142.4,202.5 142.4,202.1 142.4,201.6 142.5,201.2 142.5,200.8 142.5,200.3 142.6,199.9 142.6,199.4 142.7,199.0 142.7,198.5 142.7,198.1 142.8,197.6 142.8,197.2 142.8,196.7 142.9,196.3 142.9,195.9 143.0,195.5 143.0,195.1 143.0,194.8 143.1,194.4 143.1,194.1 143.1,193.8 143.2,193.5 143.2,193.2 143.2,193.0 143.3,192.8 143.3,192.6 143.4,192.5 143.4,192.3 143.4,192.2 143.5,192.2 143.5,192.1 143.5,192.1 143.6,192.2 143.6,192.2 143.7,192.3 143.7,192.4 143.7,192.6 143.8,192.7 143.8,192.9 143.8,193.2 143.9,193.4 143.9,193.7 144.0,194.0 144.0,194.3 144.0,194.6 144.1,195.0 144.1,195.3 144.1,195.7 144.2,196.1 144.2,196.5 144.2,196.9 144.3,197.4 144.3,197.8 144.4,198.2 144.4,198.6 144.4,199.1 144.5,199.5 144.5,199.9 144.5,200.3 144.6,200.7 144.6,201.1 144.7,201.5 144.7,201.8 144.7,202.2 144.8,202.5 144.8,202.8 144.8,203.0 144.9,203.3 144.9,203.5 145.0,203.7 145.0,203.9 145.0,204.0 145.1,204.1 145.1,204.2 145.1,204.3 145.2,204.3 145.2,204.3 145.2,204.2 145.3,204.2 145.3,204.1 145.4,203.9 145.4,203.8 145.4,203.6 145.5,203.4 145.5,203.1 145.5,202.8 145.6,202.5 145.6,202.2 145.7,201.9 145.7,201.5 145.7,201.1 145.8,200.7 145.8,200.3 145.8,199.9 145.9,199.4 145.9,199.0 145.9,198.5 146.0,198.0 146.0,197.6 146.1,197.1 146.1,196.6 146.1,196.2 146.2,195.7 146.2,195.3 146.2,194.8 146.3,194.4 146.3,194.0 146.4,193.6 146.4,193.2 146.4,192.8 146.5,192.5 146.5,192.2 146.5,191.9 146.6,191.6 146.6,191.4 146.7,191.2 146.7,191.0 146.7,190.8 146.8,190.7 146.8,190.6 146.8,190.6 146.9,190.5 146.9,190.5 146.9,190.6 147.0,190.6 147.0,190.7 147.1,190.9 147.1,191.0 147.1,191.2 147.2,191.4 147.2,191.7 147.2,191.9 147.3,192.2 147.3,192.5 147.4,192.9 147.4,193.2 147.4,193.6 147.5,194.0 147.5,194.4 147.5,194.8 147.6,195.2 147.6,195.7 147.7,196.1 147.7,196.5 147.7,197.0 147.8,197.4 147.8,197.8 147.8,198.2 147.9,198.7 147.9,199.1 147.9,199.4 148.0,199.8 148.0,200.2 148.1,200.5 148.1,200.8 148.1,201.1 148.2,201.4 148.2,201.6 148.2,201.8 148.3,202.0 148.3,202.2 148.4,202.3 148.4,202.4 148.4,202.5 148.5,202.5 148.5,202.5 148.5,202.5 148.6,202.4 148.6,202.3 148.7,202.2 148.7,202.0 148.7,201.8 148.8,201.6 148.8,201.3 148.8,201.1 148.9,200.8 148.9,200.4 148.9,200.1 149.0,199.7 149.0,199.3 149.1,198.9 149.1,198.4 149.1,198.0 149.2,197.5 149.2,197.1 149.2,196.6 149.3,196.1 149.3,195.6 149.4,195.1 149.4,194.6 149.4,194.2 149.5,193.7 149.5,193.2 149.5,192.8 149.6,192.3 149.6,191.9 149.7,191.5 149.7,191.1 149.7,190.7 149.8,190.4 149.8,190.1 149.8,189.8 149.9,189.5 149.9,189.3 149.9,189.1 150.0,188.9 150.0,188.8 150.1,188.7 150.1,188.6 150.1,188.6 150.2,188.6 150.2,188.6 150.2,188.7 150.3,188.8 150.3,188.9 150.4,189.1 150.4,189.3 150.4,189.5 150.5,189.7 150.5,190.0 150.5,190.3 150.6,190.7 150.6,191.0 150.7,191.4 150.7,191.8 150.7,192.2 150.8,192.6 150.8,193.0 150.8,193.5 150.9,193.9 150.9,194.4 150.9,194.8 151.0,195.3 151.0,195.7 151.1,196.2 151.1,196.6 151.1,197.0 151.2,197.4 151.2,197.8 151.2,198.2 151.3,198.5 151.3,198.9 151.4,199.2 151.4,199.5 151.4,199.7 151.5,200.0 151.5,200.2 151.5,200.3 151.6,200.4 151.6,200.5 151.7,200.6 151.7,200.6 151.7,200.6 151.8,200.6 151.8,200.5 151.8,200.4 151.9,200.2 151.9,200.0 151.9,199.8 152.0,199.6 152.0,199.3 152.1,199.0 152.1,198.6 152.1,198.2 152.2,197.8 152.2,197.4 152.2,197.0 152.3,196.5 152.3,196.0 152.4,195.5 152.4,195.0 152.4,194.5 152.5,194.0 152.5,193.5 152.5,192.9 152.6,192.4 152.6,191.9 152.6,191.4 152.7,190.9 152.7,190.4 152.8,189.9 152.8,189.4 152.8,189.0 152.9,188.5 152.9,188.1 152.9,187.8 153.0,187.4 153.0,187.1 153.1,186.8 153.1,186.6 153.1,186.4 153.2,186.2 153.2,186.0 153.2,185.9 153.3,185.9 153.3,185.8 153.4,185.9 153.4,185.9 153.4,186.0 153.5,186.1 153.5,186.3 153.5,186.5 153.6,186.7 153.6,187.0 153.6,187.3 153.7,187.6 153.7,187.9 153.8,188.3 153.8,188.7 153.8,189.1 153.9,189.6 153.9,190.0 153.9,190.5 154.0,191.0 154.0,191.5 154.1,192.0 154.1,192.5 154.1,193.0 154.2,193.5 154.2,193.9 154.2,194.4 154.3,194.9 154.3,195.3 154.4,195.8 154.4,196.2 154.4,196.6 154.5,196.9 154.5,197.2 154.5,197.5 154.6,197.8 154.6,198.0 154.6,198.3 154.7,198.4 154.7,198.5 154.8,198.6 154.8,198.7 154.8,198.7 154.9,198.6 154.9,198.6 154.9,198.4 155.0,198.3 155.0,198.1 155.1,197.9 155.1,197.6 155.1,197.3 155.2,196.9 155.2,196.6 155.2,196.1 155.3,195.7 155.3,195.2 155.4,194.7 155.4,194.2 155.4,193.7 155.5,193.2 155.5,192.6 155.5,192.0 155.6,191.4 155.6,190.9 155.6,190.3 155.7,189.7 155.7,189.1 155.8,188.6 155.8,188.0 155.8,187.5 155.9,187.0 155.9,186.4 155.9,186.0 156.0,185.5 156.0,185.1 156.1,184.7 156.1,184.4 156.1,184.0 156.2,183.7 156.2,183.5 156.2,183.3 156.3,183.1 156.3,183.0 156.4,182.9 156.4,182.9 156.4,182.9 156.5,182.9 156.5,183.0 156.5,183.2 156.6,183.3 156.6,183.5 156.6,183.8 156.7,184.1 156.7,184.4 156.8,184.8 156.8,185.1 156.8,185.6 156.9,186.0 156.9,186.5 156.9,187.0 157.0,187.5 157.0,188.0 157.1,188.5 157.1,189.0 157.1,189.6 157.2,190.1 157.2,190.7 157.2,191.2 157.3,191.7 157.3,192.2 157.4,192.7 157.4,193.2 157.4,193.6 157.5,194.1 157.5,194.5 157.5,194.8 157.6,195.2 157.6,195.5 157.6,195.8 157.7,196.0 157.7,196.2 157.8,196.3 157.8,196.4 157.8,196.5 157.9,196.5 157.9,196.4 157.9,196.4 158.0,196.2 158.0,196.1 158.1,195.9 158.1,195.6 158.1,195.3 158.2,195.0 158.2,194.6 158.2,194.2 158.3,193.8 158.3,193.3 158.4,192.8 158.4,192.2 158.4,191.7 158.5,191.1 158.5,190.5 158.5,189.9 158.6,189.3 158.6,188.7 158.6,188.1 158.7,187.4 158.7,186.8 158.8,186.2 158.8,185.6 158.8,185.0 158.9,184.4 158.9,183.9 158.9,183.4 159.0,182.9 159.0,182.4 159.1,182.0 159.1,181.6 159.1,181.2 159.2,180.9 159.2,180.6 159.2,180.4 159.3,180.2 159.3,180.1 159.3,180.0 159.4,179.9 159.4,179.9 159.5,180.0 159.5,180.1 159.5,180.2 159.6,180.4 159.6,180.6 159.6,180.9 159.7,181.2 159.7,181.5 159.8,181.9 159.8,182.3 159.8,182.8 159.9,183.3 159.9,183.8 159.9,184.3 160.0,184.8 160.0,185.4 160.1,185.9 160.1,186.5 160.1,187.1 160.2,187.7 160.2,188.2 160.2,188.8 160.3,189.3 160.3,189.9 160.3,190.4 160.4,190.9 160.4,191.4 160.5,191.8 160.5,192.2 160.5,192.6 160.6,192.9 160.6,193.2 160.6,193.5 160.7,193.7 160.7,193.8 160.8,194.0 160.8,194.0 160.8,194.0 160.9,194.0 160.9,193.9 160.9,193.8 161.0,193.6 161.0,193.4 161.1,193.1 161.1,192.8 161.1,192.5 161.2,192.1 161.2,191.6 161.2,191.1 161.3,190.6 161.3,190.1 161.3,189.5 161.4,188.9 161.4,188.3 161.5,187.7 161.5,187.0 161.5,186.4 161.6,185.7 161.6,185.0 161.6,184.3 161.7,183.7 161.7,183.0 161.8,182.4 161.8,181.8 161.8,181.2 161.9,180.6 161.9,180.1 161.9,179.6 162.0,179.1 162.0,178.6 162.1,178.2 162.1,177.9 162.1,177.6 162.2,177.3 162.2,177.1 162.2,176.9 162.3,176.8 162.3,176.7 162.3,176.7 162.4,176.8 162.4,176.9 162.5,177.0 162.5,177.2 162.5,177.4 162.6,177.7 162.6,178.0 162.6,178.4 162.7,178.8"/>
<polyline stroke="#ff0000" stroke-width="1.1" points="162.7,178.8 162.7,179.3 162.8,179.8 162.8,180.3 162.8,180.8 162.9,181.4 162.9,182.0 162.9,182.6 163.0,183.2 163.0,183.8 163.1,184.4 163.1,185.0 163.1,185.6 163.2,186.2 163.2,186.8 163.2,187.4 163.3,187.9 163.3,188.4 163.3,188.9 163.4,189.4 163.4,189.8 163.5,190.2 163.5,190.5 163.5,190.8 163.6,191.1 163.6,191.3 163.6,191.4 163.7,191.5 163.7,191.5 163.8,191.5 163.8,191.4 163.8,191.3 163.9,191.1 163.9,190.9 163.9,190.6 164.0,190.3 164.0,189.9 164.1,189.5 164.1,189.0 164.1,188.5 164.2,188.0 164.2,187.4 164.2,186.7 164.3,186.1 164.3,185.4 164.3,184.7 164.4,184.0 164.4,183.3 164.5,182.6 164.5,181.9 164.5,181.2 164.6,180.5 164.6,179.8 164.6,179.1 164.7,178.4 164.7,177.8 164.8,177.2 164.8,176.6 164.8,176.0 164.9,175.5 164.9,175.1 164.9,174.7 165.0,174.3 165.0,174.0 165.1,173.7 165.1,173.5 165.1,173.4 165.2,173.3 165.2,173.3 165.2,173.3 165.3,173.4 165.3,173.5 165.3,173.7 165.4,173.9 165.4,174.2 165.5,174.6 165.5,175.0 165.5,175.4 165.6,175.9 165.6,176.4 165.6,177.0 165.7,177.5 165.7,178.2 165.8,178.8 165.8,179.4 165.8,180.1 165.9,180.8 165.9,181.4 165.9,182.1 166.0,182.8 166.0,183.4 166.0,184.1 166.1,184.7 166.1,185.3 166.2,185.9 166.2,186.4 166.2,186.9 166.3,187.3 166.3,187.7 166.3,188.1 166.4,188.4 166.4,188.6 166.5,188.8 166.5,189.0 166.5,189.1 166.6,189.1 166.6,189.0 166.6,188.9 166.7,188.8 166.7,188.5 166.8,188.2 166.8,187.9 166.8,187.5 166.9,187.1 166.9,186.6 166.9,186.0 167.0,185.4 167.0,184.8 167.0,184.1 167.1,183.4 167.1,182.7 167.2,181.9 167.2,181.1 167.2,180.3 167.3,179.5 167.3,178.7 167.3,177.9 167.4,177.1 167.4,176.3 167.5,175.6 167.5,174.8 167.5,174.1 167.6,173.5 167.6,172.8 167.6,172.2 167.7,171.6 167.7,171.1 167.8,170.7 167.8,170.3 167.8,169.9 167.9,169.7 167.9,169.4 167.9,169.3 168.0,169.2 168.0,169.2 168.0,169.2 168.1,169.3 168.1,169.5 168.2,169.7 168.2,170.0 168.2,170.3 168.3,170.7 168.3,171.2 168.3,171.7 168.4,172.3 168.4,172.9 168.5,173.5 168.5,174.2 168.5,174.9 168.6,175.6 168.6,176.4 168.6,177.1 168.7,177.9 168.7,178.7 168.8,179.4 168.8,180.2 168.8,180.9 168.9,181.7 168.9,182.3 168.9,183.0 169.0,183.6 169.0,184.2 169.0,184.7 169.1,185.2 169.1,185.6 169.2,186.0 169.2,186.3 169.2,186.5 169.3,186.7 169.3,186.8 169.3,186.8 169.4,186.7 169.4,186.6 169.5,186.4 169.5,186.1 169.5,185.8 169.6,185.4 169.6,184.9 169.6,184.3 169.7,183.7 169.7,183.1 169.8,182.4 169.8,181.6 169.8,180.8 169.9,179.9 169.9,179.0 169.9,178.1 170.0,177.2 170.0,176.3 170.0,175.3 170.1,174.4 170.1,173.4 170.2,172.5 170.2,171.6 170.2,170.7 170.3,169.8 170.3,169.0 170.3,168.2 170.4,167.5 170.4,166.8 170.5,166.2 170.5,165.6 170.5,165.1 170.6,164.7 170.6,164.4 170.6,164.1 170.7,163.9 170.7,163.8 170.8,163.8 170.8,163.8 170.8,163.9 170.9,164.2 170.9,164.4 170.9,164.8 171.0,165.2 171.0,165.7 171.0,166.3 171.1,167.0 171.1,167.7 171.2,168.4 171.2,169.2 171.2,170.0 171.3,170.9 171.3,171.8 171.3,172.7 171.4,173.6 171.4,174.5 171.5,175.5 171.5,176.4 171.5,177.3 171.6,178.2 171.6,179.0 171.6,179.8 171.7,180.6 171.7,181.3 171.8,182.0 171.8,182.6 171.8,183.1 171.9,183.6 171.9,184.0 171.9,184.3 172.0,184.5 172.0,184.7 172.0,184.7 172.1,184.7 172.1,184.6 172.2,184.4 172.2,184.1 172.2,183.7 172.3,183.2 172.3,182.7 172.3,182.1 172.4,181.4 172.4,180.6 172.5,179.8 172.5,178.9 172.5,178.0 172.6,177.0 172.6,176.0 172.6,174.9 172.7,173.8 172.7,172.8 172.7,171.7 172.8,170.6 172.8,169.5 172.9,168.4 172.9,167.3 172.9,166.3 173.0,165.4 173.0,164.4 173.0,163.5 173.1,162.7 173.1,162.0 173.2,161.3 173.2,160.7 173.2,160.2 173.3,159.7 173.3,159.4 173.3,159.1 173.4,158.9 173.4,158.9 173.5,158.9 173.5,159.0 173.5,159.2 173.6,159.5 173.6,159.9 173.6,160.4 173.7,161.0 173.7,161.6 173.7,162.3 173.8,163.1 173.8,164.0 173.9,164.9 173.9,165.8 173.9,166.8 174.0,167.8 174.0,168.9 174.0,169.9 174.1,171.0 174.1,172.1 174.2,173.1 174.2,174.2 174.2,175.2 174.3,176.1 174.3,177.1 174.3,177.9 174.4,178.8 174.4,179.5 174.5,180.2 174.5,180.8 174.5,181.3 174.6,181.8 174.6,182.1 174.6,182.4 174.7,182.5 174.7,182.6 174.7,182.5 174.8,182.4 174.8,182.1 174.9,181.8 174.9,181.3 174.9,180.8 175.0,180.1 175.0,179.4 175.0,178.6 175.1,177.7 175.1,176.8 175.2,175.8 175.2,174.7 175.2,173.6 175.3,172.5 175.3,171.3 175.3,170.1 175.4,168.9 175.4,167.6 175.5,166.4 175.5,165.2 175.5,164.0 175.6,162.9 175.6,161.8 175.6,160.7 175.7,159.7 175.7,158.8 175.7,157.9 175.8,157.2 175.8,156.5 175.9,155.9 175.9,155.4 175.9,154.9 176.0,154.6 176.0,154.4 176.0,154.3 176.1,154.3 176.1,154.5 176.2,154.7 176.2,155.0 176.2,155.4 176.3,156.0 176.3,156.6 176.3,157.3 176.4,158.1 176.4,159.0 176.5,159.9 176.5,160.9 176.5,161.9 176.6,163.0 176.6,164.2 176.6,165.3 176.7,166.5 176.7,167.7 176.7,168.9 176.8,170.0 176.8,171.2 176.9,172.3 176.9,173.3 176.9,174.3 177.0,175.3 177.0,176.2 177.0,177.0 177.1,177.7 177.1,178.3 177.2,178.9 177.2,179.3 177.2,179.7 177.3,179.9 177.3,180.0 177.3,180.0 177.4,179.9 177.4,179.6 177.5,179.3 177.5,178.8 177.5,178.3 177.6,177.6 177.6,176.8 177.6,176.0 177.7,175.0 177.7,174.0 177.7,172.9 177.8,171.7 177.8,170.5 177.9,169.2 177.9,167.9 177.9,166.5 178.0,165.2 178.0,163.8 178.0,162.4 178.1,161.1 178.1,159.8 178.2,158.5 178.2,157.2 178.2,156.1 178.3,154.9 178.3,153.9 178.3,152.9 178.4,152.1 178.4,151.3 178.5,150.6 178.5,150.1 178.5,149.6 178.6,149.3 178.6,149.1 178.6,149.0 178.7,149.0 178.7,149.2 178.7,149.5 178.8,149.8 178.8,150.3 178.9,151.0 178.9,151.7 178.9,152.5 179.0,153.4 179.0,154.4 179.0,155.5 179.1,156.6 179.1,157.8 179.2,159.0 179.2,160.3 179.2,161.6 179.3,162.9 179.3,164.3 179.3,165.6 179.4,166.9 179.4,168.1 179.4,169.3 179.5,170.5 179.5,171.6 179.6,172.6 179.6,173.5 179.6,174.4 179.7,175.1 179.7,175.7 179.7,176.3 179.8,176.7 179.8,177.0 179.9,177.1 179.9,177.1 179.9,177.0 180.0,176.8 180.0,176.4 180.0,175.9 180.1,175.3 180.1,174.6 180.2,173.7 180.2,172.8 180.2,171.7 180.3,170.5 180.3,169.3 180.3,168.0 180.4,166.6 180.4,165.2 180.4,163.7 180.5,162.2 180.5,160.7 180.6,159.2 180.6,157.7 180.6,156.2 180.7,154.7 180.7,153.3 180.7,151.9 180.8,150.6 180.8,149.4 180.9,148.3 180.9,147.2 180.9,146.3 181.0,145.5 181.0,144.8 181.0,144.2 181.1,143.8 181.1,143.5 181.2,143.3 181.2,143.3 181.2,143.4 181.3,143.6 181.3,144.0 181.3,144.5 181.4,145.1 181.4,145.9 181.4,146.7 181.5,147.7 181.5,148.8 181.6,149.9 181.6,151.2 181.6,152.5 181.7,153.8 181.7,155.2 181.7,156.6 181.8,158.1 181.8,159.5 181.9,161.0 181.9,162.4 181.9,163.8 182.0,165.1 182.0,166.4 182.0,167.6 182.1,168.7 182.1,169.7 182.2,170.6 182.2,171.4 182.2,172.1 182.3,172.7 182.3,173.1 182.3,173.4 182.4,173.5 182.4,173.5 182.4,173.4 182.5,173.1 182.5,172.7 182.6,172.1 182.6,171.4 182.6,170.6 182.7,169.7 182.7,168.6 182.7,167.4 182.8,166.1 182.8,164.8 182.9,163.3 182.9,161.8 182.9,160.3 183.0,158.7 183.0,157.1 183.0,155.5 183.1,153.8 183.1,152.2 183.2,150.6 183.2,149.1 183.2,147.6 183.3,146.2 183.3,144.8 183.3,143.6 183.4,142.4 183.4,141.4 183.4,140.5 183.5,139.7 183.5,139.0 183.6,138.5 183.6,138.2 183.6,137.9 183.7,137.9 183.7,137.9 183.7,138.1 183.8,138.5 183.8,139.0 183.9,139.6 183.9,140.4 183.9,141.3 184.0,142.3 184.0,143.4 184.0,144.6 184.1,145.8 184.1,147.2 184.2,148.6 184.2,150.0 184.2,151.5 184.3,153.0 184.3,154.5 184.3,156.0 184.4,157.4 184.4,158.8 184.4,160.2 184.5,161.5 184.5,162.7 184.6,163.8 184.6,164.9 184.6,165.8 184.7,166.6 184.7,167.3 184.7,167.8 184.8,168.2 184.8,168.5 184.9,168.6 184.9,168.5 184.9,168.3 185.0,168.0 185.0,167.5 185.0,166.9 185.1,166.1 185.1,165.3 185.2,164.2 185.2,163.1 185.2,161.9 185.3,160.6 185.3,159.1 185.3,157.7 185.4,156.1 185.4,154.5 185.4,152.9 185.5,151.3 185.5,149.7 185.6,148.0 185.6,146.4 185.6,144.9 185.7,143.3 185.7,141.9 185.7,140.5 185.8,139.2 185.8,138.1 185.9,137.0 185.9,136.0 185.9,135.2 186.0,134.5 186.0,133.9 186.0,133.5 186.1,133.3 186.1,133.1 186.1,133.2 186.2,133.4 186.2,133.7 186.3,134.1 186.3,134.7 186.3,135.5 186.4,136.3 186.4,137.3 186.4,138.3 186.5,139.5 186.5,140.7 186.6,142.1 186.6,143.4 186.6,144.8 186.7,146.3 186.7,147.7 186.7,149.2 186.8,150.7 186.8,152.1 186.9,153.5 186.9,154.8 186.9,156.1 187.0,157.3 187.0,158.4 187.0,159.4 187.1,160.2 187.1,161.0 187.1,161.6 187.2,162.1 187.2,162.5 187.3,162.7 187.3,162.7 187.3,162.6 187.4,162.4 187.4,162.0 187.4,161.5 187.5,160.8 187.5,160.0 187.6,159.0 187.6,157.9 187.6,156.7 187.7,155.4 187.7,154.0 187.7,152.6 187.8,151.0 187.8,149.4 187.9,147.8 187.9,146.1 187.9,144.5 188.0,142.8 188.0,141.1 188.0,139.5 188.1,138.0 188.1,136.5 188.1,135.0 188.2,133.7 188.2,132.4 188.3,131.3 188.3,130.3 188.3,129.4 188.4,128.7 188.4,128.1 188.4,127.6 188.5,127.3 188.5,127.2 188.6,127.2 188.6,127.3 188.6,127.6 188.7,128.1 188.7,128.7 188.7,129.4 188.8,130.3 188.8,131.3 188.9,132.3 188.9,133.5 188.9,134.8 189.0,136.1 189.0,137.5 189.0,139.0 189.1,140.4 189.1,141.9 189.1,143.4 189.2,144.9 189.2,146.3 189.3,147.7 189.3,149.0 189.3,150.3 189.4,151.5 189.4,152.6 189.4,153.5 189.5,154.4 189.5,155.1 189.6,155.7 189.6,156.1 189.6,156.4 189.7,156.6 189.7,156.6 189.7,156.4 189.8,156.1 189.8,155.7 189.9,155.1 189.9,154.3 189.9,153.5 190.0,152.5 190.0,151.3 190.0,150.1 190.1,148.8 190.1,147.4 190.1,145.9 190.2,144.4 190.2,142.8 190.3,141.2 190.3,139.6 190.3,138.0 190.4,136.4 190.4,134.8 190.4,133.3 190.5,131.9 190.5,130.5 190.6,129.2 190.6,127.9 190.6,126.8 190.7,125.8 190.7,125.0 190.7,124.2 190.8,123.6 190.8,123.2 190.9,122.9 190.9,122.7 190.9,122.7 191.0,122.8 191.0,123.1 191.0,123.5 191.1,124.1 191.1,124.7 191.1,125.6 191.2,126.5 191.2,127.5 191.3,128.6 191.3,129.8 191.3,131.0 191.4,132.3 191.4,133.7 191.4,135.1 191.5,136.5 191.5,137.8 191.6,139.2 191.6,140.5 191.6,141.8 191.7,143.1 191.7,144.2 191.7,145.3 191.8,146.3 191.8,147.1 191.9,147.9 191.9,148.5 191.9,149.0 192.0,149.4 192.0,149.6 192.0,149.7 192.1,149.6 192.1,149.4 192.1,149.0 192.2,148.5 192.2,147.9 192.3,147.1 192.3,146.2 192.3,145.1 192.4,144.0 192.4,142.8 192.4,141.4 192.5,140.0 192.5,138.5 192.6,137.0 192.6,135.4 192.6,133.8 192.7,132.2 192.7,130.5 192.7,129.0 192.8,127.4 192.8,125.9 192.8,124.4 192.9,123.0 192.9,121.7 193.0,120.5 193.0,119.5 193.0,118.5 193.1,117.6 193.1,116.9 193.1,116.4 193.2,116.0 193.2,115.7 193.3,115.6 193.3,115.6 193.3,115.8 193.4,116.1 193.4,116.6 193.4,117.2 193.5,118.0 193.5,118.9 193.6,119.8 193.6,120.9 193.6,122.1 193.7,123.4 193.7,124.7 193.7,126.1 193.8,127.5 193.8,128.9 193.8,130.3 193.9,131.7 193.9,133.1 194.0,134.5 194.0,135.8 194.0,137.0 194.1,138.1 194.1,139.1 194.1,140.0 194.2,140.8 194.2,141.5 194.3,142.0 194.3,142.3 194.3,142.5 194.4,142.6 194.4,142.5 194.4,142.2 194.5,141.8 194.5,141.2 194.6,140.4 194.6,139.6 194.6,138.5 194.7,137.4 194.7,136.1 194.7,134.7 194.8,133.2 194.8,131.6 194.8,130.0 194.9,128.3 194.9,126.6 195.0,124.8 195.0,123.1 195.0,121.3 195.1,119.6 195.1,118.0 195.1,116.4 195.2,114.9 195.2,113.5 195.3,112.1 195.3,111.0 195.3,109.9 195.4,109.0 195.4,108.2 195.4,107.6 195.5,107.1 195.5,106.9 195.6,106.7 195.6,106.8 195.6,107.0 195.7,107.4 195.7,107.9 195.7,108.6 195.8,109.5 195.8,110.4 195.8,111.5 195.9,112.7 195.9,114.0 196.0,115.4 196.0,116.9 196.0,118.4 196.1,119.9 196.1,121.5 196.1,123.0 196.2,124.6 196.2,126.1 196.3,127.6 196.3,128.9 196.3,130.2 196.4,131.5 196.4,132.5 196.4,133.5 196.5,134.3 196.5,135.0 196.6,135.6 196.6,135.9 196.6,136.1 196.7,136.2 196.7,136.0 196.7,135.7 196.8,135.2 196.8,134.6 196.8,133.8 196.9,132.8 196.9,131.7 197.0,130.5 197.0,129.1 197.0,127.6 197.1,126.0 197.1,124.4 197.1,122.7 197.2,120.9 197.2,119.1 197.3,117.3 197.3,115.6 197.3,113.8 197.4,112.1 197.4,110.4 197.4,108.8 197.5,107.3 197.5,105.9 197.6,104.7 197.6,103.5 197.6,102.5 197.7,101.7 197.7,101.0 197.7,100.5 197.8,100.2 197.8,100.0 197.8,100.0 197.9,100.2 197.9,100.6 198.0,101.1 198.0,101.8 198.0,102.6 198.1,103.6 198.1,104.7 198.1,106.0 198.2,107.3 198.2,108.7 198.3,110.2 198.3,111.8 198.3,113.3 198.4,114.9 198.4,116.6 198.4,118.1 198.5,119.7 198.5,121.2 198.6,122.6 198.6,124.0 198.6,125.2 198.7,126.3 198.7,127.3 198.7,128.1 198.8,128.8 198.8,129.4 198.8,129.7 198.9,129.9 198.9,129.9 199.0,129.8 199.0,129.4 199.0,128.9 199.1,128.2 199.1,127.4 199.1,126.4 199.2,125.2 199.2,123.9 199.3,122.5 199.3,121.0 199.3,119.4 199.4,117.7 199.4,115.9 199.4,114.1 199.5,112.3 199.5,110.5 199.5,108.7 199.6,106.9 199.6,105.2 199.7,103.5 199.7,102.0 199.7,100.5 199.8,99.1 199.8,97.9 199.8,96.8 199.9,95.9 199.9,95.2 200.0,94.6 200.0,94.1 200.0,93.9 200.1,93.8 200.1,93.9 200.1,94.2 200.2,94.7 200.2,95.3 200.3,96.1 200.3,97.0 200.3,98.1 200.4,99.3 200.4,100.6 200.4,102.0 200.5,103.5 200.5,105.0 200.5,106.6 200.6,108.2 200.6,109.8 200.7,111.4 200.7,112.9 200.7,114.4 200.8,115.9 200.8,117.2 200.8,118.5 200.9,119.6 200.9,120.6 201.0,121.4 201.0,122.1 201.0,122.7 201.1,123.0 201.1,123.2 201.1,123.2 201.2,123.0 201.2,122.7 201.3,122.2 201.3,121.5 201.3,120.6 201.4,119.6 201.4,118.4 201.4,117.1 201.5,115.7 201.5,114.2 201.5,112.6 201.6,110.9 201.6,109.1 201.7,107.4 201.7,105.6 201.7,103.8 201.8,102.0 201.8,100.3 201.8,98.6 201.9,97.0 201.9,95.5 202.0,94.1 202.0,92.8 202.0,91.6 202.1,90.6 202.1,89.8 202.1,89.1 202.2,88.6 202.2,88.2 202.3,88.0 202.3,88.0 202.3,88.2 202.4,88.6 202.4,89.1 202.4,89.7 202.5,90.6 202.5,91.5 202.5,92.6 202.6,93.8 202.6,95.1 202.7,96.4 202.7,97.8 202.7,99.3 202.8,100.8 202.8,102.3 202.8,103.8 202.9,105.3 202.9,106.7 203.0,108.1 203.0,109.4 203.0,110.6 203.1,111.7 203.1,112.6 203.1,113.4 203.2,114.1 203.2,114.6 203.3,115.0 203.3,115.2 203.3,115.2 203.4,115.1 203.4,114.8 203.4,114.3 203.5,113.7 203.5,112.9 203.5,111.9 203.6,110.9 203.6,109.7 203.7,108.3 203.7,106.9 203.7,105.4 203.8,103.8 203.8,102.2 203.8,100.5 203.9,98.9 203.9,97.2 204.0,95.5 204.0,93.9 204.0,92.3 204.1,90.8 204.1,89.4 204.1,88.1 204.2,86.9 204.2,85.9 204.3,84.9 204.3,84.1 204.3,83.5 204.4,83.0 204.4,82.7 204.4,82.6 204.5,82.6 204.5,82.8 204.5,83.1 204.6,83.6 204.6,84.3 204.7,85.1 204.7,86.0 204.7,87.0 204.8,88.2 204.8,89.4 204.8,90.7 204.9,92.0 204.9,93.4 205.0,94.8 205.0,96.3 205.0,97.7 205.1,99.1 205.1,100.4 205.1,101.7 205.2,102.8 205.2,103.9 205.3,104.9 205.3,105.8 205.3,106.5 205.4,107.1 205.4,107.6 205.4,107.8 205.5,108.0 205.5,107.9 205.5,107.7 205.6,107.4 205.6,106.9 205.7,106.2 205.7,105.4 205.7,104.4 205.8,103.3 205.8,102.1 205.8,100.8 205.9,99.4 205.9,98.0 206.0,96.4 206.0,94.9 206.0,93.3 206.1,91.7 206.1,90.1 206.1,88.6 206.2,87.0 206.2,85.6 206.2,84.2 206.3,83.0 206.3,81.8 206.4,80.7 206.4,79.8 206.4,79.0 206.5,78.4 206.5,77.9 206.5,77.6 206.6,77.5 206.6,77.5 206.7,77.6 206.7,78.0 206.7,78.4 206.8,79.1 206.8,79.8 206.8,80.7 206.9,81.7 206.9,82.8 207.0,84.0 207.0,85.3 207.0,86.6 207.1,88.0 207.1,89.3 207.1,90.7 207.2,92.1 207.2,93.5 207.2,94.7 207.3,96.0 207.3,97.1 207.4,98.2 207.4,99.1 207.4,100.0 207.5,100.7 207.5,101.2 207.5,101.6 207.6,101.9 207.6,102.0 207.7,101.9 207.7,101.7 207.7,101.3 207.8,100.7 207.8,100.0 207.8,99.2 207.9,98.2 207.9,97.1 208.0,95.9 208.0,94.6 208.0,93.2 208.1,91.8 208.1,90.3 208.1,88.7 208.2,87.2 208.2,85.6 208.2,84.1 208.3,82.6 208.3,81.1 208.4,79.8 208.4,78.5 208.4,77.3 208.5,76.2 208.5,75.3 208.5,74.4 208.6,73.8 208.6,73.2 208.7,72.9 208.7,72.6 208.7,72.6 208.8,72.7 208.8,73.0 208.8,73.4 208.9,73.9 208.9,74.6 209.0,75.5 209.0,76.4 209.0,77.5 209.1,78.6 209.1,79.8 209.1,81.1 209.2,82.4 209.2,83.8 209.2,85.1 209.3,86.5 209.3,87.8 209.4,89.1 209.4,90.3 209.4,91.4 209.5,92.4 209.5,93.4 209.5,94.2 209.6,94.9 209.6,95.4 209.7,95.8 209.7,96.1 209.7,96.2 209.8,96.1 209.8,95.9 209.8,95.5 209.9,95.0 209.9,94.3 210.0,93.4 210.0,92.5 210.0,91.4 210.1,90.2 210.1,88.9 210.1,87.5 210.2,86.1 210.2,84.6 210.2,83.1 210.3,81.6 210.3,80.1 210.4,78.6 210.4,77.1 210.4,75.7 210.5,74.4 210.5,73.1 210.5,72.0 210.6,70.9 210.6,70.0 210.7,69.2 210.7,68.6 210.7,68.1 210.8,67.8 210.8,67.7 210.8,67.7 210.9,67.8 210.9,68.1 211.0,68.6 211.0,69.2 211.0,69.9 211.1,70.8 211.1,71.8 211.1,72.8 211.2,74.0 211.2,75.2 211.2,76.5 211.3,77.8 211.3,79.1 211.4,80.5 211.4,81.8 211.4,83.0 211.5,84.3 211.5,85.4 211.5,86.5 211.6,87.5 211.6,88.3 211.7,89.0 211.7,89.6 211.7,90.1 211.8,90.4 211.8,90.5 211.8,90.5 211.9,90.4 211.9,90.0 212.0,89.5 212.0,88.9 212.0,88.1 212.1,87.2 212.1,86.2 212.1,85.0 212.2,83.8 212.2,82.4 212.2,81.0 212.3,79.6 212.3,78.1 212.4,76.6 212.4,75.1 212.4,73.6 212.5,72.1 212.5,70.7 212.5,69.4 212.6,68.2 212.6,67.0 212.7,66.0 212.7,65.1 212.7,64.3 212.8,63.7 212.8,63.2 212.8,62.9 212.9,62.7 212.9,62.7 212.9,62.9 213.0,63.2 213.0,63.7 213.1,64.3 213.1,65.0 213.1,65.9 213.2,66.9 213.2,68.0 213.2,69.1 213.3,70.3 213.3,71.6 213.4,72.9 213.4,74.3 213.4,75.6 213.5,76.9 213.5,78.2 213.5,79.4 213.6,80.5 213.6,81.5 213.7,82.5 213.7,83.3 213.7,84.0 213.8,84.6 213.8,85.0 213.8,85.2 213.9,85.3 213.9,85.3 213.9,85.1 214.0,84.7 214.0,84.2 214.1,83.5 214.1,82.6 214.1,81.7 214.2,80.6 214.2,79.4 214.2,78.1 214.3,76.8 214.3,75.4 214.4,73.9 214.4,72.4 214.4,70.9 214.5,69.4 214.5,68.0 214.5,66.5 214.6,65.2 214.6,63.9 214.7,62.7 214.7,61.6 214.7,60.7 214.8,59.9 214.8,59.2 214.8,58.7 214.9,58.3 214.9,58.1 214.9,58.1 215.0,58.2 215.0,58.4 215.1,58.9 215.1,59.4 215.1,60.2 215.2,61.0 215.2,62.0 215.2,63.0 215.3,64.2 215.3,65.4 215.4,66.6 215.4,68.0 215.4,69.3 215.5,70.6 215.5,71.9 215.5,73.2 215.6,74.4 215.6,75.5 215.7,76.6 215.7,77.6 215.7,78.4 215.8,79.1 215.8,79.7 215.8,80.1 215.9,80.4 215.9,80.5 215.9,80.4 216.0,80.2 216.0,79.8 216.1,79.3 216.1,78.6 216.1,77.8 216.2,76.8 216.2,75.8 216.2,74.6 216.3,73.3 216.3,72.0 216.4,70.5 216.4,69.1 216.4,67.6 216.5,66.1 216.5,64.7 216.5,63.2 216.6,61.8 216.6,60.5 216.7,59.3 216.7,58.1 216.7,57.1 216.8,56.2 216.8,55.4 216.8,54.8 216.9,54.3 216.9,54.0 216.9,53.9 217.0,53.9 217.0,54.1 217.1,54.4 217.1,54.9 217.1,55.5 217.2,56.2 217.2,57.1 217.2,58.1 217.3,59.2 217.3,60.4 217.4,61.6 217.4,62.9 217.4,64.2 217.5,65.5 217.5,66.8 217.5,68.0 217.6,69.3 217.6,70.4 217.7,71.5 217.7,72.5 217.7,73.4 217.8,74.1 217.8,74.7 217.8,75.2 217.9,75.5 217.9,75.7 217.9,75.7 218.0,75.6 218.0,75.3 218.1,74.8 218.1,74.2 218.1,73.4 218.2,72.5 218.2,71.5 218.2,70.4 218.3,69.2 218.3,67.9 218.4,66.6 218.4,65.2 218.4,63.7 218.5,62.3 218.5,60.9 218.5,59.5 218.6,58.1 218.6,56.8 218.7,55.6 218.7,54.5 218.7,53.5 218.8,52.6 218.8,51.9 218.8,51.3 218.9,50.8 218.9,50.5 218.9,50.3 219.0,50.3 219.0,50.5 219.1,50.8 219.1,51.3 219.1,51.9 219.2,52.6 219.2,53.5 219.2,54.4 219.3,55.5 219.3,56.6 219.4,57.8 219.4,59.0 219.4,60.3 219.5,61.5 219.5,62.8 219.5,64.0 219.6,65.2 219.6,66.3 219.6,67.3 219.7,68.2 219.7,69.1 219.8,69.8 219.8,70.3 219.8,70.8 219.9,71.0 219.9,71.2 219.9,71.2 220.0,71.0 220.0,70.7 220.1,70.2 220.1,69.6 220.1,68.8 220.2,68.0 220.2,67.0 220.2,65.9 220.3,64.7 220.3,63.5 220.4,62.2 220.4,60.9 220.4,59.5 220.5,58.2 220.5,56.8 220.5,55.5 220.6,54.3 220.6,53.1 220.6,52.0 220.7,51.0 220.7,50.1 220.8,49.4 220.8,48.7 220.8,48.2 220.9,47.9 220.9,47.7 220.9,47.6 221.0,47.7 221.0,47.9 221.1,48.3 221.1,48.8 221.1,49.5 221.2,50.2 221.2,51.1 221.2,52.0 221.3,53.1 221.3,54.2 221.4,55.3 221.4,56.5 221.4,57.7 221.5,58.9 221.5,60.0 221.5,61.1 221.6,62.2 221.6,63.2 221.6,64.1 221.7,64.9 221.7,65.6 221.8,66.2 221.8,66.6 221.8,66.9 221.9,67.1 221.9,67.1 221.9,66.9 222.0,66.7 222.0,66.3 222.1,65.7 222.1,65.0 222.1,64.2 222.2,63.3 222.2,62.3 222.2,61.2 222.3,60.1 222.3,58.9 222.4,57.6 222.4,56.4 222.4,55.1 222.5,53.9 222.5,52.6 222.5,51.5 222.6,50.4 222.6,49.3 222.6,48.4 222.7,47.6 222.7,46.8 222.8,46.2 222.8,45.8 222.8,45.5 222.9,45.3 222.9,45.2 222.9,45.3 223.0,45.6 223.0,45.9 223.1,46.4 223.1,47.1 223.1,47.8 223.2,48.6 223.2,49.6 223.2,50.5 223.3,51.6 223.3,52.7 223.4,53.8 223.4,54.9 223.4,56.1 223.5,57.2 223.5,58.2 223.5,59.2 223.6,60.2 223.6,61.0 223.6,61.7 223.7,62.4 223.7,62.9 223.8,63.3 223.8,63.5 223.8,63.7 223.9,63.6 223.9,63.5 223.9,63.2 224.0,62.7 224.0,62.2 224.1,61.5 224.1,60.7 224.1,59.8 224.2,58.8 224.2,57.7 224.2,56.6 224.3,55.4 224.3,54.2 224.4,53.0 224.4,51.8 224.4,50.6 224.5,49.5 224.5,48.4 224.5,47.4 224.6,46.4 224.6,45.6 224.6,44.9 224.7,44.2 224.7,43.7 224.8,43.4 224.8,43.1 224.8,43.0 224.9,43.1 224.9,43.3 224.9,43.6 225.0,44.0 225.0,44.6 225.1,45.3 225.1,46.1 225.1,46.9 225.2,47.9 225.2,48.9 225.2,49.9 225.3,51.0 225.3,52.1 225.4,53.2 225.4,54.3 225.4,55.3 225.5,56.3 225.5,57.2 225.5,58.0 225.6,58.8 225.6,59.4 225.6,59.9 225.7,60.3 225.7,60.6 225.8,60.7 225.8,60.7 225.8,60.6 225.9,60.3 225.9,59.9 225.9,59.3 226.0,58.7 226.0,57.9 226.1,57.1 226.1,56.1 226.1,55.1 226.2,54.0 226.2,52.9 226.2,51.7 226.3,50.6 226.3,49.4 226.3,48.3 226.4,47.2 226.4,46.1 226.5,45.2 226.5,44.3 226.5,43.4 226.6,42.7 226.6,42.2 226.6,41.7 226.7,41.4 226.7,41.2 226.8,41.1 226.8,41.2 226.8,41.4 226.9,41.7 226.9,42.2 226.9,42.8 227.0,43.4 227.0,44.2 227.1,45.1 227.1,46.0 227.1,47.0 227.2,48.0 227.2,49.1 227.2,50.1 227.3,51.2 227.3,52.2 227.3,53.2 227.4,54.2 227.4,55.0 227.5,55.8 227.5,56.5 227.5,57.1 227.6,57.5 227.6,57.9 227.6,58.1 227.7,58.2 227.7,58.1 227.8,57.9 227.8,57.6 227.8,57.2 227.9,56.6 227.9,55.9 227.9,55.1 228.0,54.3 228.0,53.3 228.1,52.3 228.1,51.2 228.1,50.1 228.2,49.0 228.2,47.9 228.2,46.8 228.3,45.7 228.3,44.6 228.3,43.7 228.4,42.8 228.4,42.0 228.5,41.2 228.5,40.6 228.5,40.2 228.6,39.8 228.6,39.6 228.6,39.5 228.7,39.5 228.7,39.7 228.8,39.9 228.8,40.4 228.8,40.9 228.9,41.5 228.9,42.3 228.9,43.1 229.0,44.0 229.0,45.0 229.1,46.0 229.1,47.0 229.1,48.0 229.2,49.1 229.2,50.1 229.2,51.1 229.3,52.0 229.3,52.9 229.3,53.6 229.4,54.3 229.4,54.9 229.5,55.4 229.5,55.7 229.5,55.9 229.6,56.0 229.6,56.0 229.6,55.8 229.7,55.5 229.7,55.1 229.8,54.6 229.8,53.9 229.8,53.1 229.9,52.3 229.9,51.4 229.9,50.4 230.0,49.4 230.0,48.3 230.1,47.2 230.1,46.1 230.1,45.0 230.2,44.0 230.2,43.0 230.2,42.0 230.3,41.2 230.3,40.4 230.3,39.7 230.4,39.2 230.4,38.7 230.5,38.4 230.5,38.2 230.5,38.1 230.6,38.2 230.6,38.4 230.6,38.7 230.7,39.1 230.7,39.7 230.8,40.3 230.8,41.1 230.8,41.9 230.9,42.8 230.9,43.8 230.9,44.8 231.0,45.8 231.0,46.8 231.1,47.8 231.1,48.8 231.1,49.7 231.2,50.6 231.2,51.4 231.2,52.2 231.3,52.8 231.3,53.3 231.3,53.7 231.4,54.0 231.4,54.2 231.5,54.2 231.5,54.1 231.5,53.9 231.6,53.6 231.6,53.1 231.6,52.5 231.7,51.9 231.7,51.1 231.8,50.2 231.8,49.3 231.8,48.3 231.9,47.3 231.9,46.3 231.9,45.2 232.0,44.2 232.0,43.1 232.1,42.1 232.1,41.2 232.1,40.4 232.2,39.6 232.2,38.9 232.2,38.3 232.3,37.8 232.3,37.5 232.3,37.3 232.4,37.2 232.4,37.2 232.5,37.4 232.5,37.6 232.5,38.0 232.6,38.5 232.6,39.2 232.6,39.9 232.7,40.7 232.7,41.5 232.8,42.4 232.8,43.4 232.8,44.4 232.9,45.3 232.9,46.3 232.9,47.3 233.0,48.2 233.0,49.1 233.0,49.9 233.1,50.6 233.1,51.2 233.2,51.7 233.2,52.1 233.2,52.4 233.3,52.6 233.3,52.7 233.3,52.6 233.4,52.4 233.4,52.1 233.5,51.6 233.5,51.1 233.5,50.4 233.6,49.7 233.6,48.9 233.6,48.0 233.7,47.0 233.7,46.1 233.8,45.1 233.8,44.1 233.8,43.1 233.9,42.1 233.9,41.2 233.9,40.3 234.0,39.5 234.0,38.7 234.0,38.1 234.1,37.5 234.1,37.1 234.2,36.8 234.2,36.6 234.2,36.5 234.3,36.6 234.3,36.7 234.3,37.0 234.4,37.4 234.4,38.0 234.5,38.6 234.5,39.3 234.5,40.0 234.6,40.9 234.6,41.7 234.6,42.7 234.7,43.6 234.7,44.5 234.8,45.5 234.8,46.4 234.8,47.2 234.9,48.0 234.9,48.8 234.9,49.4 235.0,50.0 235.0,50.5 235.0,50.8 235.1,51.1 235.1,51.2 235.2,51.2 235.2,51.1 235.2,50.8 235.3,50.5 235.3,50.0 235.3,49.4 235.4,48.8 235.4,48.0 235.5,47.2 235.5,46.4 235.5,45.4 235.6,44.5 235.6,43.5 235.6,42.6 235.7,41.6 235.7,40.7 235.8,39.9 235.8,39.1 235.8,38.3 235.9,37.7 235.9,37.1 235.9,36.7 236.0,36.3 236.0,36.1 236.0,36.0 236.1,36.0 236.1,36.1 236.2,36.3 236.2,36.7 236.2,37.1 236.3,37.7 236.3,38.3 236.3,39.0 236.4,39.8 236.4,40.7 236.5,41.5 236.5,42.4 236.5,43.3 236.6,44.2 236.6,45.1 236.6,45.9 236.7,46.7 236.7,47.4 236.8,48.0 236.8,48.6 236.8,49.0 236.9,49.4 236.9,49.6 236.9,49.8 237.0,49.8 237.0,49.7 237.0,49.5 237.1,49.1 237.1,48.7 237.2,48.2 237.2,47.6 237.2,46.9 237.3,46.1 237.3,45.3 237.3,44.4 237.4,43.5 237.4,42.6 237.5,41.7 237.5,40.8 237.5,40.0 237.6,39.1 237.6,38.4 237.6,37.7 237.7,37.1 237.7,36.6 237.8,36.1 237.8,35.8 237.8,35.6 237.9,35.5 237.9,35.5 237.9,35.6 238.0,35.9 238.0,36.2 238.0,36.7 238.1,37.2 238.1,37.8 238.2,38.5 238.2,39.2 238.2,40.0 238.3,40.8 238.3,41.6 238.3,42.5 238.4,43.3 238.4,44.1 238.5,44.9 238.5,45.6 238.5,46.3 238.6,46.8 238.6,47.3 238.6,47.7 238.7,48.0 238.7,48.2 238.8,48.3 238.8,48.3 238.8,48.2 238.9,47.9 238.9,47.6 238.9,47.2 239.0,46.6 239.0,46.0 239.0,45.4 239.1,44.6 239.1,43.8 239.2,43.0 239.2,42.2 239.2,41.3 239.3,40.5 239.3,39.7 239.3,38.9 239.4,38.1 239.4,37.5 239.5,36.8 239.5,36.3 239.5,35.9 239.6,35.5 239.6,35.3 239.6,35.1 239.7,35.1 239.7,35.2 239.7,35.3 239.8,35.6 239.8,36.0 239.9,36.4 239.9,37.0 239.9,37.6 240.0,38.2 240.0,38.9 240.0,39.7 240.1,40.5 240.1,41.2 240.2,42.0 240.2,42.8 240.2,43.5 240.3,44.2 240.3,44.8 240.3,45.3 240.4,45.8 240.4,46.2 240.5,46.5 240.5,46.7 240.5,46.9 240.6,46.9 240.6,46.8 240.6,46.6 240.7,46.3 240.7,45.9 240.7,45.4 240.8,44.9 240.8,44.3 240.9,43.6 240.9,42.9 240.9,42.1 241.0,41.4 241.0,40.6 241.0,39.8 241.1,39.0 241.1,38.3 241.2,37.6 241.2,37.0 241.2,36.4 241.3,35.9 241.3,35.5 241.3,35.2 241.4,34.9 241.4,34.8 241.5,34.8 241.5,34.8 241.5,35.0 241.6,35.2 241.6,35.5 241.6,36.0 241.7,36.5 241.7,37.0 241.7,37.6 241.8,38.3 241.8,39.0 241.9,39.7 241.9,40.4 241.9,41.1 242.0,41.8 242.0,42.4 242.0,43.1 242.1,43.6 242.1,44.1 242.2,44.6 242.2,44.9 242.2,45.2 242.3,45.4 242.3,45.5 242.3,45.5 242.4,45.4 242.4,45.2 242.5,44.9 242.5,44.5 242.5,44.1 242.6,43.6 242.6,43.0 242.6,42.4 242.7,41.7 242.7,41.0 242.7,40.3 242.8,39.6 242.8,38.9 242.9,38.2 242.9,37.5 242.9,36.9 243.0,36.3 243.0,35.8 243.0,35.4 243.1,35.1 243.1,34.8 243.2,34.6 243.2,34.5 243.2,34.5 243.3,34.6 243.3,34.8 243.3,35.0 243.4,35.4 243.4,35.8 243.5,36.2 243.5,36.8 243.5,37.3 243.6,38.0 243.6,38.6 243.6,39.2 243.7,39.9 243.7,40.5 243.7,41.2 243.8,41.7 243.8,42.3 243.9,42.8 243.9,43.2 243.9,43.6 244.0,43.8 244.0,44.0 244.0,44.2 244.1,44.2 244.1,44.1 244.2,44.0 244.2,43.8 244.2,43.5 244.3,43.1 244.3,42.7 244.3,42.2 244.4,41.6 244.4,41.0 244.5,40.4 244.5,39.8 244.5,39.1 244.6,38.5 244.6,37.8 244.6,37.2 244.7,36.6 244.7,36.1 244.7,35.6 244.8,35.2 244.8,34.9 244.9,34.6 244.9,34.4 244.9,34.3 245.0,34.3 245.0,34.4 245.0,34.5 245.1,34.7 245.1,35.0 245.2,35.4 245.2,35.8 245.2,36.3 245.3,36.8 245.3,37.4 245.3,37.9 245.4,38.5 245.4,39.1 245.5,39.7 245.5,40.3 245.5,40.8 245.6,41.3 245.6,41.8 245.6,42.2 245.7,42.5 245.7,42.8 245.7,43.0 245.8,43.1 245.8,43.1 245.9,43.1 245.9,43.0 245.9,42.8 246.0,42.5 246.0,42.1 246.0,41.7 246.1,41.3 246.1,40.8 246.2,40.2 246.2,39.7 246.2,39.1 246.3,38.5 246.3,37.9 246.3,37.3 246.4,36.8 246.4,36.3 246.4,35.8 246.5,35.4 246.5,35.0 246.6,34.7 246.6,34.5 246.6,34.3 246.7,34.2 246.7,34.2 246.7,34.3 246.8,34.4 246.8,34.6 246.9,34.9 246.9,35.2 246.9,35.6 247.0,36.1 247.0,36.6 247.0,37.1 247.1,37.6 247.1,38.2 247.2,38.7 247.2,39.3 247.2,39.8 247.3,40.3 247.3,40.7 247.3,41.1 247.4,41.5 247.4,41.8 247.4,42.0 247.5,42.2 247.5,42.2 247.6,42.3 247.6,42.2 247.6,42.1 247.7,41.8 247.7,41.6 247.7,41.2 247.8,40.8 247.8,40.4 247.9,39.9 247.9,39.4 247.9,38.9 248.0,38.3 248.0,37.8 248.0,37.2 248.1,36.7 248.1,36.2 248.2,35.8 248.2,35.3 248.2,35.0 248.3,34.7 248.3,34.4 248.3,34.2 248.4,34.1 248.4,34.1 248.4,34.1 248.5,34.2 248.5,34.4 248.6,34.6 248.6,34.9 248.6,35.3 248.7,35.7 248.7,36.1 248.7,36.6 248.8,37.1 248.8,37.6 248.9,38.1 248.9,38.6 248.9,39.1 249.0,39.5 249.0,40.0 249.0,40.4 249.1,40.7 249.1,41.0 249.2,41.2 249.2,41.4 249.2,41.5 249.3,41.5 249.3,41.5 249.3,41.3 249.4,41.2 249.4,40.9 249.4,40.6 249.5,40.3 249.5,39.9 249.6,39.5 249.6,39.0 249.6,38.5 249.7,38.0 249.7,37.5 249.7,37.0 249.8,36.5 249.8,36.0 249.9,35.6 249.9,35.2 249.9,34.8 250.0,34.6 250.0,34.3 250.0,34.1 250.1,34.0 250.1,34.0 250.2,34.0 250.2,34.1 250.2,34.3 250.3,34.5 250.3,34.7 250.3,35.1 250.4,35.4 250.4,35.8 250.4,36.3 250.5,36.7 250.5,37.2 250.6,37.7 250.6,38.1 250.6,38.6 250.7,39.0 250.7,39.4 250.7,39.8 250.8,40.1 250.8,40.4 250.9,40.6 250.9,40.7 250.9,40.8 251.0,40.8 251.0,40.8 251.0,40.7 251.1,40.5 251.1,40.3 251.2,40.0 251.2,39.7 251.2,39.3 251.3,38.9 251.3,38.4 251.3,38.0 251.4,37.5 251.4,37.0 251.4,36.6 251.5,36.1 251.5,35.7 251.6,35.3 251.6,34.9 251.6,34.6 251.7,34.4 251.7,34.2 251.7,34.0 251.8,33.9 251.8,33.9 251.9,34.0 251.9,34.1 251.9,34.2 252.0,34.4 252.0,34.7 252.0,35.0 252.1,35.4 252.1,35.8 252.2,36.2 252.2,36.6 252.2,37.0 252.3,37.5 252.3,37.9 252.3,38.3 252.4,38.7 252.4,39.1 252.4,39.4 252.5,39.7 252.5,39.9 252.6,40.1 252.6,40.2 252.6,40.2 252.7,40.2 252.7,40.1 252.7,40.0 252.8,39.8 252.8,39.6 252.9,39.3 252.9,39.0 252.9,38.6 253.0,38.2 253.0,37.8 253.0,37.4 253.1,36.9 253.1,36.5 253.1,36.1 253.2,35.7 253.2,35.3 253.3,34.9 253.3,34.6 253.3,34.4 253.4,34.2 253.4,34.0 253.4,33.9 253.5,33.9 253.5,33.9 253.6,34.0 253.6,34.1 253.6,34.3 253.7,34.5 253.7,34.8 253.7,35.1 253.8,35.5 253.8,35.8 253.9,36.2 253.9,36.6 253.9,37.0 254.0,37.4 254.0,37.8 254.0,38.2 254.1,38.5 254.1,38.8 254.1,39.1 254.2,39.3 254.2,39.5 254.3,39.6 254.3,39.7 254.3,39.7 254.4,39.6 254.4,39.5 254.4,39.3 254.5,39.1 254.5,38.9 254.6,38.6 254.6,38.2 254.6,37.9 254.7,37.5 254.7,37.1 254.7,36.7 254.8,36.3 254.8,35.9 254.9,35.5 254.9,35.2 254.9,34.8 255.0,34.6 255.0,34.3 255.0,34.1 255.1,34.0 255.1,33.9 255.1,33.9 255.2,33.9 255.2,33.9 255.3,34.1 255.3,34.2 255.3,34.5 255.4,34.7 255.4,35.0 255.4,35.3 255.5,35.7 255.5,36.0 255.6,36.4 255.6,36.8 255.6,37.2 255.7,37.5 255.7,37.9 255.7,38.2 255.8,38.4 255.8,38.7 255.9,38.9 255.9,39.0 255.9,39.1 256.0,39.2 256.0,39.2 256.0,39.1 256.1,39.0 256.1,38.8 256.1,38.6 256.2,38.4 256.2,38.1 256.3,37.8 256.3,37.5 256.3,37.1 256.4,36.7 256.4,36.4 256.4,36.0 256.5,35.7 256.5,35.3 256.6,35.0 256.6,34.7 256.6,34.5 256.7,34.3 256.7,34.1 256.7,34.0 256.8,33.9 256.8,33.9 256.9,34.0 256.9,34.0 256.9,34.2 257.0,34.3 257.0,34.6 257.0,34.8 257.1,35.1 257.1,35.4 257.1,35.7 257.2,36.1 257.2,36.4 257.3,36.7 257.3,37.1 257.3,37.4 257.4,37.7 257.4,38.0 257.4,38.2 257.5,38.4 257.5,38.5 257.6,38.7 257.6,38.7 257.6,38.7 257.7,38.7 257.7,38.6 257.7,38.5 257.8,38.3 257.8,38.1 257.9,37.9 257.9,37.6 257.9,37.3 258.0,37.0 258.0,36.7 258.0,36.4 258.1,36.0 258.1,35.7 258.1,35.4 258.2,35.1 258.2,34.9 258.3,34.6 258.3,34.4 258.3,34.3 258.4,34.2 258.4,34.1 258.4,34.1 258.5,34.1 258.5,34.1 258.6,34.2 258.6,34.4 258.6,34.6 258.7,34.8 258.7,35.0 258.7,35.3 258.8,35.6 258.8,35.9 258.9,36.2 258.9,36.5 258.9,36.8 259.0,37.1 259.0,37.4 259.0,37.6 259.1,37.8 259.1,38.0 259.1,38.1 259.2,38.3 259.2,38.3 259.3,38.3 259.3,38.3 259.3,38.3 259.4,38.2 259.4,38.0 259.4,37.8 259.5,37.6 259.5,37.4 259.6,37.1 259.6,36.8 259.6,36.6 259.7,36.3 259.7,36.0 259.7,35.7 259.8,35.4 259.8,35.2 259.9,34.9 259.9,34.7 259.9,34.5 260.0,34.4 260.0,34.3 260.0,34.2 260.1,34.2 260.1,34.2 260.1,34.3 260.2,34.4 260.2,34.5 260.3,34.7 260.3,34.8 260.3,35.1 260.4,35.3 260.4,35.6 260.4,35.8 260.5,36.1 260.5,36.4 260.6,36.6 260.6,36.9 260.6,37.1 260.7,37.3 260.7,37.5 260.7,37.7 260.8,37.8 260.8,37.9 260.8,37.9 260.9,37.9 260.9,37.9 261.0,37.8 261.0,37.7 261.0,37.6 261.1,37.4 261.1,37.3 261.1,37.0 261.2,36.8 261.2,36.6 261.3,36.3 261.3,36.0 261.3,35.8 261.4,35.5 261.4,35.3 261.4,35.1 261.5,34.9 261.5,34.7 261.6,34.6 261.6,34.4 261.6,34.4 261.7,34.3 261.7,34.3 261.7,34.3 261.8,34.4 261.8,34.5 261.8,34.6 261.9,34.7 261.9,34.9 262.0,35.1 262.0,35.3 262.0,35.5 262.1,35.8 262.1,36.0 262.1,36.2 262.2,36.4 262.2,36.6 262.3,36.8 262.3,37.0 262.3,37.1 262.4,37.3 262.4,37.3 262.4,37.4 262.5,37.4 262.5,37.4 262.6,37.4 262.6,37.3 262.6,37.2 262.7,37.1 262.7,36.9 262.7,36.7 262.8,36.5 262.8,36.3 262.8,36.1 262.9,35.9 262.9,35.7 263.0,35.5 263.0,35.3 263.0,35.1 263.1,34.9 263.1,34.7 263.1,34.6 263.2,34.5 263.2,34.4 263.3,34.4 263.3,34.3 263.3,34.4 263.4,34.4 263.4,34.5 263.4,34.5 263.5,34.7 263.5,34.8 263.6,35.0 263.6,35.1 263.6,35.3 263.7,35.5 263.7,35.7 263.7,35.8 263.8,36.0 263.8,36.2 263.8,36.4 263.9,36.5 263.9,36.6 264.0,36.7 264.0,36.8 264.0,36.8 264.1,36.9 264.1,36.9 264.1,36.8 264.2,36.8 264.2,36.7 264.3,36.6 264.3,36.5 264.3,36.3 264.4,36.2 264.4,36.0 264.4,35.8 264.5,35.7 264.5,35.5 264.6,35.3 264.6,35.1 264.6,35.0 264.7,34.9 264.7,34.7 264.7,34.6 264.8,34.5 264.8,34.5 264.8,34.4 264.9,34.4 264.9,34.4 265.0,34.4 265.0,34.5 265.0,34.6 265.1,34.7 265.1,34.8 265.1,34.9 265.2,35.0 265.2,35.2 265.3,35.3 265.3,35.5 265.3,35.7 265.4,35.8 265.4,36.0 265.4,36.1 265.5,36.2 265.5,36.3 265.6,36.4 265.6,36.5 265.6,36.5 265.7,36.5 265.7,36.5 265.7,36.5 265.8,36.5 265.8,36.4 265.8,36.3 265.9,36.2 265.9,36.1 266.0,36.0 266.0,35.9 266.0,35.7 266.1,35.6 266.1,35.4 266.1,35.3 266.2,35.1 266.2,35.0 266.3,34.9 266.3,34.8 266.3,34.7 266.4,34.6 266.4,34.6 266.4,34.6 266.5,34.6 266.5,34.6 266.6,34.6 266.6,34.7 266.6,34.8 266.7,34.9 266.7,35.0 266.7,35.1 266.8,35.3 266.8,35.4 266.8,35.5 266.9,35.7 266.9,35.8 267.0,36.0 267.0,36.1 267.0,36.2 267.1,36.3 267.1,36.4 267.1,36.5 267.2,36.5 267.2,36.6 267.3,36.6 267.3,36.6 267.3,36.6 267.4,36.5 267.4,36.5 267.4,36.4 267.5,36.3 267.5,36.3 267.5,36.2 267.6,36.1 267.6,36.0 267.7,35.9 267.7,35.8 267.7,35.7 267.8,35.7 267.8,35.6 267.8,35.6 267.9,35.5 267.9,35.5 268.0,35.5 268.0,35.5 268.0,35.5 268.1,35.5 268.1,35.6 268.1,35.6 268.2,35.7 268.2,35.7 268.3,35.8 268.3,35.9 268.3,36.0 268.4,36.1 268.4,36.2 268.4,36.2 268.5,36.3 268.5,36.4 268.5,36.5 268.6,36.5 268.6,36.6 268.7,36.6 268.7,36.7 268.7,36.7 268.8,36.7 268.8,36.7 268.8,36.8 268.9,36.7 268.9,36.7 269.0,36.7 269.0,36.7 269.0,36.7 269.1,36.7 269.1,36.7 269.1,36.6 269.2,36.6 269.2,36.6 269.3,36.6 269.3,36.6 269.3,36.6 269.4,36.6 269.4,36.6 269.4,36.6 269.5,36.6 269.5,36.6 269.5,36.6 269.6,36.7 269.6,36.7 269.7,36.7 269.7,36.7 269.7,36.8 269.8,36.8 269.8,36.8 269.8,36.8 269.9,36.9 269.9,36.9 270.0,36.9 270.0,36.9 270.0,36.9 270.1,37.0 270.1,37.0"/>
<polyline stroke="#ff0000" stroke-width="1.9" points="270.1,37.0 270.2,37.0 270.2,37.0 270.3,37.0 270.3,37.1 270.3,37.1 270.4,37.1 270.4,37.1 270.4,37.1 270.5,37.2 270.5,37.2 270.5,37.2 270.6,37.2 270.6,37.2 270.7,37.2 270.7,37.3 270.7,37.3 270.8,37.3 270.8,37.3 270.8,37.3 270.9,37.3 270.9,37.4 271.0,37.4 271.0,37.4 271.0,37.4 271.1,37.4 271.1,37.5 271.1,37.5 271.2,37.5 271.2,37.5 271.3,37.5 271.3,37.5 271.3,37.6 271.4,37.6 271.4,37.6 271.4,37.6 271.5,37.6 271.5,37.6 271.5,37.7 271.6,37.7 271.6,37.7 271.7,37.7 271.7,37.7 271.7,37.8 271.8,37.8 271.8,37.8 271.8,37.8 271.9,37.8 271.9,37.8 272.0,37.9 272.0,37.9 272.0,37.9 272.1,37.9 272.1,37.9 272.1,37.9 272.2,38.0 272.2,38.0 272.3,38.0 272.3,38.0 272.3,38.0 272.4,38.1 272.4,38.1 272.4,38.1 272.5,38.1 272.5,38.1 272.5,38.1 272.6,38.2 272.6,38.2 272.7,38.2 272.7,38.2 272.7,38.2 272.8,38.3 272.8,38.3 272.8,38.3 272.9,38.3 272.9,38.3 273.0,38.3 273.0,38.4 273.0,38.4 273.1,38.4 273.1,38.4 273.1,38.4 273.2,38.5 273.2,38.5 273.3,38.5 273.3,38.5 273.3,38.5 273.4,38.5 273.4,38.6 273.4,38.6 273.5,38.6 273.5,38.6 273.5,38.6 273.6,38.7 273.6,38.7 273.7,38.7 273.7,38.7 273.7,38.7 273.8,38.7 273.8,38.8 273.8,38.8 273.9,38.8 273.9,38.8 274.0,38.8 274.0,38.9 274.0,38.9 274.1,38.9 274.1,38.9 274.1,38.9 274.2,38.9 274.2,39.0 274.2,39.0 274.3,39.0 274.3,39.0 274.4,39.0 274.4,39.1 274.4,39.1 274.5,39.1 274.5,39.1 274.5,39.1 274.6,39.1 274.6,39.2 274.7,39.2 274.7,39.2 274.7,39.2 274.8,39.2 274.8,39.3 274.8,39.3 274.9,39.3 274.9,39.3 275.0,39.3 275.0,39.4 275.0,39.4 275.1,39.4 275.1,39.4 275.1,39.4 275.2,39.4 275.2,39.5 275.2,39.5 275.3,39.5 275.3,39.5 275.4,39.5 275.4,39.6 275.4,39.6 275.5,39.6 275.5,39.6 275.5,39.6 275.6,39.6 275.6,39.7 275.7,39.7 275.7,39.7 275.7,39.7 275.8,39.7 275.8,39.8 275.8,39.8 275.9,39.8 275.9,39.8 276.0,39.8 276.0,39.8 276.0,39.9 276.1,39.9 276.1,39.9 276.1,39.9 276.2,39.9 276.2,40.0 276.2,40.0 276.3,40.0 276.3,40.0 276.4,40.0 276.4,40.0 276.4,40.1 276.5,40.1 276.5,40.1 276.5,40.1 276.6,40.1 276.6,40.2 276.7,40.2 276.7,40.2 276.7,40.2 276.8,40.2 276.8,40.2 276.8,40.3 276.9,40.3 276.9,40.3 277.0,40.3 277.0,40.3 277.0,40.4 277.1,40.4 277.1,40.4 277.1,40.4 277.2,40.4 277.2,40.4 277.2,40.5 277.3,40.5 277.3,40.5 277.4,40.5 277.4,40.5 277.4,40.6 277.5,40.6 277.5,40.6 277.5,40.6 277.6,40.6 277.6,40.6 277.7,40.6 277.7,40.6 277.7,40.6 277.8,40.6 277.8,40.6 277.8,40.6 277.9,40.6 277.9,40.6 278.0,40.6 278.0,40.6 278.0,40.6 278.1,40.6 278.1,40.6 278.1,40.6 278.2,40.6 278.2,40.6 278.2,40.6 278.3,40.6 278.3,40.6 278.4,40.6 278.4,40.6 278.4,40.6 278.5,40.6 278.5,40.6 278.5,40.6 278.6,40.6 278.6,40.6 278.7,40.6 278.7,40.6 278.7,40.6 278.8,40.6 278.8,40.6 278.8,40.6 278.9,40.6 278.9,40.6 279.0,40.6 279.0,40.6 279.0,40.6 279.1,40.6 279.1,40.6 279.1,40.6 279.2,40.6 279.2,40.6 279.2,40.6 279.3,40.6 279.3,40.6 279.4,40.6 279.4,40.6 279.4,40.6 279.5,40.6 279.5,40.6 279.5,40.6 279.6,40.6 279.6,40.6 279.7,40.6 279.7,40.6 279.7,40.6 279.8,40.6 279.8,40.6 279.8,40.6 279.9,40.6 279.9,40.6 280.0,40.6 280.0,40.6 280.0,40.6 280.1,40.6 280.1,40.6 280.1,40.6 280.2,40.6 280.2,40.6 280.2,40.6 280.3,40.6 280.3,40.6 280.4,40.6 280.4,40.6 280.4,40.6 280.5,40.6 280.5,40.6 280.5,40.6 280.6,40.6 280.6,40.6 280.7,40.6 280.7,40.6 280.7,40.6 280.8,40.6 280.8,40.6 280.8,40.6 280.9,40.6 280.9,40.6 280.9,40.6 281.0,40.6 281.0,40.6 281.1,40.6 281.1,40.6 281.1,40.6 281.2,40.6 281.2,40.6 281.2,40.6 281.3,40.6 281.3,40.6 281.4,40.6 281.4,40.6 281.4,40.6 281.5,40.6 281.5,40.6 281.5,40.6 281.6,40.6 281.6,40.6 281.7,40.6 281.7,40.6 281.7,40.6 281.8,40.6 281.8,40.6 281.8,40.6 281.9,40.6 281.9,40.6 281.9,40.6 282.0,40.6 282.0,40.6 282.1,40.6 282.1,40.6 282.1,40.6 282.2,40.6 282.2,40.6 282.2,40.6 282.3,40.6 282.3,40.6 282.4,40.6 282.4,40.6 282.4,40.6 282.5,40.6 282.5,40.6 282.5,40.6 282.6,40.6 282.6,40.6 282.7,40.6 282.7,40.6 282.7,40.6 282.8,40.6 282.8,40.6 282.8,40.6 282.9,40.6 282.9,40.6 282.9,40.6 283.0,40.6 283.0,40.6 283.1,40.6 283.1,40.6 283.1,40.6 283.2,40.6 283.2,40.6 283.2,40.6 283.3,40.6 283.3,40.6 283.4,40.6 283.4,40.6 283.4,40.6 283.5,40.6 283.5,40.6 283.5,40.6 283.6,40.6 283.6,40.6 283.7,40.6 283.7,40.6 283.7,40.6 283.8,40.6 283.8,40.6 283.8,40.6 283.9,40.6 283.9,40.6 283.9,40.6 284.0,40.6 284.0,40.6 284.1,40.6 284.1,40.6 284.1,40.6 284.2,40.6 284.2,40.6 284.2,40.6 284.3,40.6 284.3,40.7 284.4,40.7 284.4,40.8 284.4,40.8 284.5,40.9 284.5,40.9 284.5,41.0 284.6,41.0 284.6,41.0 284.7,41.1 284.7,41.1 284.7,41.2 284.8,41.2 284.8,41.3 284.8,41.3 284.9,41.3 284.9,41.4 284.9,41.4 285.0,41.5 285.0,41.5 285.1,41.6 285.1,41.6 285.1,41.7 285.2,41.7 285.2,41.7 285.2,41.8 285.3,41.8 285.3,41.9 285.4,41.9 285.4,42.0 285.4,42.0 285.5,42.0 285.5,42.1 285.5,42.1 285.6,42.2 285.6,42.2 285.7,42.3 285.7,42.3 285.7,42.4 285.8,42.4 285.8,42.4 285.8,42.5 285.9,42.5 285.9,42.6 285.9,42.6 286.0,42.7 286.0,42.7 286.1,42.7 286.1,42.8 286.1,42.8 286.2,42.8 286.2,42.8 286.2,42.8 286.3,42.8 286.3,42.8 286.4,42.8 286.4,42.8 286.4,42.9 286.5,42.9 286.5,42.9 286.5,42.9 286.6,42.9 286.6,42.9 286.7,42.9 286.7,42.9 286.7,42.9 286.8,42.9 286.8,42.9 286.8,42.9 286.9,42.9 286.9,42.9 286.9,42.9 287.0,42.9 287.0,42.9 287.1,42.9 287.1,42.9 287.1,42.9 287.2,42.9 287.2,43.0 287.2,43.0 287.3,43.0 287.3,43.0 287.4,43.0 287.4,43.0 287.4,43.0 287.5,43.0 287.5,43.0 287.5,43.0 287.6,43.0 287.6,43.0"/>
<polyline stroke="#ff0000" stroke-width="1.5" points="287.6,43.0 287.6,43.0 287.7,43.0 287.7,43.0 287.8,43.0 287.8,43.0 287.8,43.0 287.9,43.0 287.9,43.0 287.9,43.0 288.0,43.1 288.0,43.1 288.1,43.1 288.1,43.1 288.1,43.1 288.2,43.1 288.2,43.1 288.2,43.1 288.3,43.1 288.3,43.1 288.4,43.1 288.4,43.1 288.4,43.1 288.5,43.1 288.5,43.1 288.5,43.1 288.6,43.1 288.6,43.1 288.6,43.1 288.7,43.1 288.7,43.1 288.8,43.2 288.8,43.2 288.8,43.2 288.9,43.2 288.9,43.2 288.9,43.2 289.0,43.2 289.0,43.2 289.1,43.2 289.1,43.2 289.1,43.2 289.2,43.2 289.2,43.2 289.2,43.2 289.3,43.2 289.3,43.2 289.4,43.2 289.4,43.2 289.4,43.2 289.5,43.2 289.5,43.2 289.5,43.3 289.6,43.3 289.6,43.3 289.6,43.3 289.7,43.3 289.7,43.3 289.8,43.3 289.8,43.3 289.8,43.3 289.9,43.3 289.9,43.3 289.9,43.3 290.0,43.3 290.0,43.3 290.1,43.3 290.1,43.3 290.1,43.3 290.2,43.3 290.2,43.3 290.2,43.4 290.3,43.4 290.3,43.4 290.4,43.4 290.4,43.4 290.4,43.4 290.5,43.4 290.5,43.4 290.5,43.4 290.6,43.4 290.6,43.5 290.6,43.5 290.7,43.5 290.7,43.5 290.8,43.5 290.8,43.5 290.8,43.5 290.9,43.5 290.9,43.5 290.9,43.5 291.0,43.5 291.0,43.6 291.1,43.6 291.1,43.6 291.1,43.6 291.2,43.6 291.2,43.6 291.2,43.6 291.3,43.6 291.3,43.6 291.4,43.6 291.4,43.6 291.4,43.7 291.5,43.7 291.5,43.7 291.5,43.7 291.6,43.7 291.6,43.7 291.6,43.7 291.7,43.7 291.7,43.7 291.8,43.7 291.8,43.7 291.8,43.8 291.9,43.8 291.9,43.8 291.9,43.8 292.0,43.8 292.0,43.8 292.1,43.8 292.1,43.8 292.1,43.8 292.2,43.8 292.2,43.8 292.2,43.9 292.3,43.9 292.3,43.9 292.4,43.9 292.4,43.9 292.4,43.9 292.5,43.9 292.5,43.9 292.5,43.9 292.6,43.9 292.6,43.9 292.6,44.0 292.7,44.0 292.7,44.0 292.8,44.0 292.8,44.0 292.8,44.0 292.9,44.0 292.9,44.0 292.9,44.0 293.0,44.0 293.0,44.0 293.1,44.1 293.1,44.1 293.1,44.1 293.2,44.1 293.2,44.1 293.2,44.1 293.3,44.1 293.3,44.1 293.4,44.1 293.4,44.1 293.4,44.1 293.5,44.2 293.5,44.2 293.5,44.2 293.6,44.2 293.6,44.2 293.6,44.2 293.7,44.2 293.7,44.3 293.8,44.3 293.8,44.3 293.8,44.3 293.9,44.3 293.9,44.3 293.9,44.3 294.0,44.4 294.0,44.4 294.1,44.4 294.1,44.4 294.1,44.4 294.2,44.4 294.2,44.4 294.2,44.5 294.3,44.5 294.3,44.5 294.3,44.5 294.4,44.5 294.4,44.5 294.5,44.5 294.5,44.6 294.5,44.6 294.6,44.6 294.6,44.6 294.6,44.6 294.7,44.6 294.7,44.6 294.8,44.7 294.8,44.7 294.8,44.7 294.9,44.7 294.9,44.7 294.9,44.7 295.0,44.7 295.0,44.8 295.1,44.8 295.1,44.8 295.1,44.8 295.2,44.8 295.2,44.8 295.2,44.8 295.3,44.9 295.3,44.9 295.3,44.9 295.4,44.9 295.4,44.9 295.5,44.9 295.5,44.9 295.5,45.0 295.6,45.0 295.6,45.0 295.6,45.0 295.7,45.0 295.7,45.0 295.8,45.0 295.8,45.1 295.8,45.1 295.9,45.1 295.9,45.1 295.9,45.1 296.0,45.1 296.0,45.1 296.1,45.2 296.1,45.2 296.1,45.2 296.2,45.2 296.2,45.2 296.2,45.2 296.3,45.2 296.3,45.3 296.3,45.3 296.4,45.3 296.4,45.3 296.5,45.3 296.5,45.3 296.5,45.3 296.6,45.4 296.6,45.4 296.6,45.4 296.7,45.4 296.7,45.4 296.8,45.4 296.8,45.4 296.8,45.5 296.9,45.5 296.9,45.5 296.9,45.5 297.0,45.5 297.0,45.5 297.1,45.5 297.1,45.5 297.1,45.5 297.2,45.5 297.2,45.5 297.2,45.5 297.3,45.5 297.3,45.5 297.3,45.5 297.4,45.5 297.4,45.5 297.5,45.5 297.5,45.5 297.5,45.5 297.6,45.5 297.6,45.5 297.6,45.5 297.7,45.5 297.7,45.5 297.8,45.5 297.8,45.5 297.8,45.5 297.9,45.5 297.9,45.5 297.9,45.5 298.0,45.5 298.0,45.5 298.1,45.5 298.1,45.5 298.1,45.5 298.2,45.5 298.2,45.5 298.2,45.5 298.3,45.5 298.3,45.5 298.3,45.5 298.4,45.5 298.4,45.5 298.5,45.5 298.5,45.5 298.5,45.5 298.6,45.5 298.6,45.5 298.6,45.5 298.7,45.5 298.7,45.5 298.8,45.5 298.8,45.5 298.8,45.5 298.9,45.5 298.9,45.5 298.9,45.5 299.0,45.5 299.0,45.5 299.1,45.5 299.1,45.5 299.1,45.5 299.2,45.5 299.2,45.5 299.2,45.5 299.3,45.5 299.3,45.5 299.3,45.5 299.4,45.5 299.4,45.5 299.5,45.5 299.5,45.5 299.5,45.5 299.6,45.5 299.6,45.5 299.6,45.5 299.7,45.5 299.7,45.5 299.8,45.5 299.8,45.5 299.8,45.5 299.9,45.5 299.9,45.5 299.9,45.5 300.0,45.5 300.0,45.5 300.1,45.5 300.1,45.5 300.1,45.5 300.2,45.5 300.2,45.5 300.2,45.5 300.3,45.5 300.3,45.5 300.3,45.5 300.4,45.5 300.4,45.5 300.5,45.5 300.5,45.5 300.5,45.5 300.6,45.5 300.6,45.5 300.6,45.5 300.7,45.5 300.7,45.5 300.8,45.5 300.8,45.5 300.8,45.5 300.9,45.5 300.9,45.5 300.9,45.5 301.0,45.5 301.0,45.5 301.0,45.5 301.1,45.5 301.1,45.5 301.2,45.5 301.2,45.5 301.2,45.5 301.3,45.5 301.3,45.5 301.3,45.5 301.4,45.5 301.4,45.5 301.5,45.5 301.5,45.5 301.5,45.5 301.6,45.5 301.6,45.5 301.6,45.5 301.7,45.5 301.7,45.5 301.8,45.5 301.8,45.5 301.8,45.5 301.9,45.5 301.9,45.5 301.9,45.5 302.0,45.5 302.0,45.5 302.0,45.5 302.1,45.5 302.1,45.5 302.2,45.5 302.2,45.5 302.2,45.5 302.3,45.5 302.3,45.5 302.3,45.5 302.4,45.5 302.4,45.5 302.5,45.5 302.5,45.5 302.5,45.5 302.6,45.5 302.6,45.5 302.6,45.5 302.7,45.5 302.7,45.5 302.8,45.5 302.8,45.5 302.8,45.5 302.9,45.5 302.9,45.5 302.9,45.5 303.0,45.5 303.0,45.5 303.0,45.5 303.1,45.5 303.1,45.5 303.2,45.5 303.2,45.5 303.2,45.5 303.3,45.5 303.3,45.5 303.3,45.5 303.4,45.5 303.4,45.5 303.5,45.5 303.5,45.5 303.5,45.5 303.6,45.5 303.6,45.5 303.6,45.5 303.7,45.5 303.7,45.5 303.8,45.5 303.8,45.5 303.8,45.5 303.9,45.5 303.9,45.5 303.9,45.5 304.0,45.5 304.0,45.5 304.0,45.5 304.1,45.5 304.1,45.5 304.2,45.5 304.2,45.5 304.2,45.5 304.3,45.5 304.3,45.5 304.3,45.5 304.4,45.5 304.4,45.5 304.5,45.5 304.5,45.5 304.5,45.5 304.6,45.5 304.6,45.5 304.6,45.5 304.7,45.5 304.7,45.5 304.8,45.5 304.8,45.5 304.8,45.5 304.9,45.5 304.9,45.5 304.9,45.5 305.0,45.5 305.0,45.5 305.0,45.5 305.1,45.5 305.1,45.5 305.2,45.5 305.2,45.5 305.2,45.5 305.3,45.5 305.3,45.5 305.3,45.5 305.4,45.5 305.4,45.5 305.5,45.5 305.5,45.5 305.5,45.5 305.6,45.5 305.6,45.5 305.6,45.5 305.7,45.5 305.7,45.5 305.8,45.5 305.8,45.5 305.8,45.5 305.9,45.5 305.9,45.5 305.9,45.5 306.0,45.5 306.0,45.5 306.0,45.5 306.1,45.5 306.1,45.5 306.2,45.5 306.2,45.5 306.2,45.5 306.3,45.5 306.3,45.5 306.3,45.5 306.4,45.5 306.4,45.5 306.5,45.5 306.5,45.5 306.5,45.5 306.6,45.5 306.6,45.5 306.6,45.5 306.7,45.5 306.7,45.5 306.8,45.5 306.8,45.5 306.8,45.5 306.9,45.5 306.9,45.5 306.9,45.5 307.0,45.5 307.0,45.5 307.0,45.5 307.1,45.5 307.1,45.5 307.2,45.5 307.2,45.5 307.2,45.5 307.3,45.6 307.3,45.6 307.3,45.6 307.4,45.6 307.4,45.6 307.5,45.6 307.5,45.6 307.5,45.7 307.6,45.7 307.6,45.7 307.6,45.7 307.7,45.7 307.7,45.7 307.7,45.7 307.8,45.7 307.8,45.8 307.9,45.8 307.9,45.8 307.9,45.8 308.0,45.8 308.0,45.8 308.0,45.8 308.1,45.9 308.1,45.9 308.2,45.9 308.2,45.9 308.2,45.9 308.3,45.9 308.3,45.9 308.3,45.9 308.4,46.0 308.4,46.0"/>
<polyline stroke="#ff0000" stroke-width="1.15" points="308.5,46.0 308.5,46.0 308.5,46.0 308.6,46.0 308.6,46.0 308.6,46.1 308.7,46.1 308.7,46.1 308.7,46.1 308.8,46.1 308.8,46.1 308.9,46.1 308.9,46.1 308.9,46.2 309.0,46.2 309.0,46.2 309.0,46.2 309.1,46.2 309.1,46.2 309.2,46.2 309.2,46.3 309.2,46.3 309.3,46.3 309.3,46.3 309.3,46.3 309.4,46.3 309.4,46.3 309.5,46.3 309.5,46.4 309.5,46.4 309.6,46.4 309.6,46.4 309.6,46.4 309.7,46.4 309.7,46.4 309.7,46.5 309.8,46.5 309.8,46.5 309.9,46.5 309.9,46.5 309.9,46.5 310.0,46.5 310.0,46.5 310.0,46.6 310.1,46.6 310.1,46.6 310.2,46.6 310.2,46.6 310.2,46.6 310.3,46.6 310.3,46.7 310.3,46.7 310.4,46.7 310.4,46.7 310.5,46.7 310.5,46.7 310.5,46.7 310.6,46.7 310.6,46.8 310.6,46.8 310.7,46.8 310.7,46.8 310.7,46.8 310.8,46.8 310.8,46.8 310.9,46.9 310.9,46.9 310.9,46.9 311.0,46.9 311.0,46.9 311.0,46.9 311.1,46.9 311.1,46.9 311.2,47.0 311.2,47.0 311.2,47.0 311.3,47.0 311.3,47.0 311.3,47.0 311.4,47.0 311.4,47.0 311.5,47.0 311.5,47.0 311.5,47.0 311.6,47.0 311.6,47.0 311.6,47.0 311.7,47.0 311.7,47.0 311.7,47.0 311.8,47.0 311.8,47.0 311.9,47.0 311.9,47.0 311.9,47.0 312.0,47.0 312.0,47.0 312.0,47.0 312.1,47.0 312.1,47.0 312.2,47.0 312.2,47.0 312.2,47.0 312.3,47.0 312.3,47.0 312.3,47.0 312.4,47.0 312.4,47.0 312.5,47.0 312.5,47.0 312.5,47.0 312.6,47.0 312.6,47.0 312.6,47.0 312.7,47.0 312.7,47.0 312.7,47.0 312.8,47.0 312.8,47.0 312.9,47.0 312.9,47.0 312.9,47.0 313.0,47.0 313.0,47.0 313.0,47.0 313.1,47.0 313.1,47.0 313.2,47.0 313.2,47.0 313.2,47.0 313.3,47.0 313.3,47.0 313.3,47.0 313.4,47.0 313.4,47.0 313.5,47.0 313.5,47.0 313.5,47.0 313.6,47.0 313.6,47.0 313.6,47.0 313.7,47.0 313.7,47.0 313.7,47.0 313.8,47.0 313.8,47.0 313.9,47.0 313.9,47.0 313.9,47.0 314.0,47.0 314.0,47.0 314.0,47.0 314.1,47.0 314.1,47.0 314.2,47.0 314.2,47.0 314.2,47.0 314.3,47.0 314.3,47.0 314.3,47.0 314.4,47.0 314.4,47.0 314.4,47.0 314.5,47.0 314.5,47.0 314.6,47.0 314.6,47.0 314.6,47.0 314.7,47.0 314.7,47.0 314.7,47.0 314.8,47.0 314.8,47.0 314.9,47.0 314.9,47.0 314.9,47.0 315.0,47.0 315.0,47.0 315.0,47.0 315.1,47.0 315.1,47.0 315.2,47.0 315.2,47.0 315.2,47.0 315.3,47.0 315.3,47.0 315.3,47.0 315.4,47.0 315.4,47.0 315.4,47.0 315.5,47.0 315.5,47.0 315.6,47.0 315.6,47.0 315.6,47.0 315.7,47.0 315.7,47.0 315.7,47.0 315.8,47.0 315.8,47.0 315.9,47.0 315.9,47.0 315.9,47.0 316.0,47.0 316.0,47.0 316.0,47.0 316.1,47.0 316.1,47.0 316.2,47.0 316.2,47.0 316.2,47.0 316.3,47.0 316.3,47.0 316.3,47.0 316.4,47.0 316.4,47.0 316.4,47.0 316.5,47.0 316.5,47.0 316.6,47.0 316.6,47.0 316.6,47.0 316.7,47.0 316.7,47.0 316.7,47.0 316.8,47.0 316.8,47.0 316.9,47.0 316.9,47.0 316.9,47.0 317.0,47.0 317.0,47.0 317.0,47.0 317.1,47.0 317.1,47.0 317.2,47.0 317.2,47.0 317.2,47.0 317.3,47.0 317.3,47.0 317.3,47.0 317.4,47.0 317.4,47.0 317.4,47.0 317.5,47.0 317.5,47.0 317.6,47.0 317.6,47.0 317.6,47.0 317.7,47.0 317.7,47.0 317.7,47.0 317.8,47.0 317.8,47.0 317.9,47.0 317.9,47.0 317.9,47.0 318.0,47.0 318.0,47.0 318.0,47.0 318.1,47.0 318.1,47.0 318.2,47.0 318.2,47.0 318.2,47.0 318.3,47.0 318.3,47.0 318.3,47.0 318.4,47.0 318.4,47.0 318.4,47.0 318.5,47.0 318.5,47.0 318.6,47.0 318.6,47.0 318.6,47.0 318.7,47.0 318.7,47.0 318.7,47.0 318.8,47.0 318.8,47.0 318.9,47.0 318.9,47.0 318.9,47.0 319.0,47.0 319.0,47.0 319.0,47.0 319.1,47.0 319.1,47.0 319.2,47.0 319.2,47.0 319.2,47.0 319.3,47.0 319.3,47.0 319.3,47.0 319.4,47.0 319.4,47.0 319.4,47.0 319.5,47.0 319.5,47.0 319.6,47.0 319.6,47.0 319.6,47.0 319.7,47.0 319.7,47.0 319.7,47.0 319.8,47.0 319.8,47.0 319.9,47.0 319.9,47.0 319.9,47.0 320.0,47.0 320.0,47.0 320.0,47.0 320.1,47.0 320.1,47.0 320.2,47.0 320.2,47.0 320.2,47.0 320.3,47.0 320.3,47.0 320.3,47.0 320.4,47.1 320.4,47.1 320.4,47.2 320.5,47.2 320.5,47.3 320.6,47.3 320.6,47.3 320.6,47.4 320.7,47.4 320.7,47.5 320.7,47.5 320.8,47.6 320.8,47.6 320.9,47.7 320.9,47.7 320.9,47.8 321.0,47.8 321.0,47.8 321.0,47.9 321.1,47.9 321.1,48.0 321.1,48.0 321.2,48.1 321.2,48.1 321.3,48.2 321.3,48.2 321.3,48.3 321.4,48.3 321.4,48.3 321.4,48.4 321.5,48.4 321.5,48.4 321.6,48.4 321.6,48.4 321.6,48.4 321.7,48.4 321.7,48.4 321.7,48.4 321.8,48.4 321.8,48.4 321.9,48.4 321.9,48.4 321.9,48.4 322.0,48.4 322.0,48.4 322.0,48.4 322.1,48.4 322.1,48.4 322.1,48.4 322.2,48.4 322.2,48.4 322.3,48.4 322.3,48.4 322.3,48.4 322.4,48.4 322.4,48.4 322.4,48.4 322.5,48.4 322.5,48.4 322.6,48.4 322.6,48.4 322.6,48.4 322.7,48.4 322.7,48.4 322.7,48.4 322.8,48.4 322.8,48.4 322.9,48.4 322.9,48.4 322.9,48.4 323.0,48.4 323.0,48.4 323.0,48.4 323.1,48.4 323.1,48.4 323.1,48.4 323.2,48.4 323.2,48.4 323.3,48.4 323.3,48.4 323.3,48.4 323.4,48.4 323.4,48.4 323.4,48.4 323.5,48.4 323.5,48.4 323.6,48.4 323.6,48.4 323.6,48.4 323.7,48.4 323.7,48.4 323.7,48.4 323.8,48.4 323.8,48.4 323.9,48.4 323.9,48.4 323.9,48.4 324.0,48.4 324.0,48.4 324.0,48.4 324.1,48.4 324.1,48.4 324.1,48.4 324.2,48.4 324.2,48.4 324.3,48.4 324.3,48.4 324.3,48.4 324.4,48.4 324.4,48.4 324.4,48.4 324.5,48.4 324.5,48.4 324.6,48.4 324.6,48.4 324.6,48.4 324.7,48.4 324.7,48.4 324.7,48.4 324.8,48.4 324.8,48.4 324.9,48.4 324.9,48.4 324.9,48.4 325.0,48.4 325.0,48.4 325.0,48.4 325.1,48.4 325.1,48.4 325.1,48.4 325.2,48.4 325.2,48.4 325.3,48.4 325.3,48.4 325.3,48.4 325.4,48.4 325.4,48.4 325.4,48.4 325.5,48.4 325.5,48.4 325.6,48.4 325.6,48.4 325.6,48.4 325.7,48.4 325.7,48.4 325.7,48.4 325.8,48.4 325.8,48.4 325.9,48.4 325.9,48.4 325.9,48.4 326.0,48.4 326.0,48.4 326.0,48.4 326.1,48.4 326.1,48.4 326.1,48.4 326.2,48.4 326.2,48.4 326.3,48.4 326.3,48.4 326.3,48.4 326.4,48.4 326.4,48.4 326.4,48.4 326.5,48.4 326.5,48.4 326.6,48.4 326.6,48.4 326.6,48.4 326.7,48.4 326.7,48.4 326.7,48.4 326.8,48.4 326.8,48.4 326.9,48.4 326.9,48.4 326.9,48.4 327.0,48.4 327.0,48.4 327.0,48.4 327.1,48.4 327.1,48.4 327.1,48.4 327.2,48.4 327.2,48.4 327.3,48.4 327.3,48.4 327.3,48.4 327.4,48.4 327.4,48.4 327.4,48.4 327.5,48.4 327.5,48.4 327.6,48.4 327.6,48.4 327.6,48.4 327.7,48.4 327.7,48.4 327.7,48.4 327.8,48.4 327.8,48.4 327.8,48.4 327.9,48.4 327.9,48.4 328.0,48.4 328.0,48.4 328.0,48.4 328.1,48.4 328.1,48.4 328.1,48.4 328.2,48.4 328.2,48.4 328.3,48.4 328.3,48.4 328.3,48.4 328.4,48.4 328.4,48.4 328.4,48.4 328.5,48.4 328.5,48.4 328.6,48.4 328.6,48.4 328.6,48.4 328.7,48.4 328.7,48.4 328.7,48.4 328.8,48.4 328.8,48.4 328.8,48.4 328.9,48.4 328.9,48.4 329.0,48.4 329.0,48.4 329.0,48.4 329.1,48.4 329.1,48.4 329.1,48.4 329.2,48.4 329.2,48.4 329.3,48.4 329.3,48.4 329.3,48.4 329.4,48.4 329.4,48.4 329.4,48.4 329.5,48.4 329.5,48.4 329.6,48.4 329.6,48.4 329.6,48.4 329.7,48.4 329.7,48.4 329.7,48.4 329.8,48.4 329.8,48.4 329.8,48.4 329.9,48.4 329.9,48.4 330.0,48.4 330.0,48.4 330.0,48.4 330.1,48.4 330.1,48.4 330.1,48.4 330.2,48.4 330.2,48.4 330.3,48.4 330.3,48.4 330.3,48.4 330.4,48.4 330.4,48.4 330.4,48.4 330.5,48.4 330.5,48.4 330.6,48.4 330.6,48.4 330.6,48.4 330.7,48.4 330.7,48.4 330.7,48.4 330.8,48.4 330.8,48.4 330.8,48.4 330.9,48.4 330.9,48.4 331.0,48.4 331.0,48.4 331.0,48.4 331.1,48.4 331.1,48.4 331.1,48.4 331.2,48.4 331.2,48.4 331.3,48.4 331.3,48.4 331.3,48.4 331.4,48.4 331.4,48.4 331.4,48.4 331.5,48.4 331.5,48.4 331.6,48.4 331.6,48.4 331.6,48.4 331.7,48.4 331.7,48.5 331.7,48.5 331.8,48.6 331.8,48.6 331.8,48.6 331.9,48.7 331.9,48.7 332.0,48.8 332.0,48.8 332.0,48.8 332.1,48.9 332.1,48.9 332.1,49.0 332.2,49.0 332.2,49.0 332.3,49.1 332.3,49.1 332.3,49.1 332.4,49.2 332.4,49.2 332.4,49.3 332.5,49.3 332.5,49.3 332.6,49.4 332.6,49.4 332.6,49.5 332.7,49.5 332.7,49.5 332.7,49.5 332.8,49.5 332.8,49.5 332.8,49.5 332.9,49.5 332.9,49.5 333.0,49.5 333.0,49.5 333.0,49.5 333.1,49.5 333.1,49.5 333.1,49.5 333.2,49.5 333.2,49.5 333.3,49.5 333.3,49.5 333.3,49.5 333.4,49.5 333.4,49.5 333.4,49.5 333.5,49.5 333.5,49.5 333.6,49.5 333.6,49.5 333.6,49.5 333.7,49.5 333.7,49.5 333.7,49.5 333.8,49.5 333.8,49.5 333.8,49.5 333.9,49.5 333.9,49.5 334.0,49.5 334.0,49.5 334.0,49.5 334.1,49.5 334.1,49.5 334.1,49.5 334.2,49.5 334.2,49.5 334.3,49.5 334.3,49.5 334.3,49.5 334.4,49.5 334.4,49.5 334.4,49.5 334.5,49.5 334.5,49.5 334.5,49.5 334.6,49.5 334.6,49.5 334.7,49.5 334.7,49.5 334.7,49.5 334.8,49.5 334.8,49.5 334.8,49.5 334.9,49.5 334.9,49.5 335.0,49.5 335.0,49.5 335.0,49.5 335.1,49.5 335.1,49.5 335.1,49.5 335.2,49.5 335.2,49.5 335.3,49.5 335.3,49.5 335.3,49.5 335.4,49.5 335.4,49.5 335.4,49.5 335.5,49.5 335.5,49.5 335.5,49.5 335.6,49.5 335.6,49.5 335.7,49.5 335.7,49.5 335.7,49.5 335.8,49.5 335.8,49.5 335.8,49.5 335.9,49.5 335.9,49.5 336.0,49.5 336.0,49.5 336.0,49.5 336.1,49.5 336.1,49.5 336.1,49.5 336.2,49.5 336.2,49.5 336.3,49.5 336.3,49.5 336.3,49.5 336.4,49.5 336.4,49.5 336.4,49.5 336.5,49.5 336.5,49.5 336.5,49.5 336.6,49.5 336.6,49.5 336.7,49.5 336.7,49.5 336.7,49.5 336.8,49.5 336.8,49.5 336.8,49.5 336.9,49.5 336.9,49.5 337.0,49.5 337.0,49.5 337.0,49.5 337.1,49.5 337.1,49.5 337.1,49.5 337.2,49.5 337.2,49.5 337.3,49.5 337.3,49.5 337.3,49.5 337.4,49.5 337.4,49.5 337.4,49.5 337.5,49.5 337.5,49.5 337.5,49.5 337.6,49.5 337.6,49.5 337.7,49.5 337.7,49.5 337.7,49.5 337.8,49.5 337.8,49.5 337.8,49.5 337.9,49.5 337.9,49.5 338.0,49.5 338.0,49.5 338.0,49.5 338.1,49.5 338.1,49.5 338.1,49.5 338.2,49.5 338.2,49.5 338.3,49.5 338.3,49.5 338.3,49.5 338.4,49.5 338.4,49.6 338.4,49.6 338.5,49.6 338.5,49.6 338.5,49.7 338.6,49.7 338.6,49.7 338.7,49.8 338.7,49.8 338.7,49.8 338.8,49.9 338.8,49.9 338.8,49.9 338.9,50.0 338.9,50.0 339.0,50.0 339.0,50.0 339.0,50.1 339.1,50.1 339.1,50.1 339.1,50.2 339.2,50.2 339.2,50.2 339.3,50.3 339.3,50.3 339.3,50.3 339.4,50.3 339.4,50.4 339.4,50.4 339.5,50.4 339.5,50.4 339.5,50.4 339.6,50.4 339.6,50.4 339.7,50.4 339.7,50.4 339.7,50.4 339.8,50.4 339.8,50.4 339.8,50.4 339.9,50.4 339.9,50.4 340.0,50.4 340.0,50.4 340.0,50.4 340.1,50.4 340.1,50.4 340.1,50.4 340.2,50.4 340.2,50.4 340.3,50.4 340.3,50.4 340.3,50.4 340.4,50.4 340.4,50.4 340.4,50.4 340.5,50.4 340.5,50.4 340.5,50.4 340.6,50.4 340.6,50.4 340.7,50.4 340.7,50.4 340.7,50.4 340.8,50.4 340.8,50.4 340.8,50.4 340.9,50.4 340.9,50.4 341.0,50.4 341.0,50.4 341.0,50.4 341.1,50.4 341.1,50.4 341.1,50.4 341.2,50.4 341.2,50.4 341.2,50.4 341.3,50.4 341.3,50.4 341.4,50.4 341.4,50.4 341.4,50.4 341.5,50.4 341.5,50.4 341.5,50.4 341.6,50.4 341.6,50.4 341.7,50.4 341.7,50.4 341.7,50.4 341.8,50.4 341.8,50.4 341.8,50.4 341.9,50.4 341.9,50.4 342.0,50.4 342.0,50.4 342.0,50.4 342.1,50.4 342.1,50.4 342.1,50.4 342.2,50.4 342.2,50.4 342.2,50.4 342.3,50.4 342.3,50.4 342.4,50.4 342.4,50.4 342.4,50.4 342.5,50.4 342.5,50.4 342.5,50.4 342.6,50.4 342.6,50.4 342.7,50.4 342.7,50.4 342.7,50.4 342.8,50.4 342.8,50.4 342.8,50.4 342.9,50.4 342.9,50.4 343.0,50.4 343.0,50.4 343.0,50.4 343.1,50.4 343.1,50.4 343.1,50.4 343.2,50.4 343.2,50.4 343.2,50.4 343.3,50.4 343.3,50.4 343.4,50.4 343.4,50.4 343.4,50.4 343.5,50.4 343.5,50.4 343.5,50.4 343.6,50.4 343.6,50.4 343.7,50.4 343.7,50.4 343.7,50.4 343.8,50.4 343.8,50.4 343.8,50.4 343.9,50.4 343.9,50.4 344.0,50.4 344.0,50.4 344.0,50.4 344.1,50.4 344.1,50.4 344.1,50.4 344.2,50.4 344.2,50.4 344.2,50.4 344.3,50.4 344.3,50.4 344.4,50.4 344.4,50.4 344.4,50.4 344.5,50.4 344.5,50.4 344.5,50.4 344.6,50.4 344.6,50.4 344.7,50.4 344.7,50.4 344.7,50.4 344.8,50.4 344.8,50.4 344.8,50.4 344.9,50.4 344.9,50.4 345.0,50.4 345.0,50.4 345.0,50.4 345.1,50.4 345.1,50.4 345.1,50.4 345.2,50.4 345.2,50.4 345.2,50.4 345.3,50.4 345.3,50.4 345.4,50.4 345.4,50.4 345.4,50.4 345.5,50.4 345.5,50.4 345.5,50.4 345.6,50.4 345.6,50.4 345.7,50.4 345.7,50.4 345.7,50.4 345.8,50.4 345.8,50.4 345.8,50.4 345.9,50.4 345.9,50.4 346.0,50.4 346.0,50.4 346.0,50.4 346.1,50.4 346.1,50.4 346.1,50.4 346.2,50.4 346.2,50.4 346.2,50.4 346.3,50.4 346.3,50.4 346.4,50.4 346.4,50.4 346.4,50.4 346.5,50.4 346.5,50.4 346.5,50.4 346.6,50.4 346.6,50.4 346.7,50.4 346.7,50.4 346.7,50.4 346.8,50.4 346.8,50.4 346.8,50.4 346.9,50.4 346.9,50.4 347.0,50.4 347.0,50.4 347.0,50.4 347.1,50.4 347.1,50.4 347.1,50.4 347.2,50.4 347.2,50.4 347.2,50.4 347.3,50.4 347.3,50.4 347.4,50.5 347.4,50.5 347.4,50.5 347.5,50.5 347.5,50.5 347.5,50.6 347.6,50.6 347.6,50.6 347.7,50.6 347.7,50.6 347.7,50.7 347.8,50.7 347.8,50.7 347.8,50.7 347.9,50.8 347.9,50.8 347.9,50.8 348.0,50.8 348.0,50.8 348.1,50.9 348.1,50.9 348.1,50.9 348.2,50.9 348.2,50.9 348.2,51.0 348.3,51.0 348.3,51.0 348.4,51.0 348.4,51.1 348.4,51.1 348.5,51.1 348.5,51.1 348.5,51.1 348.6,51.1 348.6,51.1 348.7,51.1 348.7,51.1 348.7,51.1 348.8,51.1 348.8,51.1 348.8,51.1 348.9,51.1 348.9,51.1 348.9,51.1 349.0,51.1 349.0,51.1 349.1,51.1 349.1,51.1 349.1,51.1 349.2,51.1 349.2,51.1 349.2,51.1 349.3,51.1 349.3,51.1 349.4,51.1 349.4,51.1 349.4,51.1 349.5,51.1 349.5,51.1 349.5,51.1 349.6,51.1 349.6,51.1 349.7,51.1 349.7,51.1 349.7,51.1 349.8,51.1 349.8,51.1 349.8,51.1 349.9,51.1 349.9,51.1 349.9,51.1 350.0,51.1 350.0,51.1 350.1,51.1 350.1,51.1 350.1,51.1 350.2,51.1 350.2,51.1 350.2,51.1 350.3,51.1 350.3,51.1 350.4,51.1 350.4,51.1 350.4,51.1 350.5,51.1 350.5,51.1 350.5,51.1 350.6,51.1 350.6,51.1 350.7,51.1 350.7,51.1 350.7,51.1 350.8,51.1 350.8,51.1 350.8,51.1 350.9,51.1 350.9,51.1 350.9,51.1 351.0,51.1 351.0,51.1 351.1,51.1 351.1,51.1 351.1,51.1 351.2,51.1 351.2,51.1 351.2,51.1 351.3,51.1 351.3,51.1 351.4,51.1 351.4,51.1 351.4,51.1 351.5,51.1 351.5,51.1 351.5,51.1 351.6,51.1 351.6,51.1 351.7,51.1 351.7,51.1 351.7,51.1 351.8,51.1 351.8,51.1 351.8,51.1 351.9,51.1 351.9,51.1 351.9,51.1 352.0,51.1 352.0,51.1 352.1,51.1 352.1,51.1 352.1,51.1 352.2,51.1 352.2,51.1 352.2,51.1 352.3,51.1 352.3,51.1 352.4,51.1 352.4,51.1 352.4,51.1 352.5,51.1 352.5,51.1 352.5,51.1 352.6,51.1 352.6,51.1 352.7,51.1 352.7,51.1 352.7,51.1 352.8,51.1 352.8,51.1 352.8,51.1 352.9,51.1 352.9,51.1 352.9,51.1 353.0,51.1 353.0,51.1 353.1,51.1 353.1,51.1 353.1,51.1 353.2,51.1 353.2,51.1 353.2,51.1 353.3,51.1 353.3,51.1 353.4,51.1 353.4,51.1 353.4,51.1 353.5,51.1 353.5,51.1 353.5,51.1 353.6,51.1 353.6,51.1 353.7,51.1 353.7,51.1 353.7,51.1 353.8,51.1 353.8,51.1 353.8,51.1 353.9,51.1 353.9,51.1 353.9,51.1 354.0,51.1 354.0,51.1 354.1,51.1 354.1,51.1 354.1,51.1 354.2,51.1 354.2,51.1 354.2,51.1 354.3,51.1 354.3,51.1 354.4,51.1 354.4,51.1 354.4,51.1 354.5,51.1 354.5,51.1 354.5,51.1 354.6,51.1 354.6,51.1 354.6,51.1 354.7,51.1 354.7,51.1 354.8,51.1 354.8,51.1 354.8,51.1 354.9,51.1 354.9,51.1 354.9,51.1 355.0,51.1 355.0,51.1 355.1,51.1 355.1,51.1 355.1,51.1 355.2,51.1 355.2,51.1 355.2,51.1 355.3,51.1 355.3,51.1 355.4,51.1 355.4,51.1 355.4,51.1 355.5,51.1 355.5,51.1 355.5,51.1 355.6,51.1 355.6,51.1 355.6,51.1 355.7,51.1 355.7,51.1 355.8,51.1 355.8,51.1 355.8,51.1 355.9,51.1 355.9,51.1 355.9,51.1 356.0,51.1 356.0,51.1 356.1,51.1 356.1,51.1 356.1,51.1 356.2,51.1 356.2,51.1 356.2,51.1 356.3,51.1 356.3,51.1 356.4,51.1 356.4,51.1 356.4,51.1 356.5,51.1 356.5,51.1 356.5,51.1 356.6,51.1 356.6,51.1 356.6,51.1 356.7,51.1 356.7,51.1 356.8,51.1 356.8,51.1 356.8,51.1 356.9,51.1 356.9,51.1 356.9,51.1 357.0,51.1 357.0,51.1 357.1,51.1 357.1,51.1 357.1,51.1 357.2,51.1 357.2,51.1 357.2,51.1 357.3,51.1 357.3,51.1 357.4,51.1 357.4,51.1 357.4,51.1 357.5,51.1 357.5,51.1 357.5,51.1 357.6,51.1 357.6,51.1 357.6,51.1 357.7,51.1 357.7,51.1 357.8,51.1 357.8,51.1 357.8,51.1 357.9,51.1 357.9,51.1 357.9,51.1 358.0,51.1 358.0,51.1 358.1,51.1 358.1,51.1 358.1,51.1 358.2,51.1 358.2,51.1 358.2,51.1 358.3,51.1 358.3,51.1 358.4,51.1 358.4,51.1 358.4,51.1 358.5,51.1 358.5,51.1 358.5,51.1 358.6,51.1 358.6,51.1 358.6,51.1 358.7,51.1 358.7,51.1 358.8,51.1 358.8,51.1 358.8,51.1 358.9,51.1 358.9,51.1 358.9,51.1 359.0,51.1 359.0,51.1 359.1,51.1 359.1,51.1 359.1,51.1 359.2,51.1 359.2,51.1 359.2,51.1 359.3,51.1 359.3,51.1 359.4,51.1 359.4,51.1 359.4,51.1 359.5,51.1 359.5,51.1 359.5,51.1 359.6,51.1 359.6,51.1 359.6,51.1 359.7,51.1 359.7,51.1 359.8,51.1 359.8,51.1 359.8,51.1 359.9,51.1 359.9,51.1 359.9,51.1 360.0,51.1 360.0,51.1 360.1,51.1 360.1,51.1 360.1,51.1 360.2,51.1 360.2,51.1 360.2,51.1 360.3,51.1 360.3,51.1 360.4,51.1 360.4,51.1 360.4,51.1 360.5,51.1 360.5,51.1 360.5,51.1 360.6,51.1 360.6,51.1 360.6,51.1 360.7,51.1 360.7,51.1 360.8,51.1 360.8,51.1 360.8,51.1 360.9,51.1 360.9,51.1 360.9,51.1 361.0,51.1 361.0,51.1 361.1,51.1 361.1,51.1 361.1,51.1 361.2,51.1 361.2,51.1 361.2,51.1 361.3,51.1 361.3,51.1 361.3,51.1 361.4,51.1 361.4,51.1 361.5,51.1 361.5,51.1 361.5,51.1 361.6,51.1 361.6,51.1 361.6,51.1 361.7,51.1 361.7,51.1 361.8,51.1 361.8,51.1 361.8,51.1 361.9,51.1 361.9,51.1 361.9,51.1 362.0,51.1 362.0,51.1 362.1,51.1 362.1,51.1 362.1,51.1 362.2,51.1 362.2,51.1 362.2,51.1 362.3,51.1 362.3,51.1 362.3,51.1 362.4,51.1 362.4,51.1 362.5,51.1 362.5,51.1 362.5,51.1 362.6,51.1 362.6,51.1 362.6,51.1 362.7,51.1 362.7,51.1 362.8,51.1 362.8,51.1 362.8,51.1 362.9,51.1 362.9,51.1 362.9,51.1 363.0,51.1 363.0,51.1 363.1,51.1 363.1,51.1 363.1,51.1 363.2,51.1 363.2,51.1 363.2,51.1 363.3,51.1 363.3,51.1 363.3,51.1 363.4,51.1 363.4,51.1 363.5,51.1 363.5,51.1 363.5,51.1 363.6,51.1 363.6,51.1 363.6,51.1 363.7,51.1 363.7,51.1 363.8,51.1 363.8,51.1 363.8,51.1 363.9,51.1 363.9,51.1 363.9,51.1 364.0,51.1 364.0,51.1 364.1,51.1 364.1,51.1 364.1,51.1 364.2,51.1 364.2,51.1 364.2,51.1 364.3,51.1 364.3,51.1 364.3,51.1 364.4,51.1 364.4,51.1 364.5,51.1 364.5,51.1 364.5,51.1 364.6,51.1 364.6,51.1 364.6,51.1 364.7,51.1 364.7,51.1 364.8,51.1 364.8,51.1 364.8,51.1 364.9,51.1 364.9,51.1 364.9,51.1 365.0,51.1 365.0,51.1 365.1,51.1 365.1,51.1 365.1,51.1 365.2,51.1 365.2,51.1 365.2,51.1 365.3,51.1 365.3,51.1 365.3,51.1 365.4,51.1 365.4,51.1 365.5,51.1 365.5,51.1 365.5,51.1 365.6,51.1 365.6,51.1 365.6,51.1 365.7,51.1 365.7,51.1 365.8,51.1 365.8,51.1 365.8,51.1 365.9,51.1 365.9,51.1 365.9,51.1 366.0,51.1 366.0,51.1 366.1,51.1 366.1,51.1 366.1,51.1 366.2,51.1 366.2,51.1 366.2,51.1 366.3,51.1 366.3,51.1 366.3,51.1 366.4,51.1 366.4,51.1 366.5,51.1 366.5,51.1 366.5,51.1 366.6,51.1 366.6,51.1 366.6,51.1 366.7,51.1 366.7,51.1 366.8,51.1 366.8,51.1 366.8,51.1 366.9,51.1 366.9,51.1 366.9,51.1 367.0,51.1 367.0,51.1 367.1,51.1 367.1,51.1 367.1,51.1 367.2,51.1 367.2,51.1 367.2,51.1 367.3,51.1 367.3,51.1 367.3,51.1 367.4,51.1 367.4,51.1 367.5,51.1 367.5,51.1 367.5,51.1 367.6,51.1 367.6,51.1 367.6,51.1 367.7,51.1 367.7,51.1 367.8,51.1 367.8,51.1 367.8,51.1 367.9,51.1 367.9,51.1 367.9,51.1 368.0,51.1 368.0,51.1 368.0,51.1 368.1,51.1 368.1,51.1 368.2,51.1 368.2,51.1 368.2,51.1 368.3,51.1 368.3,51.1 368.3,51.1 368.4,51.1 368.4,51.1 368.5,51.1 368.5,51.1 368.5,51.1 368.6,51.1 368.6,51.1 368.6,51.1 368.7,51.1 368.7,51.1 368.8,51.1 368.8,51.1 368.8,51.1 368.9,51.1 368.9,51.1 368.9,51.1 369.0,51.1 369.0,51.1 369.0,51.1 369.1,51.1 369.1,51.1 369.2,51.1 369.2,51.1 369.2,51.1 369.3,51.1 369.3,51.1 369.3,51.1 369.4,51.1 369.4,51.1 369.5,51.1 369.5,51.1 369.5,51.1 369.6,51.1 369.6,51.1 369.6,51.1 369.7,51.1 369.7,51.1 369.8,51.1 369.8,51.1 369.8,51.1 369.9,51.1 369.9,51.1 369.9,51.1 370.0,51.1 370.0,51.1 370.0,51.1 370.1,51.1 370.1,51.1 370.2,51.1 370.2,51.1 370.2,51.1 370.3,51.1 370.3,51.1 370.3,51.1 370.4,51.1 370.4,51.1 370.5,51.1 370.5,51.1 370.5,51.1 370.6,51.1 370.6,51.1 370.6,51.1 370.7,51.1 370.7,51.1 370.8,51.1 370.8,51.1 370.8,51.1 370.9,51.1 370.9,51.1"/>
</g>
<line x1="37.75" y1="213.4" x2="135" y2="213.4" stroke="#000" stroke-width="1.1"/>
<line x1="37.0" y1="7.5" x2="62" y2="7.5" stroke="#000" stroke-width="1.1"/>
<g stroke="#000" stroke-width="1.0">
<line x1="37.75" y1="213.40" x2="37.75" y2="211.20"/><line x1="54.41" y1="213.40" x2="54.41" y2="211.70"/><line x1="71.06" y1="213.40" x2="71.06" y2="211.70"/><line x1="87.72" y1="213.40" x2="87.72" y2="211.70"/><line x1="104.38" y1="213.40" x2="104.38" y2="211.70"/><line x1="121.04" y1="213.40" x2="121.04" y2="211.20"/><line x1="137.69" y1="213.40" x2="137.69" y2="211.70"/><line x1="154.35" y1="213.40" x2="154.35" y2="211.70"/><line x1="171.01" y1="213.40" x2="171.01" y2="211.70"/><line x1="187.67" y1="213.40" x2="187.67" y2="211.70"/><line x1="204.32" y1="213.40" x2="204.32" y2="211.20"/><line x1="220.98" y1="213.40" x2="220.98" y2="211.70"/><line x1="237.64" y1="213.40" x2="237.64" y2="211.70"/><line x1="254.30" y1="213.40" x2="254.30" y2="211.70"/><line x1="270.96" y1="213.40" x2="270.96" y2="211.70"/><line x1="287.61" y1="213.40" x2="287.61" y2="211.20"/><line x1="304.27" y1="213.40" x2="304.27" y2="211.70"/><line x1="320.93" y1="213.40" x2="320.93" y2="211.70"/><line x1="337.58" y1="213.40" x2="337.58" y2="211.70"/><line x1="354.24" y1="213.40" x2="354.24" y2="211.70"/><line x1="370.90" y1="213.40" x2="370.90" y2="211.20"/><line x1="37.75" y1="213.40" x2="40.75" y2="213.40"/><line x1="37.75" y1="203.11" x2="39.85" y2="203.11"/><line x1="37.75" y1="192.81" x2="39.85" y2="192.81"/><line x1="37.75" y1="182.51" x2="39.85" y2="182.51"/><line x1="37.75" y1="172.22" x2="40.75" y2="172.22"/><line x1="37.75" y1="161.93" x2="39.85" y2="161.93"/><line x1="37.75" y1="151.63" x2="39.85" y2="151.63"/><line x1="37.75" y1="141.33" x2="39.85" y2="141.33"/><line x1="37.75" y1="131.04" x2="40.75" y2="131.04"/><line x1="37.75" y1="120.75" x2="39.85" y2="120.75"/><line x1="37.75" y1="110.45" x2="39.85" y2="110.45"/><line x1="37.75" y1="100.15" x2="39.85" y2="100.15"/><line x1="37.75" y1="89.86" x2="40.75" y2="89.86"/><line x1="37.75" y1="79.56" x2="39.85" y2="79.56"/><line x1="37.75" y1="69.27" x2="39.85" y2="69.27"/><line x1="37.75" y1="58.97" x2="39.85" y2="58.97"/><line x1="37.75" y1="48.68" x2="40.75" y2="48.68"/><line x1="37.75" y1="38.38" x2="39.85" y2="38.38"/><line x1="37.75" y1="28.09" x2="39.85" y2="28.09"/><line x1="37.75" y1="17.79" x2="39.85" y2="17.79"/><line x1="37.75" y1="7.50" x2="40.75" y2="7.50"/>
</g>
<g><text transform="translate(35.3,218.00) scale(0.94,1)" text-anchor="end" style="font-size:13px">0.0</text><text transform="translate(35.3,176.82) scale(0.94,1)" text-anchor="end" style="font-size:13px">0.2</text><text transform="translate(35.3,135.64) scale(0.94,1)" text-anchor="end" style="font-size:13px">0.4</text><text transform="translate(35.3,94.46) scale(0.94,1)" text-anchor="end" style="font-size:13px">0.6</text><text transform="translate(35.3,53.28) scale(0.94,1)" text-anchor="end" style="font-size:13px">0.8</text><text transform="translate(35.3,12.10) scale(0.94,1)" text-anchor="end" style="font-size:13px">1.0</text><text transform="translate(37.75,228) scale(0.94,1)" text-anchor="middle" style="font-size:13px">0</text><text transform="translate(121.04,228) scale(0.94,1)" text-anchor="middle" style="font-size:13px">1</text><text transform="translate(204.32,228) scale(0.94,1)" text-anchor="middle" style="font-size:13px">2</text><text transform="translate(287.61,228) scale(0.94,1)" text-anchor="middle" style="font-size:13px">3</text><text transform="translate(370.90,228) scale(0.94,1)" text-anchor="middle" style="font-size:13px">4</text>
<text x="204.7" y="247.1" text-anchor="middle" style="font-size:13.6px">gt</text>
<text x="293.6" y="95.4" style="font-size:14px;letter-spacing:0.15px"><tspan font-style="italic">γ</tspan>=0.03</text>
<text x="213.1" y="28.5" style="fill:#ff0000;font-size:13.7px;letter-spacing:0.7px">11</text>
<text x="221.8" y="188" style="fill:#0000ff;font-size:13.7px;letter-spacing:0.3px">20</text>
</g>
<text transform="translate(13.2,111.8) rotate(-90)" text-anchor="middle" style="font-size:13.8px">Probabilities</text>
<g fill="none" stroke="#ff0000" stroke-width="0.9">
<line x1="211.9" y1="18.5" x2="211.9" y2="30.5"/>
<polyline points="227.6,18.7 230.8,24.6 227.6,30.5"/>
</g>
<g fill="none" stroke="#0000ff" stroke-width="0.9">
<line x1="220.5" y1="178" x2="220.5" y2="189.8"/>
<polyline points="236.5,178.3 239.6,184 236.5,189.8"/>
</g>
</svg>
</body></html>
